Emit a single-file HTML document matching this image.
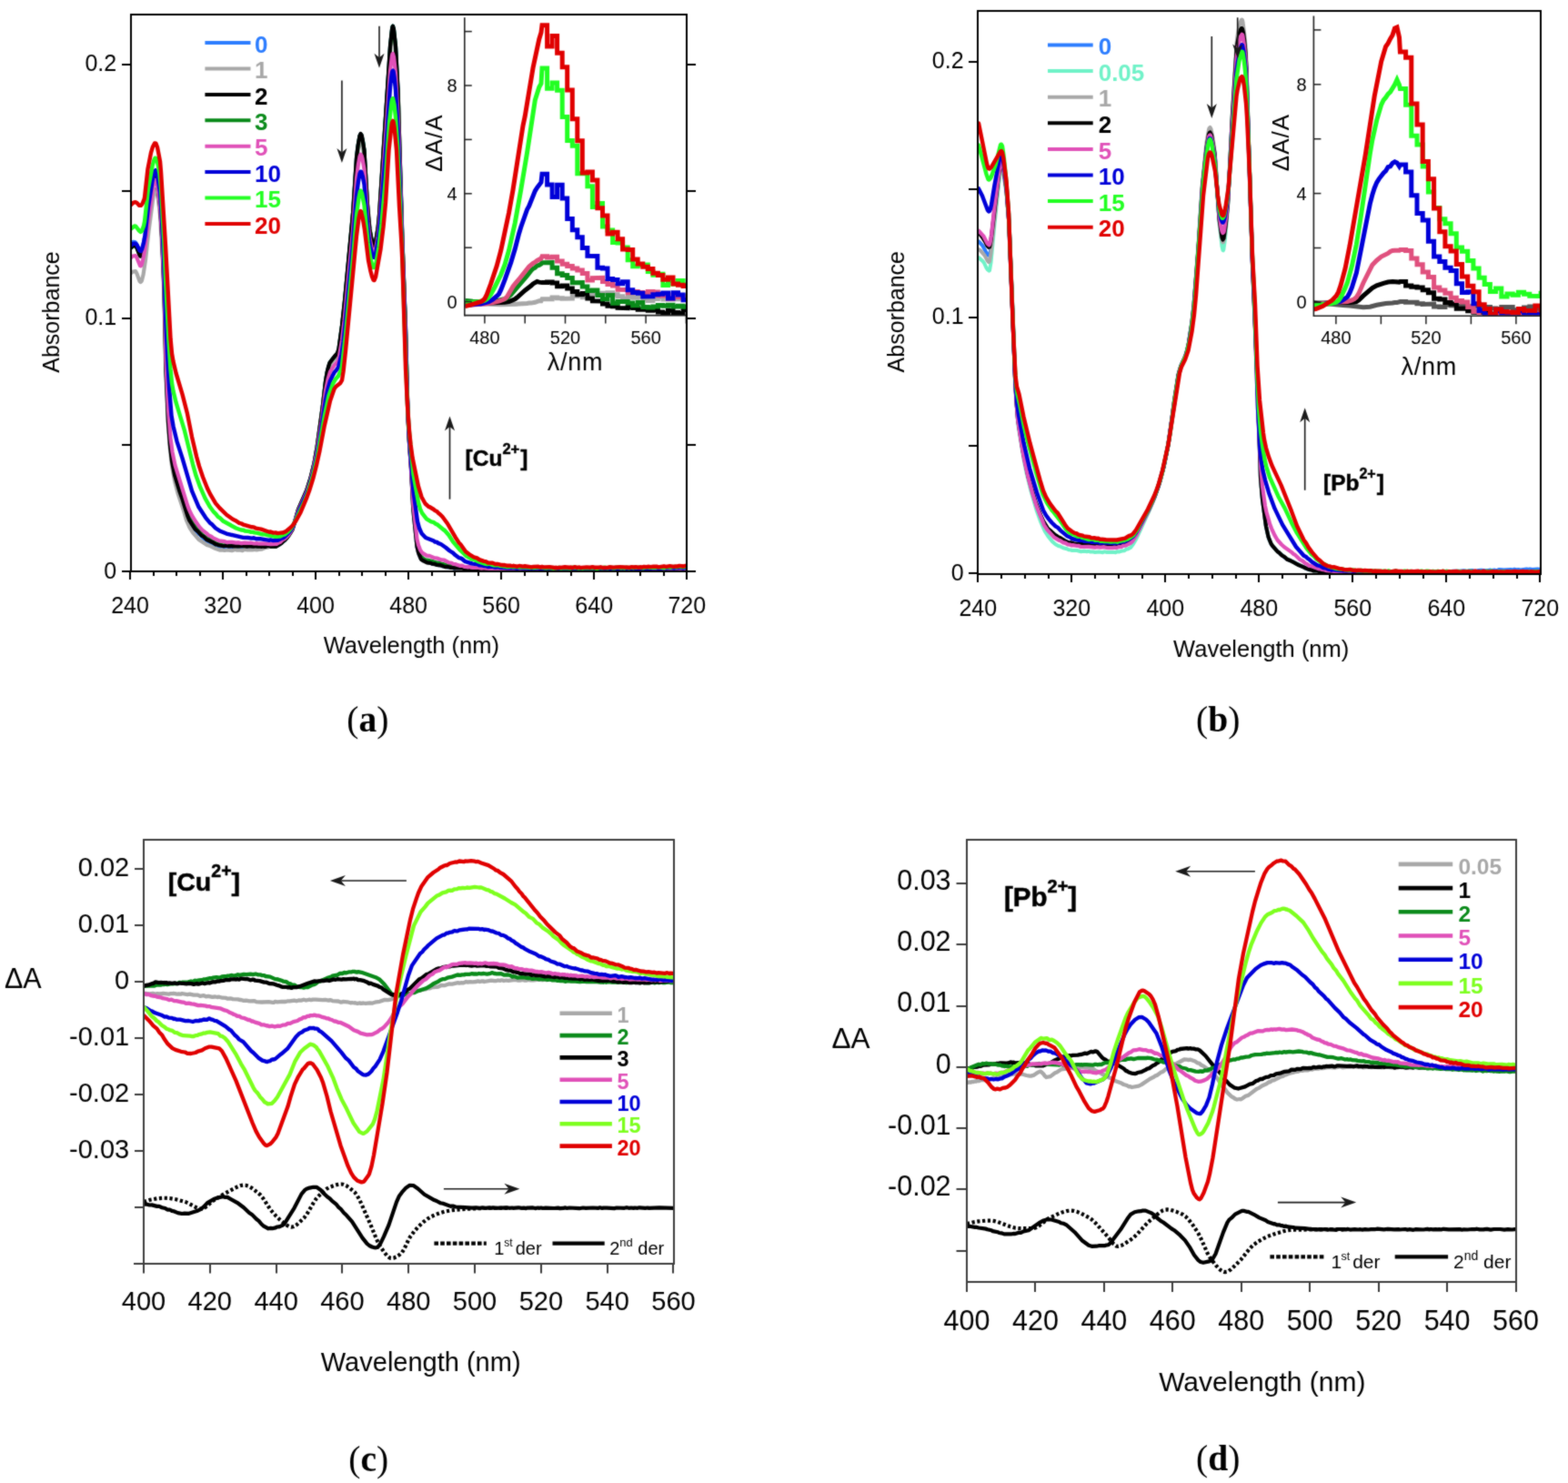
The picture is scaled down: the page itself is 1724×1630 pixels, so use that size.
<!DOCTYPE html>
<html><head><meta charset="utf-8"><title>Figure</title>
<style>html,body{margin:0;padding:0;background:#fff;}svg{display:block;}</style></head>
<body><svg width="1724" height="1630" viewBox="0 0 1724 1630">
<defs>
<filter id="soft" x="0" y="0" width="1724" height="1630" filterUnits="userSpaceOnUse" color-interpolation-filters="sRGB"><feConvolveMatrix order="3" kernelMatrix="1 2 1 2 14 2 1 2 1" divisor="26" edgeMode="duplicate"/></filter>
<clipPath id="clipA"><rect x="144.0" y="16.0" width="611.0" height="612.0"/></clipPath>
<clipPath id="clipB"><rect x="1075.0" y="12.0" width="619.0" height="619.0"/></clipPath>
<clipPath id="clipC"><rect x="158.0" y="923.0" width="583.0" height="466.0"/></clipPath>
<clipPath id="clipD"><rect x="1063.0" y="923.0" width="604.0" height="486.0"/></clipPath>
<clipPath id="clipIA"><rect x="511.5" y="17" width="244" height="329"/></clipPath>
<clipPath id="clipIB"><rect x="1445" y="14" width="248.5" height="332.5"/></clipPath>
</defs>
<g filter="url(#soft)">
<rect width="1724" height="1630" fill="#fff"/>
<g clip-path="url(#clipA)">
<path d="M144.0,268.2 146.5,265.8 148.5,266.0 149.5,267.0 150.5,268.9 154.0,277.0 154.5,277.5 155.0,277.4 156.0,275.7 160.0,255.3 163.5,227.9 168.5,197.1 169.5,193.4 170.5,191.9 171.5,193.2 172.0,194.7 173.5,203.3 175.5,219.6 177.5,249.2 180.5,319.0 182.5,407.3 185.0,464.0 187.0,489.9 189.0,506.9 192.0,523.0 195.5,535.6 199.0,545.6 205.5,566.9 207.5,571.6 212.0,579.3 215.0,583.3 218.0,586.7 220.0,587.9 222.5,590.8 228.5,595.0 231.0,596.1 236.5,599.5 242.0,600.8 243.5,601.7 245.0,601.8 246.0,601.4 247.5,601.6 248.5,602.1 250.5,601.6 254.0,601.3 260.5,602.0 263.0,601.6 265.5,602.0 268.5,601.5 271.5,602.4 273.5,602.1 276.5,602.4 281.0,601.8 283.5,602.5 285.0,602.5 287.5,601.5 291.5,601.3 295.0,600.5 297.5,600.6 298.5,600.2 301.5,600.0 304.0,600.3 306.5,599.1 313.0,594.1 318.0,588.0 322.0,580.5 328.0,559.7 337.5,537.6 342.0,523.1 345.5,508.4 348.5,491.4 352.5,463.7 358.0,418.6 359.5,409.4 362.5,398.9 364.5,395.9 370.5,389.2 371.5,387.3 372.5,383.1 376.0,357.7 379.0,330.2 388.0,234.1 392.0,172.6 393.5,160.3 395.5,149.2 396.5,147.3 397.5,148.7 399.0,154.9 400.5,165.2 404.0,224.8 405.5,243.4 407.0,255.0 409.0,264.8 411.0,269.5 412.0,269.1 413.5,263.6 416.0,247.0 417.0,235.8 429.0,50.3 431.0,31.6 431.5,29.1 432.0,28.6 433.0,32.4 435.0,50.6 437.5,97.6 442.5,264.9 446.0,360.1 448.5,456.8 449.5,480.0 452.0,515.0 454.0,555.2 455.0,567.2 458.5,601.3 460.5,609.2 462.5,614.0 465.0,616.4 470.5,617.9 471.5,618.7 474.0,619.1 475.5,619.9 478.0,619.8 480.0,621.0 482.5,621.0 483.5,621.7 487.5,622.6 489.0,622.5 492.0,623.4 494.5,623.2 500.0,624.8 501.5,624.1 503.5,624.5 505.5,624.3 508.5,625.1 511.5,624.6 519.0,625.2 521.5,624.8 525.0,625.2 526.5,625.8 528.0,625.8 528.5,625.4 531.0,625.6 532.5,625.3 535.0,626.1 540.5,625.7 541.0,626.0 544.0,625.8 545.0,626.1 547.5,625.7 551.0,626.4 556.5,625.5 559.0,626.3 565.0,625.8 565.5,626.2 568.0,625.9 573.5,626.2 576.0,625.8 578.0,626.3 582.0,626.2 583.0,625.8 588.5,626.2 591.0,625.8 595.0,626.2 596.5,625.6 599.0,626.0 600.5,625.7 607.0,626.0 608.0,625.7 610.5,626.0 614.0,625.9 615.5,625.3 618.5,626.0 621.0,625.5 622.0,626.0 624.5,625.6 630.5,626.3 633.5,625.9 637.0,626.2 639.5,625.8 645.0,626.0 646.5,626.5 648.0,626.1 650.0,626.3 652.5,625.6 658.0,626.3 659.5,626.0 660.0,626.2 662.5,625.5 666.0,626.2 669.0,625.6 671.5,626.3 675.5,625.9 680.0,626.5 682.5,626.2 685.5,626.3 687.5,625.8 691.0,626.1 696.5,625.6 697.0,625.9 701.0,625.8 703.5,626.2 707.5,625.4 712.5,626.1 715.0,625.9 717.0,626.3 720.0,625.5 724.0,626.2 725.0,626.1 726.0,625.5 728.5,626.3 730.5,626.1 732.5,625.2 735.5,626.4 737.5,625.8 741.5,626.2 746.5,625.4 749.5,625.9 752.5,625.4 754.5,625.6" fill="none" stroke="#2c7dff" stroke-width="4.00" stroke-linejoin="round" stroke-linecap="round"/>
<path d="M144.0,300.3 145.5,298.9 149.0,298.0 150.5,300.8 153.5,309.0 154.5,310.0 155.5,309.3 156.0,308.1 157.5,302.1 160.0,285.7 163.5,254.0 168.5,216.3 170.5,208.3 171.0,207.8 171.5,208.1 172.5,211.0 174.0,219.7 176.0,236.0 179.0,288.1 180.5,327.2 181.5,382.3 182.5,415.3 184.5,461.6 186.5,489.5 189.0,512.1 192.0,528.6 195.5,542.0 202.5,563.1 205.0,571.9 208.5,579.8 212.0,585.3 218.5,592.9 227.5,598.9 230.0,599.7 236.5,602.8 242.0,604.7 243.5,604.4 247.0,605.0 249.5,604.5 255.0,605.2 258.5,604.1 260.0,604.6 264.0,604.4 266.5,605.2 268.0,604.2 269.5,604.0 272.0,604.5 274.5,604.2 277.5,604.5 279.5,604.0 282.0,604.4 284.0,604.2 284.5,603.8 288.0,603.6 292.0,601.9 295.0,601.4 297.5,600.4 299.0,600.5 301.0,599.8 302.5,600.2 304.0,600.1 305.5,599.5 307.5,597.7 310.0,596.2 317.5,588.9 321.5,581.8 323.5,576.1 327.0,563.1 331.0,552.7 335.5,543.8 341.0,527.5 344.0,515.8 347.5,498.7 355.0,446.7 358.0,421.2 360.0,410.3 361.5,404.5 363.0,400.9 365.5,397.0 369.5,393.2 370.5,391.7 372.5,385.9 376.0,362.1 378.5,340.0 388.0,239.6 392.0,179.6 393.5,167.3 395.5,156.3 396.5,154.4 397.0,154.7 398.0,157.2 400.5,171.8 404.0,228.9 406.5,255.5 408.5,266.1 410.0,271.4 410.5,272.4 411.5,273.1 413.0,269.1 416.0,250.2 417.5,233.4 429.0,58.7 431.0,40.3 432.0,36.9 433.5,44.6 435.0,59.0 438.0,117.1 442.5,266.0 446.0,361.4 448.5,456.3 449.5,479.7 452.0,514.4 454.0,554.6 455.0,566.8 458.5,600.7 460.5,609.4 462.5,613.9 464.5,616.1 466.0,617.0 471.0,618.6 474.0,618.7 478.0,620.5 480.0,620.6 482.5,621.6 484.5,621.3 486.5,622.2 488.5,622.1 491.0,623.0 493.5,623.0 496.0,624.2 498.5,623.9 501.5,624.5 504.0,624.4 506.5,625.4 509.0,624.9 514.0,625.0 516.5,625.6 524.5,625.0 527.0,625.8 531.5,625.3 535.0,626.1 536.5,625.6 539.0,626.0 540.5,625.6 545.0,625.8 545.5,625.4 550.5,626.4 560.5,625.9 562.0,626.2 563.5,625.8 566.0,626.1 567.0,625.7 568.5,625.8 570.5,626.6 573.0,625.5 574.5,626.4 576.5,625.8 580.0,626.5 581.5,626.0 584.0,626.4 592.5,625.7 596.5,626.2 597.5,625.8 599.5,626.1 600.5,625.8 603.0,626.5 607.5,626.0 610.5,626.4 614.0,625.7 619.0,626.5 620.5,626.5 623.0,625.7 625.5,626.2 628.0,625.8 630.5,626.2 633.0,625.7 637.5,626.3 640.0,625.7 642.5,626.5 647.0,625.6 649.5,626.3 654.5,626.0 656.0,626.3 660.0,625.7 662.5,626.3 665.0,626.0 667.5,626.5 670.0,625.8 672.0,626.1 674.5,625.8 676.5,626.2 678.0,625.9 680.5,626.1 681.5,625.5 683.5,626.1 687.5,626.1 688.5,625.7 691.0,625.9 692.0,625.6 694.5,626.1 696.0,625.5 699.0,626.2 702.0,625.7 706.0,626.3 708.5,625.6 710.5,625.7 714.5,626.5 717.0,626.0 722.5,626.2 727.0,626.1 729.0,625.7 731.5,626.0 734.5,626.0 736.0,625.6 741.5,625.7 746.5,625.0 749.0,626.3 750.5,625.6 754.5,625.4" fill="none" stroke="#a8a8a8" stroke-width="4.20" stroke-linejoin="round" stroke-linecap="round"/>
<path d="M144.0,272.7 146.0,270.9 147.5,270.3 149.0,270.3 150.5,272.7 154.0,281.5 154.5,281.9 155.0,281.7 155.5,280.7 157.5,273.0 159.5,262.5 163.5,231.1 168.5,199.3 169.5,195.6 170.5,193.6 171.5,194.5 172.5,198.4 175.5,219.9 177.5,249.1 180.0,302.5 182.5,403.9 185.0,459.1 187.5,491.2 189.0,503.1 190.5,511.5 193.5,523.9 196.5,533.8 200.5,545.0 206.0,563.3 211.0,574.0 217.0,581.9 223.5,588.8 227.5,591.2 228.5,591.4 232.0,594.1 238.5,597.7 242.0,598.4 245.0,599.4 248.5,599.0 252.0,599.6 254.0,599.3 256.5,599.9 259.0,599.6 261.5,600.2 266.0,599.9 268.0,600.3 270.5,599.7 273.5,599.6 277.0,600.4 279.5,599.9 283.5,600.3 288.5,600.3 291.5,599.7 292.5,600.3 295.5,599.7 297.0,599.9 298.0,600.5 302.0,600.7 303.5,600.5 304.5,599.5 307.0,598.7 313.5,593.4 316.0,590.6 319.5,585.7 321.5,581.7 323.5,576.1 328.0,559.5 337.0,539.3 342.0,523.6 346.0,506.4 349.0,488.5 355.0,444.6 358.0,418.6 359.5,409.5 362.5,398.7 366.0,394.0 368.5,391.7 370.5,388.7 371.5,386.9 372.5,383.1 376.0,357.5 378.5,335.2 388.5,228.1 392.0,173.0 394.0,157.3 395.5,149.2 396.5,147.4 397.5,148.6 399.0,154.9 400.5,165.1 404.0,224.3 405.5,243.7 406.5,251.8 408.5,262.8 410.0,268.3 411.0,269.9 411.5,269.8 413.0,266.2 415.5,250.6 417.0,236.2 429.0,50.8 431.0,32.1 431.5,29.4 432.0,28.6 433.0,32.3 435.0,50.2 438.0,110.9 442.0,250.0 446.0,360.7 448.5,456.7 449.5,479.4 452.0,514.1 454.5,559.9 458.5,597.6 459.5,602.6 462.5,611.3 465.5,614.0 467.5,615.1 471.0,615.7 473.5,616.7 474.5,616.6 480.0,618.5 483.0,618.5 485.5,619.8 487.5,620.0 488.5,620.6 489.5,620.5 492.0,621.5 495.0,621.7 498.5,623.0 501.0,622.8 503.5,623.8 509.5,624.1 512.0,623.9 514.5,624.8 516.0,624.8 517.0,624.3 518.5,624.6 520.5,624.3 523.0,625.1 525.0,624.9 526.0,624.5 529.0,625.5 534.0,625.2 536.0,625.8 538.0,625.0 541.0,625.2 542.5,625.9 545.5,625.1 548.0,625.8 551.0,626.1 553.5,625.5 556.0,626.0 557.5,625.6 560.5,625.9 562.0,625.6 564.0,625.8 566.0,625.5 568.5,626.2 577.5,625.8 580.0,626.1 582.0,625.9 584.0,626.5 587.0,625.8 591.5,625.8 592.5,625.4 595.5,626.0 598.5,625.7 600.5,626.4 605.0,625.9 615.5,626.1 620.0,625.2 622.5,625.9 625.0,625.5 626.5,626.2 628.5,625.7 630.5,626.5 633.0,625.8 634.0,626.3 636.5,625.6 639.5,626.1 642.0,625.6 645.0,625.6 647.5,626.2 650.5,625.6 654.5,626.3 657.0,625.6 660.5,626.0 664.5,625.9 668.0,625.3 670.5,626.0 673.0,625.6 678.0,626.5 684.5,626.0 686.0,625.5 688.0,626.3 690.0,626.0 692.5,626.4 696.0,625.4 697.5,625.9 703.0,626.2 709.5,625.7 712.0,626.2 715.5,625.7 718.5,626.3 723.0,625.6 725.0,626.0 727.5,625.6 730.0,625.9 731.0,625.5 733.5,626.0 734.5,625.6 737.0,625.9 738.5,625.5 745.0,625.9 746.5,625.5 754.5,625.3" fill="none" stroke="#0a8a1a" stroke-width="4.00" stroke-linejoin="round" stroke-linecap="round"/>
<path d="M144.0,272.2 146.5,270.2 148.0,269.6 149.0,269.9 150.5,272.6 153.5,280.6 154.0,281.2 155.0,281.4 156.0,279.2 157.5,273.2 160.0,259.1 163.5,231.1 168.0,201.8 169.5,195.8 170.5,194.2 171.0,194.1 171.5,195.0 172.5,198.8 176.0,225.8 178.0,259.6 180.5,319.9 182.5,407.6 185.0,464.1 187.0,489.7 189.0,507.1 192.0,522.2 197.5,540.4 200.0,547.2 206.0,566.4 208.0,571.5 214.5,581.7 217.5,584.2 221.5,588.6 223.5,589.6 227.0,593.0 234.5,596.5 237.0,598.3 238.5,598.4 240.5,599.3 246.0,600.3 249.0,599.7 251.5,600.4 257.0,600.1 263.0,600.5 268.0,600.0 271.5,600.7 274.0,600.1 279.0,600.7 280.0,600.1 283.5,600.7 286.0,600.5 287.0,600.9 289.5,600.4 290.5,600.9 292.0,600.8 294.5,599.9 298.0,600.8 300.5,600.4 303.5,600.6 309.5,597.0 312.0,594.4 313.0,593.8 316.0,590.5 321.5,582.4 327.5,561.2 337.0,539.4 341.0,527.0 345.5,508.7 348.5,491.6 355.0,444.8 358.0,418.5 359.5,409.8 361.0,403.2 362.5,398.7 368.5,390.7 371.0,388.2 372.5,383.1 376.0,357.6 379.0,330.1 388.0,234.0 392.0,172.9 393.5,160.5 395.5,149.2 396.5,147.0 397.5,148.3 398.0,149.8 400.5,165.0 404.0,224.5 406.5,251.8 408.5,262.8 410.5,269.5 411.5,270.0 412.0,269.3 413.0,265.6 415.5,250.9 417.0,235.6 429.0,50.3 431.0,32.1 431.5,29.6 432.0,28.8 433.0,32.2 435.0,50.4 437.5,97.4 442.5,265.0 446.0,360.2 448.5,456.6 449.5,479.7 452.0,515.2 454.0,555.2 455.0,567.1 458.5,600.7 460.0,607.3 463.0,614.8 469.5,618.3 473.5,618.8 475.0,619.6 477.5,619.8 480.0,620.8 484.5,621.2 489.5,623.1 492.5,622.9 495.0,623.8 497.0,623.8 499.5,624.5 501.5,624.3 504.0,624.5 505.0,624.2 508.5,624.5 510.0,625.1 512.5,624.8 514.5,625.5 517.5,624.9 519.5,625.4 522.0,625.2 523.0,625.8 524.5,625.9 525.5,625.3 527.0,625.1 531.0,625.7 534.0,625.2 536.0,625.5 537.5,626.3 540.5,625.7 541.5,626.1 545.0,625.8 547.5,626.0 551.0,625.5 554.0,626.3 559.0,626.1 562.0,626.6 564.5,625.5 568.5,626.1 570.0,625.8 573.5,626.4 576.0,625.6 580.5,626.2 582.5,625.7 585.5,626.3 591.0,626.2 592.5,626.8 595.0,625.7 596.5,626.1 600.5,626.0 601.0,626.2 604.5,625.6 606.0,626.1 608.5,625.8 611.5,626.2 612.0,625.8 621.0,626.0 624.5,625.4 627.0,626.1 628.5,625.6 630.0,625.6 636.0,626.4 639.5,625.6 640.0,626.2 641.5,626.2 642.5,625.7 645.0,626.2 649.0,625.9 651.5,626.2 653.5,625.8 670.0,626.2 675.5,626.2 676.5,625.9 680.0,626.4 685.0,626.0 687.5,626.6 690.0,626.1 697.0,626.1 699.0,625.5 701.5,626.2 702.0,625.8 705.0,626.0 708.0,625.2 710.5,625.9 714.0,625.5 719.0,626.4 722.0,626.1 724.0,626.5 726.0,626.2 728.5,625.2 730.5,626.1 733.0,625.8 736.0,626.4 737.5,626.3 740.0,625.4 747.0,625.9 749.0,625.4 751.0,625.7 754.5,625.3" fill="none" stroke="#000000" stroke-width="4.20" stroke-linejoin="round" stroke-linecap="round"/>
<path d="M144.0,283.2 146.0,281.5 149.0,281.0 150.5,283.5 154.0,292.0 154.5,292.4 155.0,292.2 156.0,290.1 158.0,281.4 159.5,272.4 163.5,238.4 168.5,204.4 169.5,200.1 170.5,197.6 171.5,198.0 172.5,201.6 174.0,210.4 176.0,226.3 178.0,258.0 180.5,315.0 182.5,396.4 185.0,450.0 187.5,481.7 189.5,496.8 192.5,511.4 206.0,555.0 208.0,560.4 211.0,566.6 215.5,573.8 219.5,579.4 222.5,582.6 227.0,586.1 229.5,588.6 232.0,589.5 234.5,591.4 241.0,594.4 247.0,595.2 250.0,596.2 251.5,595.8 255.0,595.9 259.5,596.6 262.0,596.4 265.5,597.2 269.0,596.7 273.5,597.0 276.0,596.7 279.5,597.5 282.5,597.2 284.5,597.7 290.0,597.3 297.5,598.2 304.0,598.0 306.5,596.4 308.0,595.9 310.5,593.4 312.5,592.4 315.5,589.8 317.5,587.5 321.5,581.3 327.5,562.6 337.0,541.2 341.0,529.3 344.5,515.7 348.0,498.8 353.5,463.3 358.0,429.1 360.5,416.8 363.0,408.6 367.5,401.5 371.0,397.8 372.0,395.6 373.0,391.5 376.0,373.8 378.5,352.8 388.0,252.6 392.0,195.8 394.0,180.1 395.5,171.9 396.5,169.7 397.5,170.8 398.5,174.4 400.5,186.2 404.5,243.7 406.5,261.9 408.5,271.5 410.0,276.4 411.0,277.6 411.5,277.5 412.0,276.9 413.0,273.9 415.5,260.0 417.0,246.3 420.0,208.5 429.0,77.9 431.0,61.2 431.5,59.3 432.0,59.0 433.0,62.6 435.0,80.5 438.0,136.2 446.0,368.4 448.5,455.7 449.5,477.6 454.5,555.9 458.5,592.6 460.0,599.0 462.0,604.3 463.5,606.7 465.0,608.1 469.0,610.6 472.0,610.8 477.0,613.0 480.5,613.6 485.5,615.4 488.5,615.7 493.0,618.2 496.5,618.8 498.5,620.0 501.0,620.0 501.5,620.5 505.5,621.8 508.0,621.7 510.5,622.9 513.5,623.1 514.5,623.5 515.0,623.1 517.0,623.2 517.5,623.6 520.0,624.0 526.0,624.0 529.5,624.6 532.0,624.1 534.5,624.7 538.0,625.0 540.5,624.7 545.5,625.5 548.0,624.6 554.0,625.3 557.5,625.1 559.5,625.5 562.0,625.0 564.0,625.8 566.5,625.2 570.0,626.4 571.5,625.3 572.5,625.2 574.0,625.8 577.0,625.3 579.5,625.9 584.5,625.2 586.5,625.5 589.0,625.3 590.0,625.8 594.5,626.1 597.0,625.6 599.5,625.8 601.5,625.3 606.5,625.8 610.5,625.6 613.0,626.1 615.0,626.0 616.5,625.4 618.0,625.3 620.5,625.6 623.5,625.4 626.5,626.0 628.0,625.6 630.5,625.8 632.0,625.5 638.5,625.9 644.0,625.1 650.0,626.1 652.5,625.4 656.5,626.1 661.0,625.3 666.5,625.9 671.5,625.4 673.5,625.9 676.0,625.6 678.0,626.0 679.5,625.6 682.0,626.0 685.5,625.3 688.0,625.8 689.5,625.4 692.0,626.1 694.0,625.7 702.0,625.4 704.5,625.9 707.5,625.4 709.0,626.0 715.5,625.3 722.5,625.4 726.5,626.0 730.0,625.3 732.0,625.7 734.5,625.4 738.0,625.8 739.5,625.0 742.0,625.8 743.5,625.3 745.5,625.6 754.5,625.1" fill="none" stroke="#e050b8" stroke-width="4.20" stroke-linejoin="round" stroke-linecap="round"/>
<path d="M144.0,269.9 146.0,268.1 147.5,267.6 149.0,267.6 150.5,269.3 153.5,275.3 154.5,276.1 155.0,276.0 156.0,274.1 158.0,266.9 159.5,258.6 163.0,227.4 168.0,195.6 169.5,189.5 170.0,188.2 171.0,187.2 172.0,188.8 173.0,192.4 176.0,212.0 177.5,233.2 180.0,281.2 182.0,346.7 184.0,390.9 186.0,425.8 188.5,456.6 190.5,468.4 194.5,485.1 200.5,503.6 211.0,539.6 218.5,557.3 226.0,568.8 231.0,574.8 232.5,575.8 237.0,580.5 241.5,583.4 249.0,586.6 267.5,590.9 272.5,591.0 277.0,591.6 279.0,591.3 281.5,592.3 287.0,592.3 296.0,593.9 297.5,593.4 300.5,594.1 305.5,593.8 310.5,591.3 311.0,591.4 313.0,590.0 316.0,587.0 319.0,583.7 322.0,579.3 328.0,563.5 337.0,542.9 340.0,534.7 344.5,519.0 348.0,502.6 351.5,482.6 358.0,439.4 360.5,427.5 363.0,418.7 365.5,413.3 367.5,409.4 370.0,406.6 372.0,403.7 375.5,389.4 377.5,375.7 379.5,357.0 387.5,272.8 392.0,215.3 394.0,199.3 395.5,190.9 396.5,188.6 397.0,188.6 397.5,189.5 399.0,194.8 400.5,202.9 404.5,252.1 405.5,261.4 407.0,270.7 409.0,279.1 410.5,282.9 411.5,283.0 412.0,282.4 413.0,279.4 416.0,262.1 418.0,243.3 424.0,168.1 429.0,95.5 430.5,82.8 431.0,79.8 431.5,78.1 432.0,77.7 432.5,78.5 433.5,84.6 435.0,99.0 437.5,143.0 442.0,262.2 448.0,442.3 449.5,474.5 454.0,534.4 455.0,543.7 459.0,573.1 461.0,580.5 463.5,586.2 468.0,591.0 477.0,594.5 478.0,595.5 480.5,595.9 481.5,596.9 485.0,598.3 490.0,601.7 494.5,605.5 498.0,607.7 500.5,610.1 504.5,613.1 506.5,613.5 508.0,614.3 511.5,617.2 519.5,619.6 524.5,620.1 527.0,621.2 529.5,621.3 532.0,622.0 534.0,622.0 536.5,623.0 541.5,622.6 544.5,623.6 547.5,623.2 550.0,623.8 554.0,624.1 554.5,623.8 557.0,624.3 561.5,624.0 562.0,624.4 564.0,624.4 564.5,624.1 568.5,624.9 571.0,624.1 574.5,624.6 577.0,624.3 584.5,625.1 586.5,624.7 592.0,624.4 594.0,625.1 596.0,624.5 597.5,624.9 604.5,624.7 608.0,624.9 609.5,625.5 611.5,625.2 613.0,625.5 615.5,624.9 616.5,625.2 621.0,624.6 626.0,625.1 627.0,624.8 629.5,625.2 632.0,624.5 634.5,625.1 637.0,624.7 637.5,625.1 640.5,625.2 645.0,624.7 649.0,625.0 651.5,624.4 654.0,625.1 658.5,625.1 660.5,624.7 663.0,625.3 668.0,625.3 670.0,624.7 674.5,625.0 685.0,624.6 692.0,625.4 695.5,624.6 697.5,625.0 699.0,624.7 701.5,625.3 704.5,624.9 705.5,625.2 708.0,624.6 710.5,624.9 712.5,624.5 715.5,624.8 718.5,624.3 722.5,624.5 724.0,625.1 730.0,624.2 732.5,624.7 736.5,624.0 741.0,624.7 742.5,624.3 745.0,624.4 747.0,623.9 749.5,624.1 751.0,624.5 753.5,623.9 754.5,624.0" fill="none" stroke="#0000d8" stroke-width="4.40" stroke-linejoin="round" stroke-linecap="round"/>
<path d="M144.0,251.4 147.5,248.7 148.5,248.4 149.5,249.0 153.0,253.6 154.5,254.9 156.0,253.8 158.0,248.2 159.0,243.5 163.0,207.3 167.5,182.5 169.5,175.5 170.5,173.7 171.5,173.9 173.0,177.6 175.5,191.1 177.0,206.8 180.5,268.4 182.0,306.2 185.5,374.6 187.5,405.9 189.0,421.2 190.5,429.8 193.5,442.2 203.0,473.7 212.0,510.3 215.5,522.8 220.0,535.2 225.5,547.7 231.0,557.3 235.0,562.7 237.5,565.1 239.5,567.8 242.0,569.4 245.5,572.8 259.5,580.5 265.0,582.5 268.0,582.7 269.0,583.5 274.0,584.1 276.0,584.9 278.5,584.8 279.5,585.4 283.0,585.8 289.0,587.4 291.0,587.4 295.0,588.5 297.5,588.6 302.5,589.9 308.0,589.5 310.5,588.2 313.0,587.4 316.0,585.1 319.0,582.0 321.0,579.3 324.5,573.1 334.5,551.7 338.5,541.5 344.5,521.5 349.0,501.9 357.0,456.1 361.5,434.8 366.0,421.7 369.0,416.6 372.0,413.2 375.0,406.3 376.0,402.5 380.0,368.0 388.5,279.0 392.0,236.4 394.5,217.5 396.0,210.3 396.5,209.6 397.0,210.1 398.0,212.6 400.5,225.7 404.5,266.5 407.0,282.6 409.0,290.4 410.5,293.9 411.0,294.1 412.0,293.4 413.5,288.9 416.5,271.5 419.5,245.8 424.0,195.6 428.0,135.3 430.5,112.5 431.0,109.8 431.5,108.5 432.0,108.2 433.5,115.2 435.0,129.2 437.0,160.0 442.0,270.8 445.5,381.2 448.0,444.3 449.5,469.9 454.5,521.7 460.0,552.1 462.0,559.4 464.0,563.8 469.0,570.3 474.0,573.4 477.0,574.2 479.0,575.8 480.5,576.3 488.0,582.5 488.5,582.5 493.5,588.3 498.0,595.4 506.0,604.7 513.0,611.3 517.5,613.7 518.5,614.6 520.5,614.8 525.5,617.1 534.0,619.8 535.5,620.0 537.5,619.5 543.0,621.3 548.0,621.3 550.5,622.1 551.5,621.7 554.0,622.6 555.0,622.4 557.5,623.0 560.5,622.9 561.5,622.5 564.0,623.2 566.5,622.8 570.0,623.4 580.5,623.6 583.0,624.1 583.5,623.7 585.0,623.6 586.5,624.1 591.5,623.4 600.0,624.2 601.5,624.3 602.5,623.8 608.0,624.7 614.5,623.9 617.0,624.6 620.0,624.1 627.0,624.6 630.0,623.7 634.0,624.0 636.5,624.6 638.0,624.2 640.5,624.7 643.0,624.1 648.5,624.3 653.5,624.0 656.0,625.1 659.5,623.9 662.0,624.3 665.5,623.8 668.0,624.4 671.0,623.5 674.0,624.4 675.5,624.3 677.5,623.6 680.5,623.6 683.0,624.4 684.5,623.9 686.5,624.5 689.0,623.6 691.5,624.3 694.0,623.6 696.5,624.2 698.5,623.4 699.5,623.9 702.0,623.6 707.5,624.2 713.0,623.2 714.0,623.9 715.5,623.9 716.5,623.6 720.5,623.8 723.5,623.2 730.0,624.1 733.0,623.2 734.5,623.1 737.0,623.7 740.5,622.9 744.0,623.3 746.5,622.7 752.0,623.2 754.5,622.7" fill="none" stroke="#22ff22" stroke-width="4.40" stroke-linejoin="round" stroke-linecap="round"/>
<path d="M144.0,225.2 146.0,223.2 147.5,222.4 149.0,222.2 150.5,222.9 153.0,225.7 155.0,225.9 156.5,224.0 158.5,219.2 159.0,217.0 162.5,185.6 166.0,167.8 168.0,161.2 170.0,157.5 171.0,157.4 171.5,157.9 173.0,161.7 176.0,177.3 177.0,189.0 182.0,269.6 187.5,372.3 189.0,388.7 190.5,397.3 193.5,410.0 200.5,433.4 206.0,454.8 211.0,480.2 216.0,501.5 219.0,512.4 223.0,524.2 228.0,536.7 231.0,542.9 237.0,553.1 241.5,558.4 249.0,565.8 256.0,570.8 259.0,572.2 263.0,574.8 265.5,575.5 267.5,576.7 277.0,579.3 279.0,579.4 281.5,580.7 287.0,581.6 296.0,584.8 297.5,584.5 300.5,585.6 303.0,585.5 305.5,586.1 310.5,585.4 311.0,585.6 314.5,583.9 319.0,580.2 322.0,577.2 325.5,572.2 330.5,563.2 337.5,546.3 340.0,539.6 344.5,525.0 348.0,511.2 351.5,495.4 356.5,469.1 363.0,440.6 367.5,427.5 369.5,424.8 374.0,421.3 376.0,417.9 377.5,408.5 380.0,385.5 392.0,259.3 394.5,239.8 396.0,232.7 396.5,232.0 397.0,232.4 399.0,241.0 401.0,253.2 405.0,286.0 407.5,298.3 409.0,304.0 410.5,307.7 411.5,308.1 413.0,304.5 418.5,273.8 421.5,249.3 424.0,222.7 427.5,165.6 430.5,137.8 431.0,135.0 432.0,132.9 432.5,133.7 433.5,139.5 436.0,165.3 439.0,226.5 441.5,267.8 442.5,290.4 446.0,405.3 448.0,446.3 450.0,473.1 451.5,488.2 453.5,503.0 460.0,534.7 463.5,546.2 467.5,553.5 471.5,557.1 472.0,557.0 477.0,560.0 478.0,561.1 480.5,562.2 481.5,563.5 484.0,565.4 486.5,568.0 492.0,575.5 500.5,590.2 504.5,596.4 506.5,598.5 512.0,606.2 516.0,609.3 521.0,612.3 524.5,613.4 527.0,615.1 532.0,616.9 534.0,617.1 536.5,618.5 541.5,618.7 544.5,620.0 547.5,620.0 550.0,620.7 554.0,621.3 554.5,621.0 557.0,621.7 561.5,621.6 562.0,622.0 564.0,622.1 564.5,621.8 568.5,622.7 571.0,622.0 572.5,622.1 574.5,622.6 577.0,622.3 584.5,623.4 586.5,622.9 592.0,622.8 594.0,623.5 596.0,623.0 597.5,623.4 604.5,623.2 608.0,623.6 609.5,624.1 611.5,623.8 613.0,624.1 615.5,623.6 616.5,623.9 621.0,623.3 626.0,623.8 627.0,623.5 629.5,624.0 632.0,623.2 634.5,623.8 637.0,623.4 637.5,623.8 639.5,623.9 645.0,623.4 649.0,623.7 651.5,623.1 654.0,623.8 658.5,623.7 660.5,623.3 663.0,624.0 668.0,623.9 670.0,623.3 674.5,623.6 681.5,623.1 692.0,623.8 694.5,623.1 697.5,623.5 699.0,623.1 701.5,623.7 704.5,623.3 705.5,623.6 708.0,622.9 710.5,623.2 712.5,622.8 715.5,623.1 718.5,622.6 722.5,622.8 724.0,623.3 730.0,622.3 732.5,622.8 736.5,622.1 741.0,622.8 742.5,622.4 745.0,622.5 747.0,622.0 749.5,622.1 751.0,622.6 753.5,621.9 754.5,622.0" fill="none" stroke="#e00000" stroke-width="4.40" stroke-linejoin="round" stroke-linecap="round"/>
</g>
<g stroke="#000" stroke-width="2" fill="none">
<rect x="144.0" y="16.0" width="611.0" height="612.0"/>
</g>
<line x1="134.00" y1="628.00" x2="144.00" y2="628.00" stroke="#000" stroke-width="2.00" stroke-linecap="butt"/>
<line x1="755.00" y1="628.00" x2="765.00" y2="628.00" stroke="#000" stroke-width="2.00" stroke-linecap="butt"/>
<line x1="134.00" y1="489.00" x2="144.00" y2="489.00" stroke="#000" stroke-width="2.00" stroke-linecap="butt"/>
<line x1="755.00" y1="489.00" x2="765.00" y2="489.00" stroke="#000" stroke-width="2.00" stroke-linecap="butt"/>
<line x1="134.00" y1="350.00" x2="144.00" y2="350.00" stroke="#000" stroke-width="2.00" stroke-linecap="butt"/>
<line x1="755.00" y1="350.00" x2="765.00" y2="350.00" stroke="#000" stroke-width="2.00" stroke-linecap="butt"/>
<line x1="134.00" y1="210.00" x2="144.00" y2="210.00" stroke="#000" stroke-width="2.00" stroke-linecap="butt"/>
<line x1="755.00" y1="210.00" x2="765.00" y2="210.00" stroke="#000" stroke-width="2.00" stroke-linecap="butt"/>
<line x1="134.00" y1="71.00" x2="144.00" y2="71.00" stroke="#000" stroke-width="2.00" stroke-linecap="butt"/>
<line x1="755.00" y1="71.00" x2="765.00" y2="71.00" stroke="#000" stroke-width="2.00" stroke-linecap="butt"/>
<line x1="143.00" y1="628.00" x2="143.00" y2="637.00" stroke="#000" stroke-width="2.00" stroke-linecap="butt"/>
<line x1="169.00" y1="628.00" x2="169.00" y2="633.00" stroke="#000" stroke-width="2.00" stroke-linecap="butt"/>
<line x1="194.00" y1="628.00" x2="194.00" y2="633.00" stroke="#000" stroke-width="2.00" stroke-linecap="butt"/>
<line x1="220.00" y1="628.00" x2="220.00" y2="633.00" stroke="#000" stroke-width="2.00" stroke-linecap="butt"/>
<line x1="245.00" y1="628.00" x2="245.00" y2="637.00" stroke="#000" stroke-width="2.00" stroke-linecap="butt"/>
<line x1="271.00" y1="628.00" x2="271.00" y2="633.00" stroke="#000" stroke-width="2.00" stroke-linecap="butt"/>
<line x1="296.00" y1="628.00" x2="296.00" y2="633.00" stroke="#000" stroke-width="2.00" stroke-linecap="butt"/>
<line x1="322.00" y1="628.00" x2="322.00" y2="633.00" stroke="#000" stroke-width="2.00" stroke-linecap="butt"/>
<line x1="347.00" y1="628.00" x2="347.00" y2="637.00" stroke="#000" stroke-width="2.00" stroke-linecap="butt"/>
<line x1="373.00" y1="628.00" x2="373.00" y2="633.00" stroke="#000" stroke-width="2.00" stroke-linecap="butt"/>
<line x1="398.00" y1="628.00" x2="398.00" y2="633.00" stroke="#000" stroke-width="2.00" stroke-linecap="butt"/>
<line x1="424.00" y1="628.00" x2="424.00" y2="633.00" stroke="#000" stroke-width="2.00" stroke-linecap="butt"/>
<line x1="449.00" y1="628.00" x2="449.00" y2="637.00" stroke="#000" stroke-width="2.00" stroke-linecap="butt"/>
<line x1="475.00" y1="628.00" x2="475.00" y2="633.00" stroke="#000" stroke-width="2.00" stroke-linecap="butt"/>
<line x1="500.00" y1="628.00" x2="500.00" y2="633.00" stroke="#000" stroke-width="2.00" stroke-linecap="butt"/>
<line x1="526.00" y1="628.00" x2="526.00" y2="633.00" stroke="#000" stroke-width="2.00" stroke-linecap="butt"/>
<line x1="551.00" y1="628.00" x2="551.00" y2="637.00" stroke="#000" stroke-width="2.00" stroke-linecap="butt"/>
<line x1="577.00" y1="628.00" x2="577.00" y2="633.00" stroke="#000" stroke-width="2.00" stroke-linecap="butt"/>
<line x1="602.00" y1="628.00" x2="602.00" y2="633.00" stroke="#000" stroke-width="2.00" stroke-linecap="butt"/>
<line x1="628.00" y1="628.00" x2="628.00" y2="633.00" stroke="#000" stroke-width="2.00" stroke-linecap="butt"/>
<line x1="653.00" y1="628.00" x2="653.00" y2="637.00" stroke="#000" stroke-width="2.00" stroke-linecap="butt"/>
<line x1="679.00" y1="628.00" x2="679.00" y2="633.00" stroke="#000" stroke-width="2.00" stroke-linecap="butt"/>
<line x1="704.00" y1="628.00" x2="704.00" y2="633.00" stroke="#000" stroke-width="2.00" stroke-linecap="butt"/>
<line x1="730.00" y1="628.00" x2="730.00" y2="633.00" stroke="#000" stroke-width="2.00" stroke-linecap="butt"/>
<line x1="755.00" y1="628.00" x2="755.00" y2="637.00" stroke="#000" stroke-width="2.00" stroke-linecap="butt"/>
<text x="143.00" y="673.60" font-size="25.00" text-anchor="middle" font-weight="normal" fill="#000" font-family="&quot;Liberation Sans&quot;, Arial, sans-serif">240</text>
<text x="245.04" y="673.60" font-size="25.00" text-anchor="middle" font-weight="normal" fill="#000" font-family="&quot;Liberation Sans&quot;, Arial, sans-serif">320</text>
<text x="347.08" y="673.60" font-size="25.00" text-anchor="middle" font-weight="normal" fill="#000" font-family="&quot;Liberation Sans&quot;, Arial, sans-serif">400</text>
<text x="449.12" y="673.60" font-size="25.00" text-anchor="middle" font-weight="normal" fill="#000" font-family="&quot;Liberation Sans&quot;, Arial, sans-serif">480</text>
<text x="551.16" y="673.60" font-size="25.00" text-anchor="middle" font-weight="normal" fill="#000" font-family="&quot;Liberation Sans&quot;, Arial, sans-serif">560</text>
<text x="653.20" y="673.60" font-size="25.00" text-anchor="middle" font-weight="normal" fill="#000" font-family="&quot;Liberation Sans&quot;, Arial, sans-serif">640</text>
<text x="755.24" y="673.60" font-size="25.00" text-anchor="middle" font-weight="normal" fill="#000" font-family="&quot;Liberation Sans&quot;, Arial, sans-serif">720</text>
<text x="128.20" y="635.70" font-size="25.00" text-anchor="end" font-weight="normal" fill="#000" font-family="&quot;Liberation Sans&quot;, Arial, sans-serif">0</text>
<text x="128.20" y="356.90" font-size="25.00" text-anchor="end" font-weight="normal" fill="#000" font-family="&quot;Liberation Sans&quot;, Arial, sans-serif">0.1</text>
<text x="128.20" y="78.10" font-size="25.00" text-anchor="end" font-weight="normal" fill="#000" font-family="&quot;Liberation Sans&quot;, Arial, sans-serif">0.2</text>
<text x="64.50" y="343.00" font-size="25.00" text-anchor="middle" font-weight="normal" fill="#000" font-family="&quot;Liberation Sans&quot;, Arial, sans-serif" transform="rotate(-90 64.5 343)">Absorbance</text>
<text x="452.30" y="718.40" font-size="25.50" text-anchor="middle" font-weight="normal" fill="#000" font-family="&quot;Liberation Sans&quot;, Arial, sans-serif">Wavelength (nm)</text>
<line x1="225.40" y1="47.10" x2="275.50" y2="47.10" stroke="#2c7dff" stroke-width="4.00" stroke-linecap="butt"/>
<text x="280.00" y="57.70" font-size="26.00" text-anchor="start" font-weight="bold" fill="#2c7dff" font-family="&quot;Liberation Sans&quot;, Arial, sans-serif">0</text>
<line x1="225.40" y1="75.50" x2="275.50" y2="75.50" stroke="#a8a8a8" stroke-width="4.00" stroke-linecap="butt"/>
<text x="280.00" y="86.10" font-size="26.00" text-anchor="start" font-weight="bold" fill="#a8a8a8" font-family="&quot;Liberation Sans&quot;, Arial, sans-serif">1</text>
<line x1="225.40" y1="103.90" x2="275.50" y2="103.90" stroke="#000000" stroke-width="4.00" stroke-linecap="butt"/>
<text x="280.00" y="114.50" font-size="26.00" text-anchor="start" font-weight="bold" fill="#000000" font-family="&quot;Liberation Sans&quot;, Arial, sans-serif">2</text>
<line x1="225.40" y1="132.30" x2="275.50" y2="132.30" stroke="#0a8a1a" stroke-width="4.00" stroke-linecap="butt"/>
<text x="280.00" y="142.90" font-size="26.00" text-anchor="start" font-weight="bold" fill="#0a8a1a" font-family="&quot;Liberation Sans&quot;, Arial, sans-serif">3</text>
<line x1="225.40" y1="160.70" x2="275.50" y2="160.70" stroke="#e050b8" stroke-width="4.00" stroke-linecap="butt"/>
<text x="280.00" y="171.30" font-size="26.00" text-anchor="start" font-weight="bold" fill="#e050b8" font-family="&quot;Liberation Sans&quot;, Arial, sans-serif">5</text>
<line x1="225.40" y1="189.10" x2="275.50" y2="189.10" stroke="#0000d8" stroke-width="4.00" stroke-linecap="butt"/>
<text x="280.00" y="199.70" font-size="26.00" text-anchor="start" font-weight="bold" fill="#0000d8" font-family="&quot;Liberation Sans&quot;, Arial, sans-serif">10</text>
<line x1="225.40" y1="217.50" x2="275.50" y2="217.50" stroke="#22ff22" stroke-width="4.00" stroke-linecap="butt"/>
<text x="280.00" y="228.10" font-size="26.00" text-anchor="start" font-weight="bold" fill="#22ff22" font-family="&quot;Liberation Sans&quot;, Arial, sans-serif">15</text>
<line x1="225.40" y1="245.90" x2="275.50" y2="245.90" stroke="#e00000" stroke-width="4.00" stroke-linecap="butt"/>
<text x="280.00" y="256.50" font-size="26.00" text-anchor="start" font-weight="bold" fill="#e00000" font-family="&quot;Liberation Sans&quot;, Arial, sans-serif">20</text>
<line x1="375.90" y1="88.50" x2="375.90" y2="167.38" stroke="#1a1a1a" stroke-width="1.60" stroke-linecap="butt"/>
<path d="M375.90,178.90 L370.40,162.90 L375.90,167.38 L381.40,162.90 Z" fill="#1a1a1a"/>
<line x1="417.00" y1="28.70" x2="417.00" y2="63.28" stroke="#1a1a1a" stroke-width="1.60" stroke-linecap="butt"/>
<path d="M417.00,74.80 L411.50,58.80 L417.00,63.28 L422.50,58.80 Z" fill="#1a1a1a"/>
<line x1="494.50" y1="548.70" x2="494.50" y2="468.92" stroke="#1a1a1a" stroke-width="1.60" stroke-linecap="butt"/>
<path d="M494.50,457.40 L489.00,473.40 L494.50,468.92 L500.00,473.40 Z" fill="#1a1a1a"/>
<text x="511.6" y="511.8" font-size="24.5" font-weight="bold" font-family="&quot;Liberation Sans&quot;, Arial, sans-serif" stroke="#000" stroke-width="0.5">[Cu<tspan font-size="16.5" dy="-13">2+</tspan><tspan dy="13" dx="1">]</tspan></text>
<g clip-path="url(#clipB)">
<path d="M1076.0,265.4 1080.5,270.2 1085.0,278.6 1086.5,280.6 1087.5,280.8 1088.0,280.4 1088.5,278.8 1090.0,268.7 1093.0,239.3 1099.0,188.9 1100.0,183.3 1101.0,180.7 1101.5,180.7 1102.5,183.4 1103.5,188.2 1106.5,209.5 1109.5,247.2 1116.0,414.4 1117.5,441.5 1119.0,459.8 1120.5,471.1 1124.5,495.3 1128.0,513.2 1132.0,529.6 1139.0,553.0 1145.0,568.4 1148.5,576.0 1152.0,581.0 1156.0,584.9 1162.0,589.9 1165.5,591.9 1170.0,593.7 1175.0,596.5 1176.5,596.5 1178.5,597.6 1181.0,598.0 1183.5,597.6 1184.5,598.2 1186.5,598.3 1188.5,597.9 1193.0,598.9 1194.5,598.9 1195.5,598.5 1198.0,598.9 1199.5,598.8 1205.0,599.9 1207.5,599.0 1213.5,600.2 1218.0,600.3 1219.0,599.9 1225.0,599.8 1226.0,600.2 1231.5,599.2 1234.0,598.1 1237.5,597.9 1243.0,595.2 1245.0,593.2 1250.0,585.7 1262.0,562.7 1269.5,546.1 1274.0,533.5 1279.5,513.4 1284.5,488.3 1291.5,437.6 1296.0,410.3 1298.0,403.2 1304.0,389.3 1307.0,377.1 1310.0,358.1 1312.0,342.4 1317.5,273.2 1322.0,205.4 1326.0,166.3 1327.5,154.8 1329.0,147.3 1330.0,145.2 1330.5,145.2 1331.5,147.0 1333.0,152.9 1335.0,165.2 1336.5,179.5 1340.5,240.3 1343.0,258.6 1344.0,262.8 1344.5,263.9 1345.0,263.8 1346.0,260.2 1348.0,245.2 1350.5,216.8 1355.0,126.3 1359.0,62.0 1360.0,51.6 1362.0,40.7 1364.0,32.9 1365.0,31.1 1365.5,31.0 1366.0,31.3 1366.5,33.2 1368.0,42.9 1369.5,58.1 1370.5,76.1 1377.0,289.9 1382.0,406.6 1386.0,524.6 1388.0,549.0 1392.0,579.0 1395.0,591.8 1398.5,599.3 1407.0,608.3 1409.5,610.0 1411.5,612.0 1416.0,615.0 1419.0,616.4 1421.5,617.1 1424.5,619.2 1427.0,620.1 1431.5,622.7 1434.0,623.5 1437.0,625.4 1440.0,626.3 1448.0,627.0 1450.5,627.8 1453.0,627.4 1457.5,628.3 1460.0,627.8 1463.0,628.4 1465.5,628.1 1472.5,628.7 1475.5,628.0 1478.0,628.8 1483.5,628.5 1486.5,629.2 1490.5,628.8 1492.0,629.1 1494.5,628.7 1499.0,629.1 1503.5,628.6 1506.0,629.1 1508.0,628.5 1516.5,629.4 1518.5,629.3 1519.0,628.9 1522.0,629.3 1523.0,628.6 1524.0,628.6 1529.0,629.4 1530.5,628.9 1533.0,629.3 1536.5,628.8 1539.0,629.5 1541.5,628.6 1545.5,629.6 1547.0,629.0 1549.5,629.3 1550.5,628.8 1551.5,629.1 1554.5,628.6 1563.0,629.2 1565.5,628.2 1569.0,628.9 1570.5,628.6 1573.5,628.7 1574.5,628.3 1575.5,628.6 1578.0,628.0 1585.5,628.7 1590.5,627.8 1591.5,628.2 1594.5,627.9 1595.0,628.3 1597.5,627.7 1605.0,627.8 1609.5,627.2 1613.5,627.9 1615.5,627.2 1619.0,626.9 1620.0,627.5 1622.0,627.8 1623.5,627.7 1625.5,627.0 1628.5,626.8 1634.5,627.3 1638.0,626.6 1640.0,626.9 1643.5,626.6 1646.0,627.1 1648.0,626.1 1651.5,626.2 1653.0,626.6 1661.0,625.9 1663.0,626.5 1665.0,625.7 1667.5,626.2 1669.5,625.9 1671.5,626.4 1678.5,625.4 1680.0,625.9 1682.0,625.6 1684.0,625.7 1684.5,626.1 1690.5,625.4 1693.0,625.8" fill="none" stroke="#2c7dff" stroke-width="4.00" stroke-linejoin="round" stroke-linecap="round"/>
<path d="M1076.0,283.1 1080.5,287.1 1082.0,289.0 1084.5,294.3 1086.0,296.5 1087.5,297.7 1088.0,297.3 1089.5,288.7 1093.5,246.4 1099.0,194.6 1100.0,188.2 1101.0,184.9 1101.5,184.7 1102.0,185.3 1103.0,188.8 1106.5,211.7 1109.5,248.2 1116.0,415.8 1117.5,443.3 1119.5,467.5 1125.5,504.6 1128.5,519.4 1133.0,537.9 1139.5,560.5 1144.5,574.2 1148.5,583.3 1153.0,590.3 1157.0,595.3 1160.5,598.3 1164.0,600.2 1165.0,600.2 1169.0,602.3 1173.0,603.3 1175.0,604.3 1177.5,604.5 1178.5,605.1 1184.0,605.0 1188.5,606.2 1192.0,605.8 1195.0,606.3 1196.0,605.9 1197.5,606.0 1198.5,606.5 1202.0,606.5 1204.0,607.0 1209.0,606.6 1212.5,607.2 1214.5,606.4 1217.0,607.0 1225.0,606.9 1226.5,607.3 1228.5,606.2 1231.0,606.4 1233.5,605.6 1236.0,605.3 1238.5,603.6 1240.0,603.4 1243.0,602.0 1246.0,598.1 1249.5,592.0 1263.0,562.7 1268.5,549.6 1275.0,530.7 1279.5,513.6 1284.5,488.9 1291.5,437.4 1295.5,412.3 1298.0,402.8 1302.0,394.4 1305.0,386.0 1307.0,376.7 1310.0,357.9 1312.5,336.5 1317.5,273.2 1322.0,205.1 1326.0,166.3 1327.5,155.0 1329.0,147.5 1329.5,146.0 1330.5,145.6 1331.0,145.7 1332.0,147.6 1335.5,166.3 1337.0,184.9 1340.5,244.2 1343.5,270.9 1344.5,275.0 1345.0,275.3 1345.5,273.6 1347.0,262.5 1350.0,228.0 1355.0,122.8 1359.0,62.1 1360.0,51.5 1362.0,40.2 1363.5,34.4 1364.5,32.1 1365.5,31.0 1366.5,33.0 1367.0,35.4 1368.5,47.5 1370.0,65.3 1370.5,76.1 1377.0,290.0 1382.0,406.6 1386.0,524.7 1387.5,543.8 1391.0,572.5 1394.0,588.5 1395.5,593.2 1397.5,597.3 1403.0,604.9 1413.0,612.8 1417.5,615.3 1418.5,616.2 1423.5,618.6 1426.0,620.3 1427.0,620.3 1428.5,621.0 1429.5,621.7 1432.0,622.6 1434.5,624.3 1438.0,625.2 1440.0,626.5 1442.0,626.6 1445.0,627.5 1451.5,627.2 1453.0,627.9 1454.5,627.7 1457.0,628.3 1463.5,627.9 1466.5,628.7 1468.5,628.4 1478.0,628.7 1480.0,628.4 1482.5,629.2 1484.5,628.9 1485.5,628.3 1492.0,629.2 1493.0,628.8 1496.5,629.0 1499.0,628.3 1501.5,629.2 1503.5,628.9 1506.0,629.3 1511.5,628.5 1514.0,629.4 1515.5,628.9 1518.0,629.3 1522.5,629.1 1524.5,628.5 1527.0,629.0 1533.0,629.0 1535.5,629.7 1538.5,629.1 1541.0,629.4 1546.5,628.8 1549.0,629.3 1554.0,628.9 1555.5,629.4 1557.0,629.4 1560.0,628.8 1563.0,629.2 1565.5,628.6 1569.0,629.6 1571.5,629.1 1573.5,629.7 1578.0,629.0 1585.5,629.6 1588.0,629.0 1591.0,629.2 1595.0,628.9 1598.0,629.8 1600.0,629.4 1602.5,629.6 1605.0,629.1 1608.5,629.9 1613.0,629.3 1615.5,629.7 1618.0,628.9 1620.5,629.6 1623.5,629.0 1628.5,629.6 1631.0,629.1 1633.0,629.8 1635.0,629.2 1639.5,629.7 1644.5,629.7 1646.0,629.1 1648.5,629.6 1651.0,629.4 1653.5,629.8 1661.0,629.2 1663.5,629.7 1666.0,629.4 1667.0,629.9 1667.5,629.5 1670.0,629.8 1672.5,629.4 1675.0,629.6 1675.5,629.2 1676.5,629.6 1679.5,629.3 1680.5,629.8 1682.0,629.8 1683.0,629.4 1685.5,629.6 1688.0,629.0 1690.5,629.8 1691.5,629.1 1693.0,629.1" fill="none" stroke="#70f2c8" stroke-width="4.00" stroke-linejoin="round" stroke-linecap="round"/>
<path d="M1076.0,274.1 1078.0,275.4 1082.5,280.6 1086.0,287.0 1087.0,287.9 1087.5,287.9 1088.0,287.1 1089.5,278.5 1098.5,194.4 1100.5,183.1 1101.0,181.8 1101.5,181.6 1102.5,183.9 1106.5,210.2 1109.5,247.8 1116.0,415.2 1117.5,442.4 1119.5,465.6 1126.0,504.9 1130.0,523.0 1135.5,543.5 1138.5,552.9 1143.0,564.9 1148.5,577.2 1152.5,582.2 1159.5,589.7 1162.0,590.7 1162.5,591.4 1165.0,592.7 1166.5,594.2 1169.0,594.5 1171.0,595.3 1174.5,597.3 1178.5,598.9 1183.0,598.8 1186.5,599.7 1188.5,598.9 1191.0,599.4 1194.0,599.4 1197.0,600.2 1199.5,600.2 1200.5,600.8 1203.0,600.6 1204.0,600.9 1206.0,600.5 1216.0,601.2 1218.5,600.7 1223.5,600.6 1227.0,601.1 1229.5,600.5 1230.5,600.6 1231.5,600.0 1233.5,600.0 1236.5,599.0 1238.5,597.7 1240.0,597.5 1240.5,596.9 1245.0,594.6 1250.0,586.9 1257.0,572.5 1262.5,562.5 1270.0,545.2 1274.5,532.6 1278.5,517.8 1284.0,491.3 1287.0,471.5 1291.5,436.4 1296.0,408.8 1298.0,402.8 1303.0,391.7 1305.0,385.2 1307.0,375.8 1310.5,352.7 1312.5,334.4 1317.5,269.6 1321.5,206.1 1326.5,156.8 1329.0,142.4 1329.5,140.9 1330.5,139.9 1331.5,141.7 1333.0,148.4 1334.5,158.2 1336.5,177.4 1339.5,230.3 1340.5,242.0 1342.5,258.3 1344.0,265.6 1344.5,266.4 1345.0,266.1 1346.0,262.8 1348.5,242.9 1350.5,218.4 1355.0,121.7 1359.5,48.6 1360.5,39.6 1362.0,31.2 1363.5,24.9 1365.0,21.7 1365.5,21.5 1366.0,22.1 1366.5,24.0 1368.0,34.9 1369.5,50.7 1370.5,69.7 1377.0,290.7 1382.0,407.6 1386.0,525.3 1388.0,548.5 1391.5,575.9 1394.5,589.9 1397.0,596.5 1402.5,604.2 1409.0,610.2 1411.0,611.1 1416.5,615.1 1418.0,615.4 1420.5,617.5 1423.0,618.2 1425.5,620.1 1428.0,620.6 1434.5,624.2 1436.5,624.5 1439.5,626.2 1442.5,627.3 1444.0,627.0 1447.0,627.6 1448.0,627.3 1450.5,628.1 1456.0,627.6 1459.5,627.9 1462.0,628.7 1464.5,628.1 1467.0,629.1 1469.5,628.5 1471.0,628.8 1473.5,628.5 1476.0,629.0 1481.0,628.5 1481.5,628.9 1483.5,629.0 1485.0,628.4 1486.5,628.3 1488.5,629.1 1491.0,628.7 1492.5,629.4 1495.0,628.7 1497.5,629.3 1501.0,629.0 1503.0,629.3 1505.5,628.6 1508.0,629.0 1509.5,628.8 1513.5,629.7 1516.5,629.0 1518.0,629.3 1523.0,628.8 1526.0,629.4 1529.0,628.8 1532.5,629.5 1535.0,628.9 1537.0,629.5 1538.5,628.9 1541.0,629.7 1544.0,630.1 1546.0,629.2 1553.0,629.5 1555.5,629.0 1560.0,629.7 1564.5,629.0 1567.0,629.4 1569.0,629.2 1571.0,629.8 1573.5,629.0 1576.0,629.6 1578.5,629.3 1581.0,629.8 1584.5,629.3 1588.5,629.7 1591.0,629.3 1591.5,629.6 1594.0,629.1 1595.5,629.6 1596.0,629.3 1601.0,629.8 1603.0,629.1 1606.0,629.1 1611.0,630.0 1612.5,629.9 1613.0,629.4 1614.5,629.1 1615.5,629.5 1619.0,629.2 1620.0,629.5 1623.0,629.1 1633.5,629.8 1639.5,629.3 1642.0,630.2 1646.0,629.6 1647.0,629.1 1649.0,629.3 1650.5,629.0 1655.0,629.7 1657.5,629.2 1663.0,629.6 1666.5,629.2 1672.0,629.6 1675.0,629.1 1676.0,629.4 1682.5,629.7 1686.0,629.2 1690.5,629.7 1693.0,629.4" fill="none" stroke="#a8a8a8" stroke-width="4.00" stroke-linejoin="round" stroke-linecap="round"/>
<path d="M1076.0,256.8 1078.0,258.0 1080.0,260.6 1083.0,265.3 1085.5,270.3 1087.0,271.8 1088.0,271.5 1089.0,267.3 1090.0,260.3 1098.5,188.3 1100.5,178.8 1101.5,178.1 1102.5,180.9 1104.0,189.4 1106.5,208.3 1109.5,246.6 1116.0,414.7 1117.5,441.4 1119.0,460.1 1125.0,497.7 1130.5,523.8 1138.5,551.2 1144.0,565.8 1147.0,572.5 1152.0,580.9 1156.0,584.2 1159.5,587.6 1162.0,589.0 1163.0,590.1 1165.5,590.9 1170.5,594.3 1174.5,596.2 1178.0,596.3 1180.5,597.5 1183.0,597.5 1183.5,598.0 1186.5,597.7 1188.0,598.1 1188.5,597.8 1191.0,598.4 1194.0,597.9 1195.5,598.5 1198.5,598.4 1200.5,599.1 1204.5,599.4 1209.5,599.1 1215.5,599.6 1219.5,599.0 1222.0,599.4 1225.0,599.2 1227.5,599.8 1230.0,598.8 1236.5,597.6 1239.0,596.0 1242.5,594.9 1244.0,593.7 1248.5,588.2 1250.5,584.8 1256.5,572.4 1263.5,559.5 1267.5,550.8 1271.0,541.9 1275.5,528.5 1279.5,512.9 1284.0,491.3 1286.0,478.9 1291.0,441.3 1295.5,412.4 1298.5,402.2 1303.5,391.0 1305.5,384.0 1307.0,376.9 1310.5,354.5 1312.5,336.8 1317.5,273.2 1322.0,205.0 1326.5,162.4 1329.0,147.9 1330.0,145.6 1330.5,145.4 1332.0,148.4 1335.5,168.7 1340.5,240.4 1343.5,260.9 1344.5,263.5 1345.5,261.9 1347.5,248.9 1350.0,224.5 1355.0,126.4 1359.5,56.0 1360.5,47.3 1362.0,40.0 1364.0,32.7 1365.0,31.1 1365.5,31.0 1366.0,31.8 1367.0,35.9 1368.0,43.0 1369.5,57.9 1370.5,76.0 1377.0,290.1 1382.5,419.7 1386.0,525.3 1388.0,548.7 1392.0,578.6 1394.5,589.9 1397.5,597.6 1399.0,599.9 1405.0,606.6 1406.5,607.4 1409.5,610.4 1412.5,612.3 1415.0,614.7 1419.5,616.5 1427.0,620.7 1433.5,623.4 1435.0,624.3 1439.0,625.9 1441.5,626.2 1444.0,627.4 1446.5,627.2 1449.5,627.8 1452.0,627.6 1454.0,627.9 1455.5,627.6 1457.0,628.2 1461.5,627.4 1464.0,628.3 1466.5,627.8 1469.5,628.3 1473.0,628.0 1477.5,628.6 1482.5,628.5 1489.0,629.1 1491.5,628.8 1496.5,629.5 1497.5,629.0 1503.0,629.3 1508.5,628.9 1515.5,629.6 1517.5,628.8 1520.5,629.1 1521.5,628.7 1524.5,629.4 1526.0,629.1 1528.5,629.3 1530.0,628.6 1536.5,629.4 1540.5,628.8 1544.0,629.5 1553.0,628.9 1555.5,629.6 1558.0,629.6 1560.5,629.1 1562.5,629.1 1563.0,629.5 1566.0,628.7 1568.0,629.4 1572.0,628.9 1579.5,629.8 1582.5,629.3 1586.5,629.7 1589.0,629.0 1591.0,629.5 1593.5,629.0 1598.0,629.8 1601.0,628.8 1602.5,629.4 1608.5,629.2 1613.5,629.8 1616.5,629.2 1618.5,629.4 1622.5,629.0 1626.5,629.6 1628.5,629.1 1631.0,629.6 1634.5,629.0 1636.5,629.7 1637.5,629.1 1639.0,629.0 1641.5,629.6 1646.0,629.6 1647.5,629.2 1650.0,629.7 1652.5,629.5 1655.0,629.8 1657.5,629.1 1661.0,629.4 1663.5,629.0 1664.5,629.7 1665.5,629.3 1670.0,630.0 1678.0,629.5 1685.0,629.6 1687.0,630.1 1689.0,629.5 1693.0,629.2" fill="none" stroke="#000000" stroke-width="4.20" stroke-linejoin="round" stroke-linecap="round"/>
<path d="M1076.0,253.7 1081.5,259.7 1085.5,267.6 1087.5,269.3 1088.5,267.5 1090.0,258.6 1093.0,230.9 1098.5,187.2 1100.5,178.1 1101.0,177.5 1101.5,177.6 1102.5,180.2 1104.5,192.0 1106.5,207.7 1109.5,246.5 1116.0,415.4 1117.5,442.0 1119.0,460.7 1123.5,490.3 1126.5,506.8 1130.5,524.6 1135.0,541.4 1139.5,555.9 1148.0,577.1 1151.5,582.4 1159.0,590.6 1164.5,593.9 1165.0,593.8 1168.5,596.1 1171.5,596.9 1174.0,598.3 1176.5,598.6 1178.0,599.3 1179.5,599.1 1184.5,600.0 1185.5,599.8 1188.5,601.0 1197.0,600.9 1204.0,601.7 1205.5,601.2 1210.0,601.7 1214.0,601.2 1218.0,602.2 1223.5,602.1 1225.5,601.6 1227.5,602.1 1230.5,601.0 1233.0,601.1 1235.0,599.6 1237.5,599.7 1243.5,596.6 1245.0,595.0 1249.5,588.0 1266.5,553.5 1270.0,545.0 1276.5,525.2 1281.5,503.7 1284.5,488.1 1291.0,441.8 1296.0,410.8 1298.0,403.3 1304.5,388.2 1306.5,380.2 1310.0,359.0 1312.5,338.1 1317.0,282.5 1322.0,208.5 1326.0,170.1 1327.5,158.3 1329.0,150.3 1330.0,148.6 1330.5,148.4 1331.0,149.2 1332.5,153.8 1333.5,159.4 1336.0,176.4 1340.5,236.3 1342.5,249.8 1343.5,253.9 1344.5,256.1 1345.5,255.0 1346.0,253.1 1348.5,235.6 1350.5,214.7 1355.0,132.8 1359.5,64.9 1360.5,56.5 1362.5,45.7 1364.0,40.2 1365.5,37.8 1366.0,38.2 1366.5,39.9 1368.0,50.0 1369.5,64.6 1370.5,81.3 1377.0,288.4 1379.0,332.7 1383.0,449.8 1386.0,510.7 1388.0,534.5 1391.0,556.1 1392.5,563.0 1396.0,575.4 1398.0,580.8 1401.5,588.4 1404.5,593.5 1409.0,598.5 1412.0,601.3 1420.0,606.9 1422.5,609.2 1423.5,609.5 1429.5,615.2 1432.0,616.3 1435.5,619.3 1437.5,620.2 1439.0,621.6 1441.5,622.1 1449.5,625.1 1452.0,625.4 1454.5,626.2 1455.0,626.0 1458.0,627.1 1461.0,627.2 1466.5,628.0 1470.5,627.8 1473.0,628.2 1475.5,627.7 1479.5,628.6 1482.5,628.5 1483.5,628.9 1485.5,628.5 1487.5,629.1 1489.0,628.5 1491.5,628.8 1501.0,628.6 1504.5,628.9 1509.0,628.2 1512.0,629.0 1514.5,628.6 1518.5,629.1 1522.0,628.3 1522.5,628.6 1525.5,628.4 1529.0,629.4 1533.0,628.6 1535.0,629.5 1539.0,628.7 1542.5,629.5 1545.0,628.9 1548.0,629.2 1550.5,628.7 1554.0,629.2 1557.0,628.7 1558.5,629.6 1561.0,629.0 1562.0,629.4 1564.5,628.8 1567.5,629.5 1570.0,629.0 1572.5,629.7 1577.5,628.9 1581.5,629.6 1584.0,628.7 1586.0,629.3 1588.0,628.7 1591.0,629.1 1593.0,628.9 1595.0,629.4 1597.5,628.8 1600.0,629.3 1604.0,628.7 1608.5,629.3 1611.0,628.8 1612.0,629.3 1618.5,629.9 1621.0,628.9 1622.0,628.8 1625.0,629.7 1627.5,629.1 1629.5,629.6 1633.5,629.0 1635.0,629.4 1637.5,628.7 1639.0,629.4 1641.5,629.2 1649.0,629.8 1654.0,629.2 1657.0,629.6 1659.5,629.1 1662.5,629.5 1669.5,629.1 1672.0,629.5 1678.5,629.3 1680.5,629.7 1682.0,629.2 1683.5,629.6 1687.5,629.3 1688.5,629.6 1691.0,628.8 1693.0,629.2" fill="none" stroke="#e050b8" stroke-width="4.20" stroke-linejoin="round" stroke-linecap="round"/>
<path d="M1076.0,207.4 1080.0,215.2 1086.0,231.2 1087.0,232.4 1088.0,232.0 1089.0,229.6 1090.0,225.2 1093.5,203.3 1099.0,174.2 1100.0,170.9 1101.0,170.2 1101.5,170.7 1102.5,174.0 1104.5,186.7 1106.5,203.5 1109.0,236.0 1116.0,411.7 1117.0,429.1 1118.5,446.0 1120.0,456.2 1125.5,486.6 1132.0,514.6 1140.0,541.2 1147.0,560.8 1150.0,566.3 1153.0,570.4 1156.5,574.5 1160.5,578.4 1163.0,579.8 1166.0,583.1 1173.0,588.9 1176.0,590.2 1178.5,591.8 1181.5,592.8 1184.0,592.9 1185.0,593.6 1188.0,594.1 1190.5,594.1 1191.5,594.7 1198.0,595.0 1200.5,595.8 1203.0,595.5 1206.0,596.1 1207.5,595.7 1209.5,596.8 1211.5,596.4 1225.0,597.0 1228.0,596.8 1231.5,596.2 1233.0,595.6 1235.5,595.4 1238.0,594.4 1241.0,592.4 1243.0,591.8 1246.0,589.5 1249.0,585.4 1262.0,561.5 1269.0,546.6 1273.5,534.7 1279.5,512.6 1284.5,488.4 1296.0,411.3 1299.0,401.4 1303.0,393.3 1305.0,387.2 1307.0,378.9 1310.5,357.5 1313.0,335.9 1316.5,292.1 1322.0,211.7 1327.0,164.9 1329.0,153.9 1330.0,152.0 1330.5,152.2 1331.0,152.5 1332.0,155.5 1335.5,176.2 1339.5,223.3 1341.0,233.9 1342.5,240.9 1344.0,244.5 1344.5,244.6 1345.5,243.2 1346.5,239.9 1348.5,227.4 1350.5,210.6 1359.5,79.0 1360.5,70.7 1363.0,56.4 1364.5,51.3 1365.5,49.3 1366.0,49.6 1367.5,56.9 1369.5,75.3 1371.0,102.9 1377.0,286.0 1379.5,339.8 1383.0,448.0 1385.5,495.9 1386.5,505.2 1388.5,517.0 1391.0,527.6 1395.0,541.4 1401.5,558.9 1410.0,576.6 1425.0,601.0 1433.5,610.7 1436.0,611.9 1437.5,613.7 1439.5,614.9 1442.5,617.6 1448.5,621.4 1451.5,622.0 1455.0,624.0 1456.5,624.4 1457.5,624.3 1460.0,625.5 1463.0,626.1 1464.0,626.7 1466.5,626.2 1473.0,627.1 1475.5,626.9 1476.0,627.2 1480.5,627.5 1484.5,627.0 1488.0,627.9 1490.5,627.6 1491.5,628.1 1492.5,627.7 1493.5,627.9 1494.0,627.5 1495.0,627.8 1495.5,627.4 1498.0,628.2 1500.5,627.7 1505.5,628.2 1507.0,627.8 1509.5,628.5 1512.0,628.1 1514.0,628.4 1518.0,628.2 1521.0,629.1 1522.0,628.4 1523.5,628.3 1524.5,628.8 1525.0,628.6 1528.0,629.2 1534.5,628.0 1537.5,628.5 1541.0,628.4 1543.5,629.1 1547.5,628.2 1550.0,629.0 1552.0,628.5 1554.5,628.8 1559.5,628.3 1562.0,629.0 1563.0,628.7 1565.0,629.1 1567.0,628.6 1568.0,629.1 1569.0,628.9 1569.5,629.2 1571.0,628.8 1579.0,629.1 1581.5,628.6 1583.0,629.0 1586.5,628.3 1589.0,629.3 1590.5,629.4 1593.5,628.6 1595.5,629.1 1597.5,628.6 1601.0,628.5 1606.0,629.3 1608.5,628.7 1613.5,628.9 1614.5,628.7 1618.0,629.4 1622.0,628.2 1624.0,629.0 1626.5,628.8 1628.0,629.2 1629.5,629.1 1630.5,628.5 1631.5,628.3 1635.0,629.3 1642.0,628.6 1644.5,629.0 1646.0,628.8 1646.5,629.2 1650.0,628.9 1654.0,629.2 1657.0,628.7 1662.0,628.9 1665.5,628.4 1670.0,628.9 1674.5,628.6 1677.5,629.0 1679.0,628.6 1681.0,629.4 1683.0,628.8 1689.0,629.2 1693.0,628.7" fill="none" stroke="#0000d8" stroke-width="4.40" stroke-linejoin="round" stroke-linecap="round"/>
<path d="M1076.0,159.5 1084.5,191.4 1086.5,197.0 1087.5,197.6 1089.0,195.9 1090.0,193.8 1094.5,181.5 1100.0,159.5 1100.5,158.7 1101.0,158.7 1102.0,160.5 1103.5,170.7 1106.0,194.4 1109.0,234.1 1115.5,397.0 1117.0,421.3 1118.5,433.1 1121.5,446.0 1126.0,469.0 1129.5,483.5 1139.5,520.3 1146.5,543.3 1151.0,552.5 1156.5,560.9 1158.0,562.3 1165.0,571.3 1172.0,581.8 1175.0,584.9 1179.0,587.2 1180.5,587.3 1184.5,589.5 1186.0,589.8 1187.0,589.5 1189.0,590.3 1189.5,590.9 1193.0,591.6 1196.0,592.8 1197.5,593.0 1199.5,592.6 1202.0,592.8 1204.0,593.8 1208.0,593.7 1210.5,594.9 1213.0,594.7 1214.0,595.1 1216.0,594.8 1221.5,595.6 1226.0,595.1 1228.5,595.7 1230.5,594.7 1233.0,594.6 1233.5,594.2 1235.5,593.9 1236.0,594.1 1237.0,593.3 1240.5,592.3 1246.0,588.4 1250.0,582.7 1254.5,573.9 1260.5,563.9 1266.5,551.8 1271.0,541.1 1275.0,529.2 1278.0,518.8 1284.0,490.8 1286.5,476.2 1291.5,440.3 1296.0,412.0 1298.5,402.8 1304.5,389.3 1308.0,374.6 1309.5,365.0 1312.5,341.8 1314.0,325.9 1322.5,207.5 1325.5,178.6 1328.0,160.2 1329.5,154.1 1330.5,153.2 1331.5,155.4 1332.5,159.3 1336.0,181.9 1339.0,216.8 1340.5,229.0 1342.0,235.7 1343.5,239.4 1344.0,239.9 1344.5,239.8 1346.0,237.1 1349.0,221.2 1351.0,203.8 1359.5,86.8 1362.5,66.7 1364.0,60.4 1365.5,56.7 1366.0,56.8 1366.5,58.4 1368.0,68.0 1369.5,82.4 1370.5,97.6 1374.0,189.6 1376.5,271.0 1379.0,322.5 1382.0,408.5 1384.0,448.8 1386.0,474.3 1388.0,489.7 1390.5,505.0 1392.5,513.3 1396.0,524.5 1405.5,545.7 1412.5,558.4 1420.0,574.4 1426.0,585.9 1436.5,602.7 1442.0,609.3 1444.5,611.2 1447.0,614.2 1452.0,617.8 1461.0,622.6 1470.5,625.4 1476.5,625.7 1479.0,626.4 1482.0,626.6 1487.0,626.4 1492.5,627.4 1497.5,627.0 1500.0,627.5 1506.0,627.2 1513.0,627.9 1515.0,627.6 1519.0,628.2 1521.5,627.7 1524.5,628.4 1527.0,627.4 1529.5,628.5 1531.0,628.1 1535.5,627.8 1539.0,628.6 1544.5,627.8 1548.0,628.2 1550.5,627.9 1552.0,628.5 1554.0,628.2 1556.5,628.8 1563.0,627.7 1565.5,628.3 1569.0,627.7 1573.0,628.3 1575.5,627.9 1578.0,628.6 1581.0,627.8 1584.0,628.4 1586.5,628.0 1589.5,628.3 1591.0,627.9 1594.5,628.4 1595.5,628.8 1598.0,628.2 1600.0,628.6 1602.5,627.9 1605.5,628.7 1606.5,628.1 1610.0,628.4 1611.0,627.9 1612.0,628.2 1616.0,627.9 1626.5,628.8 1628.5,628.2 1630.0,628.8 1634.5,627.8 1638.0,628.4 1639.0,627.8 1640.5,627.8 1641.5,628.4 1648.0,628.2 1650.5,628.6 1653.0,628.2 1658.0,628.5 1659.0,628.2 1663.0,628.6 1668.5,628.1 1671.0,628.8 1675.0,628.3 1677.5,628.8 1680.0,628.2 1684.0,628.4 1690.0,628.0 1691.5,628.6 1693.0,628.7" fill="none" stroke="#22ff22" stroke-width="4.40" stroke-linejoin="round" stroke-linecap="round"/>
<path d="M1076.0,135.5 1085.0,179.9 1086.0,183.4 1087.0,185.4 1088.0,185.5 1090.0,183.7 1100.0,166.3 1101.0,166.0 1102.0,167.5 1103.5,174.9 1106.5,199.1 1109.0,233.1 1114.0,363.9 1116.5,412.9 1118.0,425.0 1120.5,433.4 1125.5,458.2 1132.5,487.2 1143.5,527.7 1147.0,539.1 1150.0,546.1 1154.5,553.7 1160.5,561.5 1163.0,563.8 1171.0,576.7 1174.0,580.7 1178.5,584.1 1181.5,585.8 1184.0,586.4 1185.0,587.3 1188.0,588.3 1190.5,588.6 1191.5,589.4 1198.0,590.3 1200.5,591.4 1203.0,591.2 1206.0,592.0 1207.5,591.7 1209.5,592.9 1211.5,592.7 1216.0,593.3 1228.0,593.5 1237.0,591.6 1241.0,589.1 1244.0,588.1 1246.0,586.4 1249.0,582.5 1262.0,559.8 1269.0,545.0 1271.5,538.7 1273.5,533.3 1278.0,517.5 1284.5,488.3 1297.0,409.9 1299.0,403.2 1303.0,395.2 1306.5,385.3 1310.5,364.4 1313.0,345.6 1315.0,324.5 1323.0,215.3 1328.0,173.5 1329.0,169.3 1330.0,167.4 1331.0,167.6 1332.5,171.1 1336.0,188.3 1339.0,215.1 1340.5,225.2 1343.5,235.9 1344.5,237.0 1345.0,236.9 1345.5,236.0 1347.5,227.5 1350.5,207.0 1359.5,105.7 1360.5,99.3 1363.0,88.4 1364.0,85.6 1365.5,84.0 1366.5,85.9 1368.0,95.0 1370.0,113.4 1371.0,128.4 1374.0,192.5 1377.0,280.1 1380.0,334.7 1382.5,401.8 1385.0,439.9 1389.0,476.1 1390.0,483.0 1392.0,492.3 1395.0,502.3 1398.5,511.8 1408.5,533.1 1420.0,561.9 1426.0,578.0 1433.5,593.5 1436.0,596.9 1438.5,601.4 1442.5,606.9 1448.5,613.9 1451.5,616.2 1455.0,619.7 1460.0,622.2 1463.0,622.7 1464.0,623.4 1466.5,623.2 1473.0,625.1 1475.5,625.3 1478.0,626.1 1481.5,626.3 1484.5,625.9 1488.0,627.0 1490.5,626.8 1491.5,627.2 1492.5,626.8 1493.5,627.1 1494.0,626.7 1495.0,627.0 1495.5,626.6 1498.0,627.4 1500.5,627.0 1505.5,627.5 1507.0,627.1 1509.5,627.9 1512.0,627.5 1514.0,627.8 1518.0,627.6 1521.0,628.5 1522.0,627.9 1523.5,627.8 1524.5,628.3 1525.0,628.1 1528.0,628.7 1534.5,627.5 1537.5,628.0 1541.0,627.9 1543.5,628.6 1547.5,627.8 1550.0,628.5 1552.0,628.0 1554.5,628.3 1559.5,627.8 1562.0,628.5 1563.0,628.2 1565.0,628.7 1567.0,628.1 1568.0,628.6 1569.0,628.4 1569.5,628.7 1571.0,628.3 1579.0,628.6 1581.5,628.1 1583.0,628.5 1586.5,627.8 1589.0,628.8 1590.5,628.9 1593.5,628.1 1595.5,628.6 1597.5,628.1 1601.0,628.0 1606.0,628.8 1608.5,628.2 1613.5,628.4 1614.5,628.1 1618.0,628.9 1622.0,627.6 1624.0,628.5 1626.5,628.3 1628.0,628.7 1629.5,628.6 1630.5,627.9 1631.5,627.8 1635.0,628.8 1642.0,628.1 1644.5,628.5 1646.0,628.2 1646.5,628.7 1650.0,628.4 1654.0,628.6 1657.0,628.1 1662.0,628.4 1665.5,627.9 1670.0,628.4 1674.5,628.0 1677.5,628.4 1679.0,628.1 1681.0,628.8 1683.0,628.3 1689.0,628.6 1693.0,628.2" fill="none" stroke="#e00000" stroke-width="4.40" stroke-linejoin="round" stroke-linecap="round"/>
</g>
<rect x="1075.0" y="12.0" width="619.0" height="619.0" stroke="#000" stroke-width="2" fill="none"/>
<line x1="1065.00" y1="630.00" x2="1075.00" y2="630.00" stroke="#000" stroke-width="2.00" stroke-linecap="butt"/>
<line x1="1065.00" y1="490.00" x2="1075.00" y2="490.00" stroke="#000" stroke-width="2.00" stroke-linecap="butt"/>
<line x1="1065.00" y1="349.00" x2="1075.00" y2="349.00" stroke="#000" stroke-width="2.00" stroke-linecap="butt"/>
<line x1="1065.00" y1="208.00" x2="1075.00" y2="208.00" stroke="#000" stroke-width="2.00" stroke-linecap="butt"/>
<line x1="1065.00" y1="68.00" x2="1075.00" y2="68.00" stroke="#000" stroke-width="2.00" stroke-linecap="butt"/>
<line x1="1075.00" y1="631.00" x2="1075.00" y2="640.00" stroke="#000" stroke-width="2.00" stroke-linecap="butt"/>
<line x1="1101.00" y1="631.00" x2="1101.00" y2="636.00" stroke="#000" stroke-width="2.00" stroke-linecap="butt"/>
<line x1="1127.00" y1="631.00" x2="1127.00" y2="636.00" stroke="#000" stroke-width="2.00" stroke-linecap="butt"/>
<line x1="1153.00" y1="631.00" x2="1153.00" y2="636.00" stroke="#000" stroke-width="2.00" stroke-linecap="butt"/>
<line x1="1178.00" y1="631.00" x2="1178.00" y2="640.00" stroke="#000" stroke-width="2.00" stroke-linecap="butt"/>
<line x1="1204.00" y1="631.00" x2="1204.00" y2="636.00" stroke="#000" stroke-width="2.00" stroke-linecap="butt"/>
<line x1="1230.00" y1="631.00" x2="1230.00" y2="636.00" stroke="#000" stroke-width="2.00" stroke-linecap="butt"/>
<line x1="1256.00" y1="631.00" x2="1256.00" y2="636.00" stroke="#000" stroke-width="2.00" stroke-linecap="butt"/>
<line x1="1281.00" y1="631.00" x2="1281.00" y2="640.00" stroke="#000" stroke-width="2.00" stroke-linecap="butt"/>
<line x1="1307.00" y1="631.00" x2="1307.00" y2="636.00" stroke="#000" stroke-width="2.00" stroke-linecap="butt"/>
<line x1="1333.00" y1="631.00" x2="1333.00" y2="636.00" stroke="#000" stroke-width="2.00" stroke-linecap="butt"/>
<line x1="1359.00" y1="631.00" x2="1359.00" y2="636.00" stroke="#000" stroke-width="2.00" stroke-linecap="butt"/>
<line x1="1384.00" y1="631.00" x2="1384.00" y2="640.00" stroke="#000" stroke-width="2.00" stroke-linecap="butt"/>
<line x1="1410.00" y1="631.00" x2="1410.00" y2="636.00" stroke="#000" stroke-width="2.00" stroke-linecap="butt"/>
<line x1="1436.00" y1="631.00" x2="1436.00" y2="636.00" stroke="#000" stroke-width="2.00" stroke-linecap="butt"/>
<line x1="1462.00" y1="631.00" x2="1462.00" y2="636.00" stroke="#000" stroke-width="2.00" stroke-linecap="butt"/>
<line x1="1487.00" y1="631.00" x2="1487.00" y2="640.00" stroke="#000" stroke-width="2.00" stroke-linecap="butt"/>
<line x1="1513.00" y1="631.00" x2="1513.00" y2="636.00" stroke="#000" stroke-width="2.00" stroke-linecap="butt"/>
<line x1="1539.00" y1="631.00" x2="1539.00" y2="636.00" stroke="#000" stroke-width="2.00" stroke-linecap="butt"/>
<line x1="1565.00" y1="631.00" x2="1565.00" y2="636.00" stroke="#000" stroke-width="2.00" stroke-linecap="butt"/>
<line x1="1590.00" y1="631.00" x2="1590.00" y2="640.00" stroke="#000" stroke-width="2.00" stroke-linecap="butt"/>
<line x1="1616.00" y1="631.00" x2="1616.00" y2="636.00" stroke="#000" stroke-width="2.00" stroke-linecap="butt"/>
<line x1="1642.00" y1="631.00" x2="1642.00" y2="636.00" stroke="#000" stroke-width="2.00" stroke-linecap="butt"/>
<line x1="1668.00" y1="631.00" x2="1668.00" y2="636.00" stroke="#000" stroke-width="2.00" stroke-linecap="butt"/>
<line x1="1693.00" y1="631.00" x2="1693.00" y2="640.00" stroke="#000" stroke-width="2.00" stroke-linecap="butt"/>
<text x="1075.30" y="676.60" font-size="25.00" text-anchor="middle" font-weight="normal" fill="#000" font-family="&quot;Liberation Sans&quot;, Arial, sans-serif">240</text>
<text x="1178.30" y="676.60" font-size="25.00" text-anchor="middle" font-weight="normal" fill="#000" font-family="&quot;Liberation Sans&quot;, Arial, sans-serif">320</text>
<text x="1281.30" y="676.60" font-size="25.00" text-anchor="middle" font-weight="normal" fill="#000" font-family="&quot;Liberation Sans&quot;, Arial, sans-serif">400</text>
<text x="1384.30" y="676.60" font-size="25.00" text-anchor="middle" font-weight="normal" fill="#000" font-family="&quot;Liberation Sans&quot;, Arial, sans-serif">480</text>
<text x="1487.30" y="676.60" font-size="25.00" text-anchor="middle" font-weight="normal" fill="#000" font-family="&quot;Liberation Sans&quot;, Arial, sans-serif">560</text>
<text x="1590.30" y="676.60" font-size="25.00" text-anchor="middle" font-weight="normal" fill="#000" font-family="&quot;Liberation Sans&quot;, Arial, sans-serif">640</text>
<text x="1693.30" y="676.60" font-size="25.00" text-anchor="middle" font-weight="normal" fill="#000" font-family="&quot;Liberation Sans&quot;, Arial, sans-serif">720</text>
<text x="1059.60" y="637.80" font-size="25.00" text-anchor="end" font-weight="normal" fill="#000" font-family="&quot;Liberation Sans&quot;, Arial, sans-serif">0</text>
<text x="1059.60" y="356.30" font-size="25.00" text-anchor="end" font-weight="normal" fill="#000" font-family="&quot;Liberation Sans&quot;, Arial, sans-serif">0.1</text>
<text x="1059.60" y="74.80" font-size="25.00" text-anchor="end" font-weight="normal" fill="#000" font-family="&quot;Liberation Sans&quot;, Arial, sans-serif">0.2</text>
<text x="994.50" y="342.70" font-size="25.00" text-anchor="middle" font-weight="normal" fill="#000" font-family="&quot;Liberation Sans&quot;, Arial, sans-serif" transform="rotate(-90 994.5 342.7)">Absorbance</text>
<text x="1386.70" y="722.20" font-size="25.50" text-anchor="middle" font-weight="normal" fill="#000" font-family="&quot;Liberation Sans&quot;, Arial, sans-serif">Wavelength (nm)</text>
<line x1="1152.00" y1="49.50" x2="1201.70" y2="49.50" stroke="#2c7dff" stroke-width="4.00" stroke-linecap="butt"/>
<text x="1207.70" y="60.10" font-size="26.00" text-anchor="start" font-weight="bold" fill="#2c7dff" font-family="&quot;Liberation Sans&quot;, Arial, sans-serif">0</text>
<line x1="1152.00" y1="78.10" x2="1201.70" y2="78.10" stroke="#70f2c8" stroke-width="4.00" stroke-linecap="butt"/>
<text x="1207.70" y="88.70" font-size="26.00" text-anchor="start" font-weight="bold" fill="#70f2c8" font-family="&quot;Liberation Sans&quot;, Arial, sans-serif">0.05</text>
<line x1="1152.00" y1="106.70" x2="1201.70" y2="106.70" stroke="#a8a8a8" stroke-width="4.00" stroke-linecap="butt"/>
<text x="1207.70" y="117.30" font-size="26.00" text-anchor="start" font-weight="bold" fill="#a8a8a8" font-family="&quot;Liberation Sans&quot;, Arial, sans-serif">1</text>
<line x1="1152.00" y1="135.30" x2="1201.70" y2="135.30" stroke="#000000" stroke-width="4.00" stroke-linecap="butt"/>
<text x="1207.70" y="145.90" font-size="26.00" text-anchor="start" font-weight="bold" fill="#000000" font-family="&quot;Liberation Sans&quot;, Arial, sans-serif">2</text>
<line x1="1152.00" y1="163.90" x2="1201.70" y2="163.90" stroke="#e050b8" stroke-width="4.00" stroke-linecap="butt"/>
<text x="1207.70" y="174.50" font-size="26.00" text-anchor="start" font-weight="bold" fill="#e050b8" font-family="&quot;Liberation Sans&quot;, Arial, sans-serif">5</text>
<line x1="1152.00" y1="192.50" x2="1201.70" y2="192.50" stroke="#0000d8" stroke-width="4.00" stroke-linecap="butt"/>
<text x="1207.70" y="203.10" font-size="26.00" text-anchor="start" font-weight="bold" fill="#0000d8" font-family="&quot;Liberation Sans&quot;, Arial, sans-serif">10</text>
<line x1="1152.00" y1="221.10" x2="1201.70" y2="221.10" stroke="#22ff22" stroke-width="4.00" stroke-linecap="butt"/>
<text x="1207.70" y="231.70" font-size="26.00" text-anchor="start" font-weight="bold" fill="#22ff22" font-family="&quot;Liberation Sans&quot;, Arial, sans-serif">15</text>
<line x1="1152.00" y1="249.70" x2="1201.70" y2="249.70" stroke="#e00000" stroke-width="4.00" stroke-linecap="butt"/>
<text x="1207.70" y="260.30" font-size="26.00" text-anchor="start" font-weight="bold" fill="#e00000" font-family="&quot;Liberation Sans&quot;, Arial, sans-serif">20</text>
<line x1="1332.30" y1="40.00" x2="1332.30" y2="118.58" stroke="#1a1a1a" stroke-width="1.60" stroke-linecap="butt"/>
<path d="M1332.30,130.10 L1326.80,114.10 L1332.30,118.58 L1337.80,114.10 Z" fill="#1a1a1a"/>
<line x1="1360.70" y1="19.30" x2="1360.70" y2="52.88" stroke="#1a1a1a" stroke-width="1.60" stroke-linecap="butt"/>
<path d="M1360.70,64.40 L1355.20,48.40 L1360.70,52.88 L1366.20,48.40 Z" fill="#1a1a1a"/>
<line x1="1434.70" y1="538.80" x2="1434.70" y2="459.72" stroke="#1a1a1a" stroke-width="1.60" stroke-linecap="butt"/>
<path d="M1434.70,448.20 L1429.20,464.20 L1434.70,459.72 L1440.20,464.20 Z" fill="#1a1a1a"/>
<text x="1455.0" y="539.3" font-size="24.5" font-weight="bold" font-family="&quot;Liberation Sans&quot;, Arial, sans-serif" stroke="#000" stroke-width="0.5">[Pb<tspan font-size="16" dy="-13">2+</tspan><tspan dy="13" dx="1">]</tspan></text>
<rect x="510.8" y="19.3" width="244.0" height="327.3" fill="#fff"/>
<g clip-path="url(#clipIA)">
<path d="M508.6,332.9 524.1,333.8 526.3,333.7 550.7,334.7 568.4,334.3 570.6,333.9 579.5,333.4 581.7,333.0 583.9,333.1 588.3,332.3 592.8,330.7 595.0,330.7 596.0,328.7 607.1,328.7 607.1,327.0 612.6,327.0 612.6,327.8 618.2,327.8 618.2,328.3 629.3,328.0 629.3,325.3 634.8,325.3 634.8,324.1 640.3,324.1 640.3,326.7 651.4,326.8 651.4,322.5 656.9,322.5 656.9,323.1 662.5,323.1 662.5,322.3 668.0,322.3 668.0,321.8 673.6,321.8 673.6,323.7 679.1,323.7 679.1,325.7 684.6,325.7 684.6,327.9 690.2,327.9 690.2,326.1 695.7,326.1 695.7,327.2 701.2,327.2 701.2,326.1 706.8,326.1 706.8,328.3 712.3,328.3 712.3,330.5 717.9,330.5 717.9,328.6 723.4,328.6 723.4,326.6 728.9,326.6 728.9,329.0 740.0,329.1 740.0,328.7 745.5,328.7 745.5,327.4 751.1,327.4 751.1,325.2 762.2,324.9 762.2,320.0 767.7,320.0" fill="none" stroke="#a8a8a8" stroke-width="5.0" stroke-linejoin="miter" stroke-linecap="butt"/>
<path d="M508.6,334.1 550.7,332.4 555.1,332.2 559.5,331.5 566.2,328.8 568.4,327.1 577.2,319.2 583.9,314.1 586.1,311.9 590.5,309.5 592.8,310.1 596.0,310.6 601.6,310.6 601.6,310.0 607.1,310.0 607.1,311.1 612.6,311.1 612.6,314.8 618.2,314.8 618.2,313.9 623.7,313.9 623.7,316.9 629.3,316.9 629.3,320.5 634.8,320.5 634.8,323.8 640.3,323.8 640.3,322.5 645.9,322.5 645.9,328.0 651.4,328.0 651.4,330.8 662.5,330.9 662.5,334.0 668.0,334.0 668.0,336.3 673.6,336.3 673.6,336.8 679.1,336.8 679.1,338.4 690.2,338.7 690.2,337.6 695.7,337.6 695.7,338.6 701.2,338.6 701.2,340.2 712.3,340.3 712.3,341.2 717.9,341.2 717.9,340.7 723.4,340.7 723.4,343.1 728.9,343.1 728.9,344.4 734.5,344.4 734.5,341.2 740.0,341.2 740.0,343.5 745.5,343.5 745.5,344.5 751.1,344.5 751.1,340.6 756.6,340.6 756.6,342.2 762.2,342.2 762.2,340.0 767.7,340.0" fill="none" stroke="#000000" stroke-width="5.0" stroke-linejoin="miter" stroke-linecap="butt"/>
<path d="M508.6,329.8 513.0,330.6 519.7,331.3 528.5,331.7 539.6,331.4 548.5,330.1 552.9,329.0 555.1,328.8 557.3,327.6 561.7,324.0 579.5,303.1 583.9,297.4 586.1,295.3 588.3,294.1 590.5,292.0 592.8,291.4 595.0,290.0 596.0,288.8 607.1,288.6 607.1,294.3 612.6,294.3 612.6,300.7 618.2,300.7 618.2,302.5 623.7,302.5 623.7,305.6 629.3,305.6 629.3,310.8 640.3,310.6 640.3,314.9 645.9,314.9 645.9,319.5 651.4,319.5 651.4,319.1 656.9,319.1 656.9,324.5 662.5,324.5 662.5,328.7 668.0,328.7 668.0,324.5 673.6,324.5 673.6,333.2 679.1,333.2 679.1,331.5 690.2,331.6 690.2,332.9 695.7,332.9 695.7,335.8 701.2,335.8 701.2,332.6 706.8,332.6 706.8,337.4 712.3,337.4 712.3,338.0 717.9,338.0 717.9,336.9 723.4,336.9 723.4,335.4 728.9,335.4 728.9,336.2 734.5,336.2 734.5,335.3 740.0,335.3 740.0,337.0 745.5,337.0 745.5,336.3 751.1,336.3 751.1,337.2 756.6,337.2 756.6,335.3 762.2,335.3 762.2,333.0 767.7,333.0" fill="none" stroke="#0a8a1a" stroke-width="5.0" stroke-linejoin="miter" stroke-linecap="butt"/>
<path d="M508.6,335.2 515.2,335.2 532.9,334.1 539.6,333.1 548.5,331.1 552.9,329.5 555.1,328.4 557.3,326.4 564.0,315.0 566.2,312.0 570.6,307.0 581.7,293.0 586.1,289.3 588.3,288.2 590.5,286.4 595.0,284.1 596.0,281.7 601.6,281.7 601.6,282.9 607.1,282.9 607.1,282.2 612.6,282.2 612.6,287.1 618.2,287.1 618.2,290.3 623.7,290.3 623.7,292.4 629.3,292.4 629.3,295.0 634.8,295.0 634.8,296.9 640.3,296.9 640.3,300.5 645.9,300.5 645.9,307.9 651.4,307.9 651.4,305.6 662.5,305.3 662.5,309.6 668.0,309.6 668.0,312.6 673.6,312.6 673.6,313.9 679.1,313.9 679.1,318.2 690.2,318.5 690.2,321.7 695.7,321.7 695.7,320.4 701.2,320.4 701.2,321.5 706.8,321.5 706.8,322.6 712.3,322.6 712.3,320.4 717.9,320.4 717.9,321.1 723.4,321.1 723.4,324.9 734.5,325.2 734.5,328.5 740.0,328.5 740.0,323.9 745.5,323.9 745.5,326.4 751.1,326.4 751.1,328.9 756.6,328.9 756.6,328.4 762.2,328.4 762.2,325.8 767.7,325.8" fill="none" stroke="#e0507e" stroke-width="5.0" stroke-linejoin="miter" stroke-linecap="butt"/>
<path d="M508.6,335.0 517.4,335.1 526.3,333.9 528.5,333.9 537.4,331.7 541.8,329.2 546.2,325.5 548.5,323.2 550.7,318.7 555.1,307.4 561.7,288.6 566.2,273.8 570.6,256.7 572.8,249.5 579.5,230.4 581.7,226.4 588.3,209.9 590.5,206.3 595.0,200.4 596.0,191.2 601.6,191.2 601.6,202.9 607.1,202.9 607.1,216.5 612.6,216.5 612.6,203.3 618.2,203.3 618.2,218.1 623.7,218.1 623.7,240.6 629.3,240.6 629.3,252.7 634.8,252.7 634.8,260.7 640.3,260.7 640.3,272.4 645.9,272.4 645.9,281.3 656.9,281.5 656.9,294.2 662.5,294.2 662.5,295.1 668.0,295.1 668.0,306.4 673.6,306.4 673.6,307.5 679.1,307.5 679.1,311.7 684.6,311.7 684.6,309.7 690.2,309.7 690.2,318.8 695.7,318.8 695.7,321.6 701.2,321.6 701.2,322.3 706.8,322.3 706.8,325.9 717.9,325.7 717.9,323.7 723.4,323.7 723.4,323.3 728.9,323.3 728.9,321.9 734.5,321.9 734.5,327.9 740.0,327.9 740.0,321.7 745.5,321.7 745.5,324.1 751.1,324.1 751.1,329.7 756.6,329.7 756.6,335.1 762.2,335.1 762.2,331.7 767.7,331.7" fill="none" stroke="#0000d8" stroke-width="5.0" stroke-linejoin="miter" stroke-linecap="butt"/>
<path d="M508.6,333.0 510.8,333.4 524.1,332.1 530.7,330.8 532.9,330.1 535.2,328.8 537.4,326.6 539.6,323.7 544.0,315.6 550.7,302.0 555.1,290.7 559.5,275.2 566.2,245.3 572.8,208.2 579.5,168.1 588.3,110.1 592.8,95.8 595.0,91.9 596.0,74.9 601.6,74.9 601.6,97.3 607.1,97.3 607.1,91.0 612.6,91.0 612.6,99.3 618.2,99.3 618.2,128.6 623.7,128.6 623.7,154.5 629.3,154.5 629.3,160.3 634.8,160.3 634.8,190.7 645.9,190.7 645.9,204.8 651.4,204.8 651.4,227.4 656.9,227.4 656.9,223.5 662.5,223.5 662.5,249.1 668.0,249.1 668.0,253.1 673.6,253.1 673.6,266.5 679.1,266.5 679.1,267.1 684.6,267.1 684.6,271.9 690.2,271.9 690.2,285.8 695.7,285.8 695.7,292.7 701.2,292.7 701.2,291.2 712.3,291.0 712.3,298.4 717.9,298.4 717.9,302.2 723.4,302.2 723.4,301.2 728.9,301.2 728.9,313.6 734.5,313.6 734.5,308.6 740.0,308.6 740.0,312.3 745.5,312.3 745.5,308.6 751.1,308.6 751.1,313.0 756.6,313.0 756.6,315.2 762.2,315.2 762.2,314.0 767.7,314.0" fill="none" stroke="#22ff22" stroke-width="5.0" stroke-linejoin="miter" stroke-linecap="butt"/>
<path d="M508.6,337.2 517.4,335.2 528.5,331.7 530.7,330.4 532.9,328.4 535.2,323.8 539.6,312.0 546.2,292.4 550.7,275.4 559.5,234.0 564.0,208.7 575.0,138.1 577.2,127.9 586.1,74.3 592.8,42.9 595.0,35.7 596.0,27.8 601.6,27.8 601.6,51.0 607.1,51.0 607.1,39.5 612.6,39.5 612.6,58.3 618.2,58.3 618.2,73.8 623.7,73.8 623.7,98.9 629.3,98.9 629.3,130.7 634.8,130.7 634.8,154.8 640.3,154.8 640.3,190.1 645.9,190.1 645.9,189.0 651.4,189.0 651.4,197.9 656.9,197.9 656.9,228.7 662.5,228.7 662.5,237.0 668.0,237.0 668.0,257.0 673.6,257.0 673.6,255.3 679.1,255.3 679.1,262.8 684.6,262.8 684.6,274.0 690.2,274.0 690.2,274.5 695.7,274.5 695.7,285.1 701.2,285.1 701.2,290.0 706.8,290.0 706.8,293.3 712.3,293.3 712.3,295.6 717.9,295.6 717.9,300.3 723.4,300.3 723.4,302.4 728.9,302.4 728.9,307.2 734.5,307.2 734.5,305.1 740.0,305.1 740.0,311.9 745.5,311.9 745.5,313.3 751.1,313.3 751.1,314.6 756.6,314.6 756.6,310.6 762.2,310.6 762.2,317.2 767.7,317.2" fill="none" stroke="#e00000" stroke-width="5.0" stroke-linejoin="miter" stroke-linecap="butt"/>
</g>
<line x1="510.80" y1="19.30" x2="510.80" y2="347.40" stroke="#222" stroke-width="1.60" stroke-linecap="butt"/>
<line x1="510.80" y1="346.60" x2="755.80" y2="346.60" stroke="#222" stroke-width="1.60" stroke-linecap="butt"/>
<line x1="532.90" y1="346.60" x2="532.90" y2="355.60" stroke="#222" stroke-width="1.50" stroke-linecap="butt"/>
<line x1="577.20" y1="346.60" x2="577.20" y2="355.60" stroke="#222" stroke-width="1.50" stroke-linecap="butt"/>
<line x1="621.50" y1="346.60" x2="621.50" y2="355.60" stroke="#222" stroke-width="1.50" stroke-linecap="butt"/>
<line x1="665.80" y1="346.60" x2="665.80" y2="355.60" stroke="#222" stroke-width="1.50" stroke-linecap="butt"/>
<line x1="710.10" y1="346.60" x2="710.10" y2="355.60" stroke="#222" stroke-width="1.50" stroke-linecap="butt"/>
<line x1="754.40" y1="346.60" x2="754.40" y2="355.60" stroke="#222" stroke-width="1.50" stroke-linecap="butt"/>
<text x="532.90" y="377.60" font-size="20.00" text-anchor="middle" font-weight="normal" fill="#000" font-family="&quot;Liberation Sans&quot;, Arial, sans-serif">480</text>
<text x="621.50" y="377.60" font-size="20.00" text-anchor="middle" font-weight="normal" fill="#000" font-family="&quot;Liberation Sans&quot;, Arial, sans-serif">520</text>
<text x="710.10" y="377.60" font-size="20.00" text-anchor="middle" font-weight="normal" fill="#000" font-family="&quot;Liberation Sans&quot;, Arial, sans-serif">560</text>
<line x1="510.80" y1="331.60" x2="518.80" y2="331.60" stroke="#222" stroke-width="1.50" stroke-linecap="butt"/>
<line x1="510.80" y1="272.20" x2="518.80" y2="272.20" stroke="#222" stroke-width="1.50" stroke-linecap="butt"/>
<line x1="510.80" y1="212.80" x2="518.80" y2="212.80" stroke="#222" stroke-width="1.50" stroke-linecap="butt"/>
<line x1="510.80" y1="153.40" x2="518.80" y2="153.40" stroke="#222" stroke-width="1.50" stroke-linecap="butt"/>
<line x1="510.80" y1="94.00" x2="518.80" y2="94.00" stroke="#222" stroke-width="1.50" stroke-linecap="butt"/>
<line x1="510.80" y1="34.60" x2="518.80" y2="34.60" stroke="#222" stroke-width="1.50" stroke-linecap="butt"/>
<text x="502.50" y="338.60" font-size="20.00" text-anchor="end" font-weight="normal" fill="#000" font-family="&quot;Liberation Sans&quot;, Arial, sans-serif">0</text>
<text x="502.50" y="219.80" font-size="20.00" text-anchor="end" font-weight="normal" fill="#000" font-family="&quot;Liberation Sans&quot;, Arial, sans-serif">4</text>
<text x="502.50" y="101.00" font-size="20.00" text-anchor="end" font-weight="normal" fill="#000" font-family="&quot;Liberation Sans&quot;, Arial, sans-serif">8</text>
<text x="485.50" y="157.00" font-size="26.00" text-anchor="middle" font-weight="normal" fill="#000" font-family="&quot;Liberation Sans&quot;, Arial, sans-serif" letter-spacing="1" transform="rotate(-90 485.5 157)">ΔA/A</text>
<text x="632.50" y="406.50" font-size="27.00" text-anchor="middle" font-weight="normal" fill="#000" font-family="&quot;Liberation Sans&quot;, Arial, sans-serif" letter-spacing="0.8">λ/nm</text>
<rect x="1444.4" y="17.5" width="248.4" height="329.8" fill="#fff"/>
<g clip-path="url(#clipIB)">
<path d="M1441.9,332.2 1476.6,335.6 1484.0,336.0 1498.9,337.8 1506.3,337.2 1513.7,335.3 1523.6,333.5 1531.0,333.0 1533.5,332.5 1536.0,332.6 1539.4,331.5 1545.6,331.5 1545.6,332.2 1558.0,332.3 1558.0,333.7 1564.2,333.7 1564.2,334.4 1576.6,334.1 1576.6,337.1 1582.8,337.1 1582.8,337.6 1588.9,337.6 1588.9,335.0 1595.1,335.0 1595.1,335.8 1613.7,335.9 1613.7,337.1 1619.9,337.1 1619.9,336.2 1626.1,336.2 1626.1,338.5 1632.2,338.5 1632.2,337.6 1638.4,337.6 1638.4,338.9 1644.6,338.9 1644.6,339.5 1650.8,339.5 1650.8,337.5 1663.2,337.6 1663.2,340.8 1669.4,340.8 1669.4,339.8 1675.6,339.8 1675.6,338.0 1681.8,338.0 1681.8,337.1 1687.9,337.1 1687.9,339.2 1694.1,339.2 1694.1,338.6 1700.3,338.6 1700.3,340.2 1706.5,340.2" fill="none" stroke="#555555" stroke-width="5.0" stroke-linejoin="miter" stroke-linecap="butt"/>
<path d="M1441.9,333.9 1464.2,332.4 1484.0,332.4 1491.4,331.5 1493.9,330.1 1498.9,325.2 1508.8,316.6 1513.7,313.9 1521.1,311.3 1526.1,310.0 1531.0,309.6 1538.5,310.1 1539.4,309.5 1545.6,309.5 1545.6,313.9 1551.8,313.9 1551.8,315.2 1558.0,315.2 1558.0,316.0 1564.2,316.0 1564.2,318.7 1570.4,318.7 1570.4,321.7 1576.6,321.7 1576.6,328.3 1582.8,328.3 1582.8,329.1 1588.9,329.1 1588.9,332.4 1595.1,332.4 1595.1,334.0 1601.3,334.0 1601.3,339.3 1613.7,339.1 1613.7,341.8 1619.9,341.8 1619.9,343.2 1632.2,343.5 1632.2,344.4 1638.4,344.4 1638.4,345.0 1644.6,345.0 1644.6,344.1 1657.0,344.2 1657.0,347.4 1663.2,347.4 1663.2,344.9 1675.6,344.8 1675.6,346.8 1681.8,346.8 1681.8,345.3 1687.9,345.3 1687.9,347.7 1694.1,347.7 1694.1,343.9 1700.3,343.9 1700.3,346.2 1706.5,346.2" fill="none" stroke="#000000" stroke-width="5.0" stroke-linejoin="miter" stroke-linecap="butt"/>
<path d="M1441.9,335.1 1461.7,332.8 1481.5,331.6 1486.5,330.0 1489.0,328.6 1491.4,326.6 1493.9,322.7 1498.9,311.0 1508.8,291.3 1513.7,286.2 1518.7,282.1 1526.1,278.4 1528.6,276.5 1531.0,275.5 1533.5,275.2 1538.5,275.3 1539.4,274.4 1545.6,274.4 1545.6,275.4 1551.8,275.4 1551.8,284.1 1558.0,284.1 1558.0,290.7 1564.2,290.7 1564.2,299.1 1570.4,299.1 1570.4,304.6 1576.6,304.6 1576.6,315.9 1582.8,315.9 1582.8,319.0 1588.9,319.0 1588.9,322.3 1595.1,322.3 1595.1,327.2 1601.3,327.2 1601.3,330.6 1607.5,330.6 1607.5,331.9 1613.7,331.9 1613.7,337.5 1619.9,337.5 1619.9,342.5 1626.1,342.5 1626.1,349.1 1632.2,349.1 1632.2,346.3 1644.6,346.3 1644.6,345.4 1650.8,345.4 1650.8,348.6 1663.2,348.5 1663.2,348.1 1669.4,348.1 1669.4,345.9 1675.6,345.9 1675.6,349.4 1681.8,349.4 1681.8,347.6 1687.9,347.6 1687.9,349.0 1694.1,349.0 1694.1,346.9 1700.3,346.9 1700.3,350.1 1706.5,350.1" fill="none" stroke="#e0507e" stroke-width="5.0" stroke-linejoin="miter" stroke-linecap="butt"/>
<path d="M1441.9,334.7 1446.9,334.8 1451.8,334.4 1454.3,334.6 1456.8,334.0 1461.7,333.5 1471.6,331.9 1474.1,331.1 1476.6,329.7 1481.5,326.3 1484.0,321.8 1486.5,315.7 1491.4,299.8 1506.3,224.0 1508.8,214.3 1511.2,206.7 1513.7,200.6 1516.2,196.6 1521.1,190.2 1523.6,188.0 1526.1,183.6 1528.6,182.9 1531.0,179.3 1533.5,177.8 1536.0,179.0 1538.5,182.8 1539.4,181.1 1545.6,181.1 1545.6,189.0 1551.8,189.0 1551.8,214.8 1558.0,214.8 1558.0,234.6 1564.2,234.6 1564.2,242.1 1570.4,242.1 1570.4,265.3 1576.6,265.3 1576.6,282.1 1582.8,282.1 1582.8,287.4 1588.9,287.4 1588.9,294.2 1595.1,294.2 1595.1,297.4 1601.3,297.4 1601.3,311.7 1607.5,311.7 1607.5,321.5 1613.7,321.5 1613.7,320.8 1619.9,320.8 1619.9,333.8 1626.1,333.8 1626.1,341.6 1632.2,341.6 1632.2,346.1 1638.4,346.1 1638.4,347.3 1644.6,347.3 1644.6,341.7 1650.8,341.7 1650.8,346.0 1657.0,346.0 1657.0,346.8 1669.4,346.9 1669.4,342.0 1675.6,342.0 1675.6,347.2 1681.8,347.2 1681.8,344.3 1687.9,344.3 1687.9,345.2 1700.3,345.3 1700.3,348.0 1706.5,348.0" fill="none" stroke="#0000d8" stroke-width="5.0" stroke-linejoin="miter" stroke-linecap="butt"/>
<path d="M1441.9,334.7 1451.8,334.8 1464.2,333.5 1469.2,332.3 1471.6,330.5 1474.1,326.9 1479.1,316.4 1481.5,310.4 1486.5,291.9 1491.4,268.4 1496.4,237.1 1506.3,169.0 1508.8,154.1 1513.7,132.1 1518.7,115.1 1521.1,110.2 1523.6,107.2 1526.1,103.4 1528.6,101.1 1533.5,93.1 1536.0,87.6 1538.5,93.2 1539.4,97.5 1545.6,97.5 1545.6,115.2 1551.8,115.2 1551.8,149.3 1558.0,149.3 1558.0,159.1 1564.2,159.1 1564.2,183.1 1570.4,183.1 1570.4,211.1 1576.6,211.1 1576.6,228.5 1582.8,228.5 1582.8,240.7 1588.9,240.7 1588.9,245.8 1595.1,245.8 1595.1,256.8 1601.3,256.8 1601.3,271.9 1607.5,271.9 1607.5,276.2 1613.7,276.2 1613.7,286.6 1619.9,286.6 1619.9,294.9 1626.1,294.9 1626.1,305.2 1632.2,305.2 1632.2,312.4 1638.4,312.4 1638.4,320.5 1644.6,320.5 1644.6,316.9 1650.8,316.9 1650.8,326.1 1657.0,326.1 1657.0,323.1 1663.2,323.1 1663.2,324.3 1669.4,324.3 1669.4,321.2 1675.6,321.2 1675.6,323.2 1681.8,323.2 1681.8,325.3 1694.1,325.5 1694.1,322.2 1700.3,322.2 1700.3,317.6 1706.5,317.6" fill="none" stroke="#22ff22" stroke-width="5.0" stroke-linejoin="miter" stroke-linecap="butt"/>
<path d="M1441.9,340.0 1446.9,339.5 1454.3,336.6 1464.2,330.4 1469.2,325.2 1471.6,320.9 1474.1,313.6 1479.1,294.9 1484.0,270.1 1501.3,170.0 1511.2,105.8 1518.7,67.6 1523.6,51.2 1526.1,47.7 1528.6,42.7 1531.0,38.8 1533.5,31.0 1536.0,29.9 1538.5,41.2 1539.4,57.0 1545.6,57.0 1545.6,63.3 1551.8,63.3 1551.8,113.9 1558.0,113.9 1558.0,137.1 1564.2,137.1 1564.2,177.4 1570.4,177.4 1570.4,196.7 1576.6,196.7 1576.6,229.1 1582.8,229.1 1582.8,254.7 1588.9,254.7 1588.9,270.7 1595.1,270.7 1595.1,276.0 1601.3,276.0 1601.3,290.6 1607.5,290.6 1607.5,303.9 1613.7,303.9 1613.7,314.3 1619.9,314.3 1619.9,320.8 1626.1,320.8 1626.1,334.8 1632.2,334.8 1632.2,339.5 1638.4,339.5 1638.4,345.8 1644.6,345.8 1644.6,340.1 1650.8,340.1 1650.8,342.4 1657.0,342.4 1657.0,343.1 1663.2,343.1 1663.2,343.4 1669.4,343.4 1669.4,339.5 1675.6,339.5 1675.6,341.2 1687.9,341.5 1687.9,336.1 1694.1,336.1 1694.1,340.9 1700.3,340.9 1700.3,340.5 1706.5,340.5" fill="none" stroke="#e00000" stroke-width="5.0" stroke-linejoin="miter" stroke-linecap="butt"/>
</g>
<line x1="1444.40" y1="17.50" x2="1444.40" y2="348.10" stroke="#222" stroke-width="1.60" stroke-linecap="butt"/>
<line x1="1444.40" y1="347.30" x2="1693.80" y2="347.30" stroke="#222" stroke-width="1.60" stroke-linecap="butt"/>
<line x1="1468.90" y1="347.30" x2="1468.90" y2="356.30" stroke="#222" stroke-width="1.50" stroke-linecap="butt"/>
<line x1="1518.40" y1="347.30" x2="1518.40" y2="356.30" stroke="#222" stroke-width="1.50" stroke-linecap="butt"/>
<line x1="1567.90" y1="347.30" x2="1567.90" y2="356.30" stroke="#222" stroke-width="1.50" stroke-linecap="butt"/>
<line x1="1617.40" y1="347.30" x2="1617.40" y2="356.30" stroke="#222" stroke-width="1.50" stroke-linecap="butt"/>
<line x1="1666.90" y1="347.30" x2="1666.90" y2="356.30" stroke="#222" stroke-width="1.50" stroke-linecap="butt"/>
<text x="1468.90" y="378.30" font-size="20.00" text-anchor="middle" font-weight="normal" fill="#000" font-family="&quot;Liberation Sans&quot;, Arial, sans-serif">480</text>
<text x="1567.90" y="378.30" font-size="20.00" text-anchor="middle" font-weight="normal" fill="#000" font-family="&quot;Liberation Sans&quot;, Arial, sans-serif">520</text>
<text x="1666.90" y="378.30" font-size="20.00" text-anchor="middle" font-weight="normal" fill="#000" font-family="&quot;Liberation Sans&quot;, Arial, sans-serif">560</text>
<line x1="1444.40" y1="332.40" x2="1452.40" y2="332.40" stroke="#222" stroke-width="1.50" stroke-linecap="butt"/>
<line x1="1444.40" y1="272.50" x2="1452.40" y2="272.50" stroke="#222" stroke-width="1.50" stroke-linecap="butt"/>
<line x1="1444.40" y1="212.60" x2="1452.40" y2="212.60" stroke="#222" stroke-width="1.50" stroke-linecap="butt"/>
<line x1="1444.40" y1="152.70" x2="1452.40" y2="152.70" stroke="#222" stroke-width="1.50" stroke-linecap="butt"/>
<line x1="1444.40" y1="92.80" x2="1452.40" y2="92.80" stroke="#222" stroke-width="1.50" stroke-linecap="butt"/>
<line x1="1444.40" y1="32.90" x2="1452.40" y2="32.90" stroke="#222" stroke-width="1.50" stroke-linecap="butt"/>
<text x="1436.50" y="339.40" font-size="20.00" text-anchor="end" font-weight="normal" fill="#000" font-family="&quot;Liberation Sans&quot;, Arial, sans-serif">0</text>
<text x="1436.50" y="219.60" font-size="20.00" text-anchor="end" font-weight="normal" fill="#000" font-family="&quot;Liberation Sans&quot;, Arial, sans-serif">4</text>
<text x="1436.50" y="99.80" font-size="20.00" text-anchor="end" font-weight="normal" fill="#000" font-family="&quot;Liberation Sans&quot;, Arial, sans-serif">8</text>
<text x="1417.40" y="156.50" font-size="26.00" text-anchor="middle" font-weight="normal" fill="#000" font-family="&quot;Liberation Sans&quot;, Arial, sans-serif" letter-spacing="1" transform="rotate(-90 1417.4 156.5)">ΔA/A</text>
<text x="1571.30" y="412.30" font-size="27.00" text-anchor="middle" font-weight="normal" fill="#000" font-family="&quot;Liberation Sans&quot;, Arial, sans-serif" letter-spacing="0.8">λ/nm</text>
<line x1="755.00" y1="15.00" x2="755.00" y2="629.00" stroke="#000" stroke-width="2.00" stroke-linecap="butt"/>
<line x1="143.00" y1="16.00" x2="756.00" y2="16.00" stroke="#000" stroke-width="2.00" stroke-linecap="butt"/>
<line x1="1694.00" y1="11.00" x2="1694.00" y2="632.00" stroke="#000" stroke-width="2.00" stroke-linecap="butt"/>
<line x1="1074.00" y1="12.00" x2="1695.00" y2="12.00" stroke="#000" stroke-width="2.00" stroke-linecap="butt"/>
<g clip-path="url(#clipC)">
<path d="M158.0,1092.2 160.0,1091.9 164.5,1092.3 168.0,1091.8 170.5,1092.8 173.0,1092.1 176.0,1092.4 179.5,1091.8 185.5,1092.7 187.5,1092.1 190.0,1092.2 190.5,1091.9 192.5,1092.1 194.5,1092.7 197.0,1092.3 197.5,1092.6 199.0,1092.6 200.0,1092.0 206.0,1093.1 208.5,1092.6 213.0,1093.7 217.5,1093.6 220.0,1094.9 224.0,1094.2 226.5,1095.3 229.0,1094.9 233.5,1095.9 236.5,1095.5 239.0,1096.0 241.0,1095.7 244.5,1096.7 248.5,1096.8 250.0,1097.6 254.0,1097.5 256.0,1098.1 261.5,1098.3 264.5,1099.1 265.0,1098.9 267.5,1099.8 270.5,1099.6 274.5,1100.4 279.0,1100.1 280.5,1100.4 281.5,1101.1 288.0,1101.5 295.5,1101.2 300.0,1101.8 301.0,1101.8 302.5,1100.9 305.0,1101.3 309.5,1100.8 314.0,1101.0 316.5,1100.3 318.5,1100.4 323.5,1099.6 326.0,1100.3 328.5,1099.5 331.0,1099.6 334.0,1098.7 336.5,1099.5 340.5,1098.7 342.0,1099.2 344.0,1098.7 347.0,1098.6 354.5,1099.2 357.5,1098.9 361.5,1099.6 363.0,1099.1 365.5,1100.1 372.0,1100.5 374.5,1101.5 376.5,1101.3 377.0,1100.9 382.0,1101.3 385.5,1102.3 387.0,1102.0 390.0,1102.5 390.5,1102.2 393.0,1103.0 395.5,1102.4 397.0,1102.8 399.5,1102.5 402.0,1102.9 406.5,1102.4 409.0,1102.7 413.5,1101.3 417.5,1100.8 423.0,1098.9 426.5,1099.1 430.5,1098.3 439.5,1094.6 442.0,1094.8 445.0,1093.2 448.0,1092.2 449.0,1092.4 451.0,1092.0 453.5,1090.3 454.5,1090.5 459.5,1088.9 462.0,1088.9 463.0,1088.2 467.5,1087.5 470.0,1086.3 472.5,1086.4 476.0,1084.7 477.0,1085.1 479.0,1084.6 480.5,1084.8 482.5,1084.3 485.0,1083.0 488.5,1083.2 493.5,1081.5 497.0,1081.6 503.5,1080.2 505.0,1080.6 507.5,1080.2 509.5,1080.4 512.5,1079.0 514.0,1079.5 517.5,1079.1 519.5,1079.3 523.5,1079.0 525.5,1078.4 527.5,1079.0 530.0,1078.4 531.5,1078.5 532.5,1079.0 540.0,1077.6 543.5,1078.2 545.0,1078.2 547.5,1077.5 550.0,1077.9 551.0,1077.4 552.5,1077.4 554.0,1078.0 556.5,1077.5 559.0,1077.9 566.0,1076.8 569.0,1077.5 571.5,1077.6 574.5,1076.8 577.0,1077.7 578.5,1077.6 581.0,1076.8 583.5,1077.4 585.5,1077.1 586.5,1077.4 592.0,1076.7 596.5,1077.2 599.0,1076.5 601.0,1077.2 603.0,1076.7 610.5,1076.5 613.5,1077.1 616.0,1076.5 618.5,1077.0 624.0,1076.5 625.0,1077.0 630.0,1077.0 631.0,1076.4 632.5,1076.4 636.5,1076.9 642.5,1076.3 645.0,1076.8 646.0,1076.5 651.5,1077.0 654.5,1076.3 657.0,1077.0 661.5,1076.8 663.0,1077.0 665.5,1076.4 671.5,1076.8 675.0,1076.0 677.5,1077.0 680.0,1076.0 683.0,1077.3 687.0,1076.5 696.0,1077.1 700.0,1076.6 700.5,1077.0 702.5,1076.9 703.0,1076.6 704.5,1077.1 707.0,1076.4 710.0,1076.9 712.5,1076.7 714.0,1076.9 716.5,1076.8 718.0,1076.1 720.0,1076.9 721.5,1076.7 723.0,1077.1 725.5,1076.5 731.5,1077.1 734.0,1076.6 734.5,1077.0 736.5,1077.1 737.0,1076.8 740.0,1076.8" fill="none" stroke="#a8a8a8" stroke-width="4.30" stroke-linejoin="round" stroke-linecap="round"/>
<path d="M158.0,1084.2 160.0,1083.5 161.0,1083.8 164.5,1083.4 170.0,1083.5 172.5,1082.6 176.5,1082.6 178.0,1082.1 180.5,1082.1 181.5,1081.6 184.0,1082.1 187.0,1081.3 190.5,1081.3 191.5,1080.8 195.0,1081.0 197.5,1079.8 199.0,1080.2 201.0,1079.6 207.0,1079.3 210.0,1078.5 211.0,1079.1 212.0,1079.0 214.5,1077.7 215.5,1078.0 219.0,1077.3 223.0,1077.0 224.0,1076.4 225.0,1076.6 231.0,1075.2 232.0,1075.5 234.0,1074.7 238.0,1074.1 241.5,1074.6 244.0,1073.5 249.5,1073.0 250.0,1072.7 252.5,1072.7 253.5,1072.1 255.0,1072.0 257.5,1072.8 261.5,1071.2 263.5,1071.9 268.0,1070.8 271.0,1071.2 275.5,1070.7 278.0,1071.2 281.0,1070.5 284.0,1071.3 286.5,1071.3 288.0,1072.2 290.5,1072.2 292.0,1073.0 297.0,1073.6 302.5,1076.1 304.5,1076.5 305.0,1076.1 307.5,1077.2 310.5,1078.0 311.5,1078.7 315.0,1079.2 317.0,1080.7 319.5,1081.4 321.0,1082.5 324.0,1082.7 326.5,1084.7 328.0,1084.6 330.5,1085.1 331.5,1084.9 334.0,1085.6 336.0,1085.0 338.5,1085.0 342.0,1083.4 343.0,1082.6 345.5,1082.1 347.0,1081.4 349.5,1079.4 351.5,1078.4 352.0,1078.5 359.5,1075.1 365.0,1073.3 365.5,1072.7 369.5,1071.8 370.5,1072.0 373.5,1070.0 375.0,1069.8 376.0,1070.2 378.5,1069.0 381.0,1069.3 384.0,1068.3 386.5,1068.4 387.5,1067.9 389.5,1067.8 392.5,1068.6 394.0,1068.2 397.5,1068.8 413.0,1074.2 417.5,1076.7 422.5,1081.8 430.0,1091.9 433.5,1094.0 436.0,1094.5 438.5,1094.2 440.0,1094.5 444.5,1093.4 445.0,1092.8 448.0,1092.9 451.0,1092.1 453.0,1091.2 455.5,1091.1 458.0,1089.8 468.5,1086.3 474.0,1083.2 476.5,1081.2 481.5,1079.0 484.0,1077.2 486.5,1076.2 489.0,1076.1 492.0,1074.7 497.0,1073.6 503.0,1071.5 506.0,1071.8 508.0,1071.3 510.5,1071.4 511.0,1070.9 516.5,1070.8 518.5,1070.2 521.0,1070.5 523.0,1070.3 524.0,1070.7 526.5,1070.0 529.0,1070.4 532.0,1070.0 535.5,1070.6 539.5,1069.9 540.5,1069.1 541.5,1069.1 543.5,1070.1 544.5,1069.9 545.5,1070.4 550.5,1070.1 554.5,1071.7 558.0,1071.4 561.0,1072.0 563.5,1073.6 564.5,1073.2 566.0,1073.3 569.0,1074.6 573.5,1074.2 577.0,1074.4 580.5,1075.1 583.0,1074.9 585.5,1075.9 589.0,1075.5 593.0,1076.3 594.5,1076.0 596.5,1076.4 599.0,1076.2 602.0,1076.9 605.0,1076.4 607.5,1077.4 610.5,1077.2 613.0,1077.9 614.0,1077.4 614.5,1077.8 616.5,1078.2 618.5,1077.9 621.5,1078.8 624.0,1078.2 628.0,1078.7 630.0,1078.4 637.5,1079.2 642.0,1078.6 645.0,1079.2 650.0,1078.8 652.0,1079.2 654.5,1078.9 660.5,1079.7 661.5,1079.4 662.0,1079.7 663.0,1079.4 663.5,1079.7 664.5,1079.1 666.0,1079.3 666.5,1079.8 669.0,1079.0 673.0,1079.6 673.5,1079.3 674.5,1079.7 677.0,1079.5 678.0,1079.8 680.5,1079.4 681.0,1079.7 683.0,1079.5 685.5,1079.9 686.5,1079.7 688.5,1080.1 694.5,1079.5 697.0,1079.8 698.0,1079.4 704.0,1080.2 707.0,1079.6 711.0,1080.3 714.0,1080.3 716.5,1079.4 719.5,1080.3 722.0,1079.7 724.5,1080.1 727.0,1079.5 728.5,1080.0 732.0,1080.0 736.0,1079.3 737.5,1080.0 740.0,1080.1" fill="none" stroke="#0a8a1a" stroke-width="4.30" stroke-linejoin="round" stroke-linecap="round"/>
<path d="M158.0,1084.1 160.5,1082.9 163.0,1082.7 167.5,1080.9 168.5,1081.0 171.0,1079.3 174.5,1080.1 177.0,1079.8 180.5,1080.4 181.0,1080.0 182.5,1080.4 183.0,1080.0 184.0,1080.7 186.5,1080.3 189.0,1080.8 192.0,1080.4 194.5,1081.2 196.0,1081.1 197.5,1080.5 199.5,1080.9 201.5,1080.8 205.0,1081.3 207.5,1080.8 210.5,1081.1 213.0,1081.9 216.5,1081.0 217.5,1081.5 219.0,1081.5 222.5,1080.5 225.0,1081.2 228.0,1080.3 230.0,1080.1 230.5,1080.5 234.0,1079.2 237.0,1079.3 239.0,1078.4 241.5,1078.6 242.0,1078.2 245.5,1077.9 247.5,1077.2 252.0,1077.2 254.0,1076.3 258.5,1076.3 259.0,1076.5 261.5,1076.2 263.0,1076.7 265.0,1075.7 266.0,1075.6 270.0,1076.2 272.0,1075.9 275.5,1077.3 278.0,1076.6 279.5,1076.9 280.5,1077.7 285.5,1078.1 290.5,1079.6 293.0,1079.7 296.0,1081.0 301.0,1081.4 304.5,1082.8 306.0,1083.3 306.5,1083.1 309.0,1084.3 311.0,1084.8 314.5,1084.8 316.0,1085.3 318.0,1085.1 320.5,1085.9 322.5,1085.1 326.0,1085.1 329.5,1084.2 338.5,1080.7 346.0,1078.4 348.0,1078.7 353.5,1077.9 355.5,1078.2 359.5,1077.4 362.0,1078.0 367.0,1076.4 369.0,1076.8 371.0,1076.2 375.5,1076.7 377.5,1076.1 380.0,1076.4 386.0,1075.8 386.5,1076.2 389.0,1075.7 390.0,1076.3 391.0,1076.0 392.5,1076.2 393.5,1077.0 396.0,1077.1 400.5,1078.2 403.5,1079.4 406.0,1081.1 407.5,1080.6 410.0,1081.9 416.0,1083.9 417.0,1084.7 419.5,1085.6 421.0,1087.1 430.5,1093.1 432.0,1093.6 432.5,1093.1 434.0,1093.5 435.0,1094.3 436.5,1094.3 443.5,1091.4 446.5,1089.5 448.5,1087.7 450.5,1086.7 461.0,1076.2 463.5,1075.3 469.0,1070.9 470.5,1070.7 472.0,1069.9 480.5,1064.8 481.0,1065.0 482.5,1064.3 485.0,1064.4 487.0,1063.1 491.5,1062.3 494.5,1062.0 495.0,1062.3 497.5,1061.5 498.5,1061.7 507.5,1060.5 509.5,1060.8 511.5,1060.6 512.5,1061.0 513.0,1060.7 518.5,1061.6 522.5,1060.9 524.5,1061.6 532.0,1061.1 535.0,1061.8 537.0,1061.7 539.5,1062.4 546.5,1062.7 548.5,1063.8 552.5,1064.3 556.0,1065.9 559.5,1066.7 560.0,1066.4 561.5,1066.7 564.5,1068.4 565.0,1068.0 567.0,1068.0 567.5,1068.7 569.5,1069.2 570.0,1069.0 571.0,1069.7 572.5,1070.2 574.5,1069.8 578.0,1070.7 582.0,1070.6 584.0,1071.3 584.5,1071.9 587.5,1071.3 589.0,1072.1 593.5,1071.9 599.0,1073.4 602.0,1073.0 605.0,1073.5 605.5,1073.2 609.5,1074.1 612.5,1073.4 615.5,1074.5 618.0,1074.0 621.0,1074.9 623.5,1074.7 626.0,1075.4 628.5,1075.1 629.5,1075.6 636.0,1075.7 637.5,1076.4 640.0,1075.6 642.5,1076.9 645.0,1076.3 647.5,1076.8 650.5,1076.5 659.0,1078.1 660.0,1077.6 663.0,1078.0 666.0,1077.7 667.5,1078.0 670.0,1077.5 674.0,1078.7 676.5,1078.4 680.0,1079.5 683.0,1078.9 686.0,1079.9 686.5,1079.5 689.0,1079.2 691.5,1080.1 692.0,1079.8 694.5,1080.2 697.0,1079.5 699.0,1080.2 700.5,1079.8 703.5,1080.4 706.0,1079.7 708.5,1080.4 709.0,1080.1 714.5,1080.1 718.5,1079.2 721.0,1079.5 722.5,1079.0 725.0,1079.6 727.0,1079.1 729.5,1079.2 732.0,1078.4 734.5,1078.7 737.0,1077.9 740.0,1077.7" fill="none" stroke="#000000" stroke-width="4.30" stroke-linejoin="round" stroke-linecap="round"/>
<path d="M158.0,1091.6 161.0,1093.0 163.5,1092.8 166.0,1094.2 169.5,1094.8 170.5,1094.6 172.5,1095.6 177.0,1096.3 179.0,1097.2 183.5,1098.0 186.0,1099.1 188.5,1098.7 191.5,1100.2 194.0,1100.1 200.5,1101.7 202.0,1101.6 204.5,1102.9 207.5,1102.6 210.5,1103.4 213.0,1103.6 218.0,1105.1 220.5,1104.8 226.5,1105.6 227.5,1106.2 230.5,1106.1 232.0,1106.8 242.0,1108.3 247.0,1110.4 249.5,1111.0 253.0,1113.1 256.0,1114.2 257.0,1115.0 259.0,1115.5 260.0,1116.4 261.5,1116.9 263.0,1116.9 265.5,1118.5 269.0,1119.2 273.0,1121.0 274.5,1121.0 277.0,1122.6 278.0,1122.5 280.5,1123.6 285.0,1124.8 287.5,1126.4 290.5,1126.4 293.5,1127.5 294.0,1127.2 296.5,1128.2 299.0,1127.7 302.0,1128.5 305.5,1127.6 308.0,1127.9 311.0,1126.6 314.0,1126.3 316.5,1124.8 319.0,1124.9 322.5,1123.1 327.0,1122.0 329.5,1120.4 331.5,1119.8 333.0,1118.6 334.0,1118.2 335.5,1118.3 338.0,1116.9 340.0,1116.8 341.0,1116.2 344.5,1116.0 345.0,1115.6 347.0,1115.9 347.5,1116.3 350.0,1116.4 352.0,1116.8 354.0,1117.8 355.0,1117.8 356.0,1118.4 356.5,1118.3 359.5,1119.4 360.5,1119.3 363.0,1120.5 365.0,1121.0 367.5,1122.5 369.0,1122.5 372.0,1123.8 374.0,1123.8 383.5,1128.3 389.0,1132.3 393.5,1133.9 396.5,1135.7 403.5,1137.3 409.0,1137.0 411.0,1136.2 415.0,1134.1 418.0,1131.6 419.5,1131.0 422.5,1128.7 427.0,1123.6 430.5,1118.5 433.0,1114.0 437.5,1107.8 443.0,1102.8 448.5,1095.4 451.5,1092.6 454.0,1089.2 458.5,1084.2 465.5,1077.7 468.0,1076.4 472.5,1072.1 475.5,1070.6 478.0,1068.2 481.0,1067.3 481.5,1066.8 483.0,1066.6 488.0,1063.4 489.5,1063.0 490.5,1063.3 492.5,1062.1 495.0,1061.5 496.5,1060.3 498.5,1059.8 502.5,1059.9 505.0,1058.8 511.5,1058.2 513.0,1058.6 517.0,1058.4 522.0,1058.9 523.5,1058.6 525.5,1059.4 528.0,1058.8 530.0,1059.3 533.5,1058.3 537.5,1059.5 538.5,1059.1 539.0,1059.4 540.0,1059.0 541.0,1059.4 542.0,1059.0 547.0,1059.5 549.5,1060.4 553.0,1060.4 556.0,1060.9 560.0,1062.5 562.5,1062.1 566.5,1064.3 568.5,1064.2 571.0,1065.2 574.0,1065.2 576.5,1066.3 578.5,1065.9 581.5,1066.6 584.5,1066.6 589.5,1068.1 591.0,1067.9 591.5,1068.3 596.0,1068.2 600.5,1069.5 603.0,1068.9 606.0,1069.7 607.5,1070.6 610.0,1070.0 612.5,1070.6 614.0,1070.6 616.0,1071.4 618.5,1071.0 619.0,1071.4 620.5,1071.1 622.5,1071.8 624.0,1071.5 626.0,1072.4 627.5,1071.7 629.0,1072.3 630.5,1072.1 634.0,1072.5 635.0,1073.2 640.0,1072.6 643.0,1073.5 646.0,1073.2 648.0,1073.8 650.5,1073.3 653.0,1074.2 658.0,1073.6 662.5,1074.6 668.0,1074.7 669.0,1074.4 671.5,1075.4 674.5,1074.5 678.0,1075.5 681.0,1075.2 683.5,1076.0 688.0,1075.4 692.0,1076.5 699.5,1076.1 700.5,1076.6 708.0,1076.5 710.5,1077.0 713.5,1076.7 716.5,1077.4 718.0,1077.0 720.5,1077.5 723.0,1076.7 726.0,1078.0 728.5,1077.6 729.5,1077.9 733.0,1077.6 736.5,1078.1 740.0,1078.0" fill="none" stroke="#e050b8" stroke-width="4.30" stroke-linejoin="round" stroke-linecap="round"/>
<path d="M158.0,1107.0 161.0,1108.0 165.5,1111.1 167.0,1111.3 170.5,1113.3 177.5,1115.7 181.0,1117.7 183.0,1117.3 185.5,1118.7 189.0,1118.8 191.0,1120.0 192.0,1119.6 194.5,1120.7 198.0,1120.7 204.0,1122.2 207.5,1122.0 212.0,1123.0 215.0,1122.0 218.5,1122.2 219.5,1121.5 221.0,1121.3 221.5,1121.5 224.0,1120.5 227.5,1120.8 230.0,1119.3 232.5,1120.7 233.5,1120.6 236.0,1121.9 238.0,1122.2 248.0,1128.2 252.0,1131.5 254.0,1132.6 258.0,1137.5 260.5,1139.6 263.0,1142.5 267.5,1145.2 276.0,1155.0 278.5,1157.0 284.0,1162.6 288.5,1165.6 291.5,1166.3 292.5,1166.9 294.0,1167.1 294.5,1166.6 297.0,1166.2 298.5,1164.8 300.0,1164.4 301.0,1164.6 302.0,1163.9 302.5,1164.0 308.5,1158.8 310.0,1157.9 316.0,1152.7 325.5,1139.6 329.5,1135.6 332.5,1134.2 334.5,1132.5 339.0,1131.0 340.0,1130.1 341.0,1129.8 342.5,1130.2 344.5,1129.8 346.5,1130.7 348.5,1130.7 349.5,1131.2 351.0,1133.0 353.5,1134.3 364.5,1144.2 375.5,1156.9 380.0,1162.8 383.5,1165.6 389.0,1173.0 391.5,1174.6 393.5,1177.3 398.5,1180.8 400.0,1181.4 402.0,1181.6 405.0,1180.6 406.0,1179.7 408.5,1177.2 410.5,1174.3 412.5,1172.2 417.5,1164.6 421.5,1155.6 437.0,1112.7 441.0,1100.3 449.0,1072.0 453.0,1061.1 462.0,1048.0 464.5,1046.1 466.5,1043.3 469.5,1040.7 470.5,1039.3 480.0,1031.4 487.0,1027.7 488.5,1027.6 491.0,1025.6 493.0,1025.5 494.0,1024.9 497.5,1024.4 498.0,1023.8 500.0,1023.0 501.5,1023.4 503.0,1023.3 505.0,1022.3 512.5,1021.3 513.5,1021.5 516.0,1020.6 526.0,1020.8 528.0,1021.5 530.0,1021.1 532.5,1022.1 533.5,1021.7 536.5,1022.1 540.0,1023.5 541.5,1023.5 546.0,1025.5 548.5,1025.9 551.0,1027.9 553.0,1027.9 556.0,1029.3 558.5,1031.3 560.5,1031.8 562.5,1033.6 565.0,1034.8 567.5,1037.1 568.5,1037.4 573.5,1040.9 575.5,1041.6 577.0,1042.9 583.0,1046.1 589.0,1048.5 593.0,1051.3 594.5,1051.2 599.0,1053.2 600.0,1054.2 603.0,1054.9 605.5,1056.5 610.0,1057.9 613.0,1059.7 615.5,1059.7 620.5,1062.0 622.5,1062.2 623.0,1061.9 624.5,1062.7 630.0,1064.2 631.5,1064.5 632.5,1064.2 633.0,1064.7 634.0,1064.8 639.0,1066.5 640.5,1066.5 643.0,1067.4 646.5,1067.7 649.0,1068.8 653.5,1069.9 656.0,1070.1 658.5,1071.1 661.5,1070.9 664.0,1071.4 665.5,1071.2 668.0,1072.2 671.0,1072.8 676.5,1072.2 677.5,1072.3 680.0,1073.9 683.5,1073.1 686.5,1073.8 687.0,1074.3 688.0,1074.0 691.0,1074.5 693.5,1074.2 698.0,1075.0 702.0,1075.1 703.0,1074.6 706.0,1075.6 708.5,1075.2 716.5,1076.7 723.5,1076.8 726.0,1076.2 729.5,1077.5 732.0,1077.1 735.5,1077.6 738.0,1077.5 738.5,1077.8 740.0,1077.6" fill="none" stroke="#0000d8" stroke-width="4.30" stroke-linejoin="round" stroke-linecap="round"/>
<path d="M158.0,1106.8 161.5,1110.4 166.5,1116.7 170.0,1119.5 172.5,1122.3 174.0,1122.9 178.0,1127.0 181.0,1128.9 183.0,1130.7 185.5,1131.5 186.5,1132.2 189.5,1132.9 192.0,1134.8 194.5,1135.2 197.5,1136.9 201.5,1138.2 209.0,1138.6 211.5,1139.2 213.0,1139.0 215.0,1138.1 217.5,1137.8 218.5,1137.1 222.0,1136.4 224.0,1135.5 225.0,1135.7 227.5,1134.9 231.0,1134.4 240.0,1136.2 242.5,1138.7 244.0,1138.9 247.0,1140.8 251.0,1145.3 259.0,1158.1 265.0,1169.3 268.5,1175.0 278.5,1195.3 280.5,1198.6 283.5,1201.8 286.0,1205.7 288.5,1208.2 291.0,1211.4 292.0,1211.7 294.5,1213.4 299.0,1212.8 302.0,1209.8 305.0,1205.8 318.5,1181.1 324.5,1166.3 330.0,1156.8 334.5,1152.5 341.0,1147.7 344.5,1148.6 348.0,1151.2 348.5,1152.4 351.0,1155.4 360.5,1172.3 366.5,1185.4 370.5,1196.3 375.5,1208.2 381.0,1218.6 388.5,1234.3 395.0,1243.8 399.0,1245.9 400.0,1245.8 403.5,1243.5 410.0,1235.3 412.0,1230.4 414.5,1221.3 421.5,1186.7 429.5,1133.1 435.5,1099.3 440.0,1077.6 446.0,1051.8 455.0,1017.4 462.5,1002.2 467.5,996.6 470.5,992.6 480.0,984.8 482.5,983.8 486.5,981.4 490.5,980.4 493.0,978.9 494.5,978.6 495.5,979.0 496.5,978.6 497.0,978.8 499.5,977.3 502.5,977.1 504.5,976.1 506.5,976.3 508.5,975.8 511.0,976.2 513.5,975.5 516.0,975.8 522.0,974.8 526.5,975.5 529.0,975.4 534.5,977.8 537.0,978.3 539.5,979.9 541.5,980.4 544.0,982.2 546.0,982.6 555.0,987.5 562.0,992.0 566.5,994.4 575.5,1002.1 578.0,1003.7 582.0,1007.9 586.0,1009.9 590.0,1014.3 593.0,1015.9 597.0,1019.9 602.0,1023.2 606.0,1026.5 608.5,1029.2 613.5,1032.6 617.5,1036.8 620.5,1039.2 629.0,1045.1 630.5,1046.6 633.0,1047.5 634.5,1048.8 637.0,1049.7 639.5,1051.6 643.0,1053.0 646.5,1055.1 649.5,1056.3 651.5,1056.4 658.0,1059.0 659.5,1059.1 663.0,1060.8 665.0,1060.9 666.5,1062.0 670.0,1061.8 671.5,1062.6 678.0,1064.5 681.0,1064.6 683.5,1065.5 686.0,1065.2 688.5,1066.6 692.5,1067.3 693.0,1067.0 695.5,1067.9 697.0,1067.6 700.5,1068.3 704.5,1070.0 707.0,1069.4 709.5,1070.7 712.0,1070.5 715.5,1071.7 720.5,1071.9 721.0,1071.6 721.5,1072.2 723.5,1073.0 725.0,1072.8 729.5,1073.4 731.0,1073.0 733.5,1073.9 740.0,1074.4" fill="none" stroke="#7dff1e" stroke-width="4.30" stroke-linejoin="round" stroke-linecap="round"/>
<path d="M158.0,1115.9 164.0,1121.9 168.5,1127.3 172.5,1130.6 175.0,1134.4 178.0,1137.4 180.5,1141.8 184.5,1147.4 189.5,1152.1 193.0,1153.9 199.0,1155.8 203.5,1156.5 206.0,1157.8 210.0,1158.0 215.0,1157.0 217.5,1155.6 222.0,1154.4 225.5,1152.2 229.5,1150.7 232.5,1150.6 241.0,1152.3 244.0,1155.3 248.5,1163.4 259.5,1187.9 277.5,1234.0 281.5,1243.4 285.0,1249.8 290.0,1256.7 292.0,1258.7 293.5,1259.2 297.0,1257.4 299.0,1255.5 303.5,1249.8 305.5,1245.9 316.5,1216.1 319.5,1205.4 324.0,1191.6 328.0,1183.3 333.0,1175.2 334.0,1174.5 338.5,1169.1 340.5,1168.4 342.0,1168.5 344.0,1169.7 348.5,1175.7 353.0,1184.4 355.0,1189.7 359.5,1205.0 363.5,1221.5 374.5,1259.2 382.5,1281.4 386.0,1289.2 389.0,1293.9 393.0,1297.8 397.5,1299.4 399.5,1298.9 400.5,1298.3 405.0,1292.1 406.0,1290.2 408.5,1281.9 411.0,1269.6 420.5,1213.0 425.5,1178.6 435.5,1092.1 443.0,1049.5 451.0,1011.1 454.0,999.2 458.0,987.1 460.0,981.5 463.5,973.9 470.5,964.1 476.5,959.0 482.0,955.5 484.0,953.7 488.5,951.5 490.0,951.0 491.5,951.1 494.5,949.0 500.5,947.5 502.0,947.7 505.0,946.5 510.0,947.2 511.5,946.5 514.0,946.7 518.0,946.1 522.0,946.7 523.0,947.2 525.5,946.9 529.0,948.5 537.0,951.1 543.5,955.0 545.0,956.3 547.0,956.8 549.5,958.8 553.5,961.0 562.0,968.3 566.5,974.3 569.0,976.9 571.0,979.8 573.5,982.2 575.5,985.2 576.5,985.9 588.5,1000.8 591.0,1003.4 594.0,1007.5 598.5,1012.1 601.0,1015.2 610.5,1024.6 615.5,1028.4 618.0,1032.0 623.0,1036.0 626.5,1039.9 629.5,1042.1 631.0,1042.2 634.5,1045.6 639.5,1047.6 642.5,1049.3 643.5,1049.3 644.5,1049.9 647.5,1050.6 650.0,1052.5 652.5,1052.5 657.0,1053.6 659.0,1054.8 660.5,1054.8 662.5,1055.8 666.0,1056.4 670.5,1058.5 673.5,1058.9 676.5,1060.1 679.5,1060.3 685.0,1062.5 686.5,1063.6 691.0,1063.8 692.5,1064.7 694.5,1064.9 697.0,1066.1 699.0,1065.9 704.5,1067.5 707.5,1067.6 710.5,1068.3 713.0,1068.1 717.0,1068.8 719.5,1068.7 722.0,1069.6 724.0,1069.2 731.0,1069.8 733.5,1069.2 736.0,1070.1 737.5,1069.6 740.0,1069.9" fill="none" stroke="#e00000" stroke-width="4.30" stroke-linejoin="round" stroke-linecap="round"/>
<path d="M158.0,1323.6 160.5,1323.4 164.5,1324.5 167.0,1324.4 172.5,1325.9 175.0,1325.9 178.0,1327.2 181.5,1328.0 184.0,1329.6 186.5,1329.5 189.0,1330.9 191.0,1331.3 195.5,1333.1 200.0,1334.0 203.0,1333.6 207.0,1333.9 216.5,1331.1 221.0,1328.8 224.0,1326.4 228.0,1322.1 235.0,1318.0 238.5,1316.7 245.0,1315.1 247.5,1315.9 250.0,1315.9 262.0,1322.7 268.0,1327.2 274.0,1332.9 277.0,1334.9 282.0,1340.0 284.5,1341.9 287.5,1345.5 289.5,1347.3 295.0,1350.3 297.5,1349.9 299.5,1350.2 303.0,1349.4 304.5,1348.5 306.5,1348.4 308.5,1347.7 310.5,1346.8 312.5,1345.3 323.5,1327.8 331.5,1312.4 335.5,1307.7 337.0,1306.8 340.5,1305.6 344.5,1304.8 348.0,1304.8 353.0,1308.3 356.0,1311.8 360.0,1315.5 362.5,1317.2 365.0,1319.9 370.0,1323.9 372.5,1327.2 375.0,1329.2 378.0,1333.0 381.0,1335.8 387.0,1342.6 398.5,1360.6 403.5,1366.9 406.0,1369.0 409.0,1370.5 411.0,1371.1 413.5,1371.3 415.0,1371.0 416.5,1369.3 418.5,1366.3 422.0,1359.1 427.5,1346.3 436.0,1321.1 439.0,1314.4 442.0,1310.4 446.5,1305.4 450.5,1302.8 454.5,1303.0 459.5,1306.5 466.5,1312.7 477.5,1319.1 480.0,1320.0 484.0,1322.2 487.0,1322.8 495.5,1325.9 496.0,1325.6 498.0,1325.6 501.0,1326.5 519.0,1327.7 523.5,1327.4 527.5,1327.8 530.5,1327.4 534.0,1327.9 538.0,1327.4 540.5,1327.8 542.0,1327.4 544.5,1327.9 557.5,1327.4 560.0,1327.8 563.0,1327.5 564.0,1327.8 570.0,1327.3 573.5,1327.9 576.0,1327.6 578.5,1328.1 580.0,1327.6 586.0,1327.4 588.5,1328.1 591.5,1327.5 592.5,1327.9 595.0,1327.5 596.5,1328.0 600.0,1327.6 609.5,1328.0 613.5,1327.6 615.5,1328.1 619.5,1327.9 621.0,1327.4 623.5,1328.0 626.0,1327.5 637.0,1328.2 641.0,1327.5 644.0,1327.8 652.0,1327.5 657.5,1327.9 659.5,1327.3 662.0,1328.0 663.5,1327.6 667.0,1327.6 675.5,1328.1 678.0,1327.5 686.5,1327.8 689.0,1327.2 691.5,1327.8 694.0,1327.5 696.5,1327.9 698.0,1327.5 701.0,1327.8 703.0,1327.3 709.5,1327.8 712.0,1327.5 713.5,1327.9 725.0,1327.4 740.0,1327.8" fill="none" stroke="#000000" stroke-width="4.20" stroke-linejoin="round" stroke-linecap="round"/>
<path d="M158.0,1321.0 165.0,1318.8 172.5,1317.3 180.0,1316.7 186.5,1317.0 193.5,1318.3 203.5,1320.9 207.0,1322.4 216.5,1327.6 219.5,1328.5 222.0,1328.7 224.0,1328.0 226.0,1326.8 233.5,1320.3 238.0,1317.4 245.5,1312.8 258.5,1305.7 262.0,1304.0 265.0,1303.0 267.5,1302.6 270.0,1302.8 273.0,1303.7 276.5,1305.6 280.5,1308.6 286.0,1313.1 289.5,1317.4 297.5,1329.8 303.5,1336.6 307.5,1340.4 315.5,1346.8 318.0,1348.2 320.5,1348.7 323.0,1348.1 326.0,1346.3 329.0,1343.7 334.5,1338.4 338.0,1333.5 344.5,1322.4 347.5,1317.8 351.0,1313.9 356.5,1308.7 359.0,1306.8 361.5,1305.3 367.5,1303.0 370.5,1302.1 373.0,1301.6 375.0,1301.5 377.0,1301.7 380.5,1303.1 384.5,1305.8 390.0,1310.5 392.5,1313.7 395.0,1318.2 397.5,1323.5 407.5,1346.2 414.0,1362.1 417.0,1368.3 422.0,1375.7 425.5,1380.1 428.0,1382.2 429.5,1382.9 430.5,1383.0 433.0,1382.6 435.5,1381.5 439.5,1378.9 442.0,1376.7 444.5,1372.6 449.0,1363.0 451.0,1359.4 456.0,1352.7 460.5,1347.8 465.5,1343.2 470.0,1339.7 473.5,1337.5 478.5,1335.2 484.5,1332.9 490.0,1331.4 496.5,1330.3 505.5,1329.3 513.5,1328.7 531.0,1328.0 559.5,1327.9" fill="none" stroke="#000" stroke-width="4.2" stroke-dasharray="3.2 2.6"/>
</g>
<rect x="158.0" y="923.0" width="583.0" height="466.0" stroke="#3c3c3c" stroke-width="2" fill="none"/>
<line x1="147.00" y1="1389.00" x2="158.00" y2="1389.00" stroke="#3c3c3c" stroke-width="2.00" stroke-linecap="butt"/>
<line x1="148.00" y1="955.00" x2="158.00" y2="955.00" stroke="#3c3c3c" stroke-width="2.00" stroke-linecap="butt"/>
<line x1="148.00" y1="1017.00" x2="158.00" y2="1017.00" stroke="#3c3c3c" stroke-width="2.00" stroke-linecap="butt"/>
<line x1="148.00" y1="1079.00" x2="158.00" y2="1079.00" stroke="#3c3c3c" stroke-width="2.00" stroke-linecap="butt"/>
<line x1="148.00" y1="1141.00" x2="158.00" y2="1141.00" stroke="#3c3c3c" stroke-width="2.00" stroke-linecap="butt"/>
<line x1="148.00" y1="1203.00" x2="158.00" y2="1203.00" stroke="#3c3c3c" stroke-width="2.00" stroke-linecap="butt"/>
<line x1="148.00" y1="1265.00" x2="158.00" y2="1265.00" stroke="#3c3c3c" stroke-width="2.00" stroke-linecap="butt"/>
<line x1="148.00" y1="1327.00" x2="158.00" y2="1327.00" stroke="#3c3c3c" stroke-width="2.00" stroke-linecap="butt"/>
<line x1="158.00" y1="1389.00" x2="158.00" y2="1399.50" stroke="#3c3c3c" stroke-width="2.00" stroke-linecap="butt"/>
<text x="158.00" y="1439.60" font-size="29.00" text-anchor="middle" font-weight="normal" fill="#000" font-family="&quot;Liberation Sans&quot;, Arial, sans-serif">400</text>
<line x1="231.00" y1="1389.00" x2="231.00" y2="1399.50" stroke="#3c3c3c" stroke-width="2.00" stroke-linecap="butt"/>
<text x="230.81" y="1439.60" font-size="29.00" text-anchor="middle" font-weight="normal" fill="#000" font-family="&quot;Liberation Sans&quot;, Arial, sans-serif">420</text>
<line x1="304.00" y1="1389.00" x2="304.00" y2="1399.50" stroke="#3c3c3c" stroke-width="2.00" stroke-linecap="butt"/>
<text x="303.62" y="1439.60" font-size="29.00" text-anchor="middle" font-weight="normal" fill="#000" font-family="&quot;Liberation Sans&quot;, Arial, sans-serif">440</text>
<line x1="376.00" y1="1389.00" x2="376.00" y2="1399.50" stroke="#3c3c3c" stroke-width="2.00" stroke-linecap="butt"/>
<text x="376.44" y="1439.60" font-size="29.00" text-anchor="middle" font-weight="normal" fill="#000" font-family="&quot;Liberation Sans&quot;, Arial, sans-serif">460</text>
<line x1="449.00" y1="1389.00" x2="449.00" y2="1399.50" stroke="#3c3c3c" stroke-width="2.00" stroke-linecap="butt"/>
<text x="449.25" y="1439.60" font-size="29.00" text-anchor="middle" font-weight="normal" fill="#000" font-family="&quot;Liberation Sans&quot;, Arial, sans-serif">480</text>
<line x1="522.00" y1="1389.00" x2="522.00" y2="1399.50" stroke="#3c3c3c" stroke-width="2.00" stroke-linecap="butt"/>
<text x="522.06" y="1439.60" font-size="29.00" text-anchor="middle" font-weight="normal" fill="#000" font-family="&quot;Liberation Sans&quot;, Arial, sans-serif">500</text>
<line x1="595.00" y1="1389.00" x2="595.00" y2="1399.50" stroke="#3c3c3c" stroke-width="2.00" stroke-linecap="butt"/>
<text x="594.87" y="1439.60" font-size="29.00" text-anchor="middle" font-weight="normal" fill="#000" font-family="&quot;Liberation Sans&quot;, Arial, sans-serif">520</text>
<line x1="668.00" y1="1389.00" x2="668.00" y2="1399.50" stroke="#3c3c3c" stroke-width="2.00" stroke-linecap="butt"/>
<text x="667.68" y="1439.60" font-size="29.00" text-anchor="middle" font-weight="normal" fill="#000" font-family="&quot;Liberation Sans&quot;, Arial, sans-serif">540</text>
<line x1="740.00" y1="1389.00" x2="740.00" y2="1399.50" stroke="#3c3c3c" stroke-width="2.00" stroke-linecap="butt"/>
<text x="740.50" y="1439.60" font-size="29.00" text-anchor="middle" font-weight="normal" fill="#000" font-family="&quot;Liberation Sans&quot;, Arial, sans-serif">560</text>
<text x="142.20" y="963.00" font-size="29.00" text-anchor="end" font-weight="normal" fill="#000" font-family="&quot;Liberation Sans&quot;, Arial, sans-serif">0.02</text>
<text x="142.20" y="1025.00" font-size="29.00" text-anchor="end" font-weight="normal" fill="#000" font-family="&quot;Liberation Sans&quot;, Arial, sans-serif">0.01</text>
<text x="142.20" y="1087.00" font-size="29.00" text-anchor="end" font-weight="normal" fill="#000" font-family="&quot;Liberation Sans&quot;, Arial, sans-serif">0</text>
<text x="142.20" y="1149.00" font-size="29.00" text-anchor="end" font-weight="normal" fill="#000" font-family="&quot;Liberation Sans&quot;, Arial, sans-serif">-0.01</text>
<text x="142.20" y="1211.00" font-size="29.00" text-anchor="end" font-weight="normal" fill="#000" font-family="&quot;Liberation Sans&quot;, Arial, sans-serif">-0.02</text>
<text x="142.20" y="1273.00" font-size="29.00" text-anchor="end" font-weight="normal" fill="#000" font-family="&quot;Liberation Sans&quot;, Arial, sans-serif">-0.03</text>
<text x="5.00" y="1085.60" font-size="30.50" text-anchor="start" font-weight="normal" fill="#000" font-family="&quot;Liberation Sans&quot;, Arial, sans-serif">ΔA</text>
<text x="462.70" y="1507.30" font-size="29.00" text-anchor="middle" font-weight="normal" fill="#000" font-family="&quot;Liberation Sans&quot;, Arial, sans-serif">Wavelength (nm)</text>
<text x="184.8" y="979" font-size="28.5" font-weight="bold" font-family="&quot;Liberation Sans&quot;, Arial, sans-serif" stroke="#000" stroke-width="0.5">[Cu<tspan font-size="19.5" dy="-15">2+</tspan><tspan dy="15">]</tspan></text>
<line x1="446.90" y1="968.00" x2="374.80" y2="968.00" stroke="#1a1a1a" stroke-width="1.60" stroke-linecap="butt"/>
<path d="M362.90,968.00 L379.90,962.00 L374.80,968.00 L379.90,974.00 Z" fill="#1a1a1a"/>
<line x1="487.90" y1="1306.80" x2="559.50" y2="1306.80" stroke="#1a1a1a" stroke-width="1.60" stroke-linecap="butt"/>
<path d="M571.40,1306.80 L554.40,1300.80 L559.50,1306.80 L554.40,1312.80 Z" fill="#1a1a1a"/>
<line x1="615.50" y1="1113.80" x2="672.90" y2="1113.80" stroke="#a8a8a8" stroke-width="4.60" stroke-linecap="butt"/>
<text x="678.40" y="1123.80" font-size="23.50" text-anchor="start" font-weight="bold" fill="#a8a8a8" font-family="&quot;Liberation Sans&quot;, Arial, sans-serif">1</text>
<line x1="615.50" y1="1138.10" x2="672.90" y2="1138.10" stroke="#0a8a1a" stroke-width="4.60" stroke-linecap="butt"/>
<text x="678.40" y="1148.10" font-size="23.50" text-anchor="start" font-weight="bold" fill="#0a8a1a" font-family="&quot;Liberation Sans&quot;, Arial, sans-serif">2</text>
<line x1="615.50" y1="1162.40" x2="672.90" y2="1162.40" stroke="#000000" stroke-width="4.60" stroke-linecap="butt"/>
<text x="678.40" y="1172.40" font-size="23.50" text-anchor="start" font-weight="bold" fill="#000000" font-family="&quot;Liberation Sans&quot;, Arial, sans-serif">3</text>
<line x1="615.50" y1="1186.70" x2="672.90" y2="1186.70" stroke="#e050b8" stroke-width="4.60" stroke-linecap="butt"/>
<text x="678.40" y="1196.70" font-size="23.50" text-anchor="start" font-weight="bold" fill="#e050b8" font-family="&quot;Liberation Sans&quot;, Arial, sans-serif">5</text>
<line x1="615.50" y1="1211.00" x2="672.90" y2="1211.00" stroke="#0000d8" stroke-width="4.60" stroke-linecap="butt"/>
<text x="678.40" y="1221.00" font-size="23.50" text-anchor="start" font-weight="bold" fill="#0000d8" font-family="&quot;Liberation Sans&quot;, Arial, sans-serif">10</text>
<line x1="615.50" y1="1235.30" x2="672.90" y2="1235.30" stroke="#7dff1e" stroke-width="4.60" stroke-linecap="butt"/>
<text x="678.40" y="1245.30" font-size="23.50" text-anchor="start" font-weight="bold" fill="#7dff1e" font-family="&quot;Liberation Sans&quot;, Arial, sans-serif">15</text>
<line x1="615.50" y1="1259.60" x2="672.90" y2="1259.60" stroke="#e00000" stroke-width="4.60" stroke-linecap="butt"/>
<text x="678.40" y="1269.60" font-size="23.50" text-anchor="start" font-weight="bold" fill="#e00000" font-family="&quot;Liberation Sans&quot;, Arial, sans-serif">20</text>
<line x1="477.4" y1="1366.7" x2="534.8" y2="1366.7" stroke="#000" stroke-width="4.2" stroke-dasharray="4.6 2.2"/>
<text x="543.2" y="1378.9" font-size="20" font-family="&quot;Liberation Sans&quot;, Arial, sans-serif">1<tspan font-size="12" dy="-9">st</tspan><tspan dy="9" dx="-2.5"> der</tspan></text>
<line x1="607.50" y1="1366.70" x2="664.70" y2="1366.70" stroke="#000" stroke-width="4.20" stroke-linecap="butt"/>
<text x="670.2" y="1378.9" font-size="20" font-family="&quot;Liberation Sans&quot;, Arial, sans-serif">2<tspan font-size="13" dy="-9">nd</tspan><tspan dy="9"> der</tspan></text>
<g clip-path="url(#clipD)">
<path d="M1063.0,1189.8 1064.5,1189.8 1065.0,1189.4 1067.5,1189.5 1068.5,1189.0 1070.5,1189.0 1073.0,1188.3 1073.5,1188.6 1074.0,1188.1 1076.5,1188.2 1078.5,1187.2 1085.0,1187.1 1088.5,1185.9 1089.5,1186.2 1092.5,1184.9 1100.0,1184.0 1103.5,1182.6 1104.0,1182.8 1108.5,1181.6 1110.0,1181.7 1111.5,1181.1 1116.0,1180.1 1118.5,1180.4 1120.5,1180.1 1123.0,1180.7 1123.5,1180.5 1128.5,1182.0 1132.0,1182.7 1133.5,1182.6 1137.0,1181.6 1141.0,1178.8 1144.0,1177.6 1145.5,1178.7 1147.5,1180.7 1148.5,1182.3 1150.5,1184.0 1155.0,1183.1 1160.0,1179.3 1162.0,1178.5 1166.5,1175.4 1174.5,1174.3 1177.5,1173.4 1188.5,1172.9 1189.5,1172.5 1191.5,1172.8 1192.5,1173.3 1195.5,1173.3 1198.0,1174.2 1201.5,1174.6 1204.5,1176.7 1208.5,1178.9 1210.0,1179.3 1212.0,1180.8 1214.0,1181.1 1215.5,1182.2 1217.0,1182.5 1219.5,1184.6 1222.5,1185.1 1224.0,1186.6 1227.5,1188.6 1233.0,1190.6 1235.5,1192.0 1239.0,1193.0 1241.0,1194.3 1242.0,1194.1 1244.5,1195.0 1252.0,1193.6 1255.0,1192.1 1264.5,1185.7 1268.5,1183.8 1270.0,1182.6 1272.0,1181.9 1277.0,1178.3 1278.0,1178.1 1279.5,1177.1 1281.5,1175.2 1287.0,1172.2 1290.0,1169.9 1293.5,1169.0 1302.0,1164.5 1305.0,1164.6 1306.5,1165.0 1309.0,1164.7 1314.0,1166.5 1316.5,1168.3 1318.5,1168.7 1321.0,1170.7 1323.5,1171.9 1329.0,1176.0 1331.5,1177.4 1338.0,1184.7 1344.5,1194.6 1347.0,1197.2 1350.0,1201.4 1354.0,1205.3 1356.0,1206.2 1358.0,1207.8 1360.0,1208.5 1363.0,1208.0 1364.0,1208.3 1366.0,1207.3 1369.5,1204.8 1372.5,1203.9 1381.5,1197.0 1384.0,1195.9 1387.5,1193.4 1392.5,1191.3 1395.5,1189.1 1396.5,1189.3 1399.0,1187.4 1400.5,1187.3 1408.5,1183.3 1410.5,1182.9 1413.0,1181.4 1414.0,1181.4 1418.0,1179.6 1421.5,1178.9 1424.0,1178.0 1426.5,1177.9 1430.0,1176.5 1431.5,1176.8 1434.0,1176.3 1438.0,1176.4 1440.5,1175.2 1443.0,1175.5 1445.5,1174.6 1450.0,1174.6 1451.0,1174.1 1453.0,1173.9 1455.5,1174.0 1461.0,1172.9 1464.5,1173.3 1467.0,1173.0 1468.0,1173.5 1469.5,1173.2 1470.5,1172.5 1471.0,1172.8 1473.5,1172.2 1476.0,1173.3 1482.5,1172.7 1485.0,1172.9 1487.0,1172.5 1487.5,1172.9 1490.0,1172.2 1493.0,1172.8 1496.0,1172.3 1498.5,1173.3 1503.5,1172.6 1508.0,1173.2 1510.5,1172.6 1515.0,1173.1 1518.0,1173.0 1519.0,1173.4 1525.5,1172.6 1530.0,1173.5 1532.5,1172.5 1534.0,1172.4 1536.5,1173.0 1539.5,1172.6 1541.0,1173.1 1542.5,1172.8 1544.5,1173.4 1545.5,1172.8 1548.0,1173.4 1549.0,1172.9 1550.5,1172.8 1551.5,1173.3 1555.0,1172.5 1556.5,1172.7 1557.5,1173.4 1562.0,1173.0 1565.5,1173.3 1568.0,1172.9 1570.0,1173.4 1571.5,1172.4 1572.5,1172.3 1574.0,1173.0 1577.5,1172.5 1580.0,1173.1 1582.0,1172.9 1583.0,1173.5 1584.5,1173.5 1585.5,1173.2 1587.5,1173.5 1590.0,1172.8 1593.0,1173.2 1594.5,1172.7 1596.0,1173.2 1597.5,1172.7 1600.0,1173.3 1601.0,1173.1 1602.0,1173.4 1606.5,1172.7 1609.0,1173.4 1611.0,1173.0 1612.5,1173.3 1615.0,1172.7 1618.0,1173.4 1622.5,1173.2 1624.0,1173.8 1625.0,1173.7 1626.5,1172.9 1633.5,1173.8 1634.5,1173.8 1636.0,1173.0 1638.5,1173.7 1640.0,1173.1 1642.0,1173.5 1642.5,1174.0 1645.0,1174.1 1649.0,1173.9 1651.5,1173.3 1656.5,1174.0 1659.5,1173.3 1663.5,1174.2 1665.5,1174.2" fill="none" stroke="#a8a8a8" stroke-width="4.30" stroke-linejoin="round" stroke-linecap="round"/>
<path d="M1063.0,1175.1 1065.0,1174.4 1067.5,1174.2 1072.0,1172.5 1073.0,1172.9 1074.5,1172.7 1075.5,1172.0 1078.0,1171.9 1081.5,1170.6 1087.5,1170.3 1089.0,1169.4 1091.5,1169.7 1093.0,1169.4 1094.0,1169.6 1096.0,1168.9 1098.0,1168.9 1100.0,1168.3 1101.0,1168.7 1101.5,1168.4 1106.5,1168.7 1108.5,1168.4 1111.0,1167.4 1113.0,1167.9 1114.5,1167.6 1116.0,1168.4 1122.5,1167.8 1124.5,1168.5 1131.0,1169.3 1134.0,1170.5 1136.5,1170.5 1138.5,1171.3 1147.0,1171.4 1152.0,1169.2 1154.5,1168.5 1158.5,1166.0 1163.0,1163.9 1164.0,1163.8 1167.0,1161.9 1172.0,1161.1 1173.0,1161.2 1175.5,1160.1 1178.0,1160.4 1179.0,1159.9 1185.0,1159.6 1188.5,1158.8 1189.0,1159.0 1193.0,1157.6 1195.0,1158.1 1199.5,1155.8 1201.5,1156.4 1204.5,1155.4 1206.5,1156.1 1212.0,1162.6 1213.5,1163.8 1215.5,1164.7 1217.5,1166.5 1219.5,1166.7 1221.0,1167.3 1221.5,1167.1 1227.0,1169.4 1235.5,1174.5 1238.0,1177.0 1238.5,1176.9 1241.0,1178.5 1244.0,1179.6 1248.0,1180.1 1249.5,1179.7 1250.5,1179.0 1255.0,1178.2 1259.5,1175.8 1260.0,1175.8 1261.0,1174.8 1263.5,1174.2 1267.5,1171.2 1270.0,1170.3 1271.5,1168.8 1273.5,1167.8 1276.5,1164.7 1282.0,1160.7 1284.5,1158.2 1286.5,1157.4 1289.0,1155.8 1293.0,1155.2 1294.5,1153.9 1297.0,1153.5 1297.5,1153.0 1305.0,1152.1 1306.5,1152.6 1309.0,1152.1 1310.0,1152.6 1312.5,1152.6 1314.5,1153.3 1317.0,1153.4 1319.0,1154.4 1325.5,1160.5 1333.5,1170.6 1334.5,1171.1 1338.5,1175.6 1344.5,1183.2 1347.0,1187.1 1348.0,1187.6 1352.0,1192.1 1357.5,1195.7 1361.5,1196.5 1369.0,1194.4 1374.0,1191.7 1377.5,1190.8 1381.5,1187.8 1383.0,1187.6 1385.5,1186.0 1388.0,1186.0 1389.0,1185.2 1392.5,1183.8 1395.0,1183.6 1397.0,1182.2 1400.5,1181.8 1403.0,1180.3 1408.5,1179.3 1412.5,1177.8 1417.5,1177.3 1420.0,1175.6 1424.0,1175.9 1426.5,1174.8 1430.0,1175.2 1432.5,1173.9 1437.5,1174.2 1440.0,1173.8 1441.5,1174.1 1444.5,1172.8 1446.0,1173.3 1448.0,1173.2 1450.5,1172.6 1453.0,1173.2 1455.5,1172.3 1456.5,1172.5 1458.5,1171.9 1461.0,1172.2 1461.5,1171.8 1462.0,1172.0 1464.5,1171.7 1467.0,1172.3 1468.5,1172.1 1470.0,1171.4 1472.0,1171.3 1481.0,1171.9 1484.5,1171.6 1488.5,1172.2 1492.0,1171.4 1494.0,1172.1 1496.0,1171.8 1498.5,1172.4 1499.0,1172.0 1501.0,1171.9 1501.5,1172.2 1504.0,1172.2 1504.5,1172.6 1509.0,1172.4 1511.5,1172.9 1517.0,1172.5 1517.5,1172.9 1520.0,1172.3 1522.0,1173.0 1523.0,1172.7 1530.0,1172.5 1531.0,1172.6 1533.5,1173.7 1536.0,1173.0 1539.0,1172.9 1543.5,1172.9 1545.5,1173.5 1551.5,1172.9 1554.0,1173.6 1556.5,1172.6 1560.0,1173.5 1563.5,1173.4 1564.0,1173.1 1566.5,1173.7 1569.0,1173.2 1572.0,1173.7 1574.5,1173.5 1575.5,1174.1 1577.5,1173.3 1579.5,1174.0 1582.0,1173.5 1584.0,1173.5 1584.5,1173.9 1586.0,1173.5 1586.5,1173.9 1587.0,1173.6 1588.5,1173.9 1590.5,1173.5 1595.5,1174.2 1598.0,1173.6 1601.0,1174.4 1603.5,1173.5 1605.5,1173.5 1607.0,1174.0 1610.0,1174.0 1612.0,1173.5 1613.5,1174.0 1614.0,1173.7 1614.5,1174.0 1624.0,1174.0 1626.0,1174.7 1627.5,1174.6 1628.5,1173.9 1630.5,1173.8 1633.0,1174.3 1635.0,1173.7 1636.5,1174.1 1639.0,1173.8 1639.5,1174.1 1652.0,1173.8 1654.5,1174.2 1656.0,1173.9 1659.0,1174.2 1660.5,1173.7 1663.0,1174.5 1665.5,1174.0" fill="none" stroke="#000000" stroke-width="4.30" stroke-linejoin="round" stroke-linecap="round"/>
<path d="M1063.0,1175.3 1065.5,1174.5 1067.0,1173.6 1075.5,1170.0 1077.0,1169.8 1078.0,1170.3 1080.5,1169.0 1082.0,1169.4 1085.0,1168.7 1087.5,1169.4 1089.5,1169.2 1091.5,1169.9 1093.5,1169.3 1097.0,1170.6 1099.5,1170.5 1102.0,1171.6 1103.5,1171.5 1104.5,1172.0 1107.0,1171.6 1108.5,1172.3 1111.5,1172.4 1113.0,1172.1 1115.5,1173.0 1119.0,1173.1 1125.5,1172.1 1126.0,1172.4 1127.0,1171.8 1129.5,1171.9 1130.5,1171.0 1134.0,1170.3 1136.0,1170.4 1142.5,1169.0 1145.0,1169.7 1150.0,1168.9 1152.5,1169.9 1162.5,1170.4 1163.5,1170.2 1164.0,1170.6 1166.5,1170.0 1169.0,1170.6 1174.5,1170.3 1175.5,1170.7 1178.0,1170.6 1180.0,1171.0 1182.0,1170.7 1183.5,1170.1 1187.0,1170.2 1187.5,1170.5 1189.0,1170.1 1189.5,1170.7 1192.0,1170.1 1194.5,1170.1 1201.5,1170.7 1204.0,1169.9 1205.5,1169.9 1206.5,1170.3 1209.0,1169.8 1211.0,1170.0 1214.0,1168.5 1216.0,1168.0 1217.0,1168.2 1219.5,1167.5 1221.0,1167.6 1224.0,1166.4 1227.0,1165.8 1228.0,1165.2 1231.0,1165.5 1233.5,1164.8 1237.5,1164.8 1240.0,1163.7 1241.0,1163.9 1243.5,1163.3 1246.5,1164.1 1251.0,1163.0 1260.5,1163.0 1261.0,1162.6 1265.5,1163.1 1269.0,1164.3 1271.5,1164.6 1274.5,1165.5 1275.5,1166.2 1278.0,1166.8 1279.0,1167.6 1281.5,1167.6 1284.0,1169.2 1286.5,1169.5 1288.0,1170.3 1290.0,1170.4 1291.5,1171.2 1293.0,1171.3 1295.5,1172.2 1297.0,1172.1 1299.0,1173.5 1304.0,1174.5 1306.5,1176.1 1309.0,1176.2 1314.5,1177.6 1318.5,1177.8 1319.0,1177.4 1321.0,1177.5 1321.5,1177.8 1323.5,1177.3 1324.5,1176.3 1327.5,1176.6 1329.0,1175.6 1331.5,1174.8 1332.5,1173.9 1335.5,1173.4 1338.0,1171.3 1344.5,1169.1 1347.0,1167.3 1348.0,1167.3 1353.0,1165.1 1353.5,1165.3 1356.0,1164.4 1358.0,1164.6 1360.0,1163.6 1362.0,1163.7 1364.5,1162.3 1365.5,1162.6 1370.0,1161.6 1373.5,1161.3 1376.0,1160.0 1380.0,1159.2 1387.0,1158.9 1389.5,1158.2 1390.5,1158.4 1392.5,1157.7 1395.5,1157.9 1402.0,1157.2 1402.5,1156.9 1405.5,1157.0 1407.0,1156.5 1409.5,1157.0 1412.0,1156.1 1413.5,1156.5 1418.0,1155.9 1421.5,1156.3 1428.0,1155.5 1431.5,1155.8 1433.0,1156.4 1437.0,1156.6 1437.5,1157.0 1439.5,1157.6 1441.0,1157.1 1442.0,1157.3 1444.0,1158.2 1450.0,1159.5 1450.5,1159.2 1459.5,1161.9 1463.0,1161.8 1466.0,1162.2 1471.5,1163.7 1475.0,1163.2 1479.0,1164.5 1481.5,1164.1 1482.0,1164.5 1484.0,1164.6 1484.5,1164.3 1487.0,1165.2 1491.0,1165.4 1492.5,1165.9 1497.0,1166.4 1499.5,1166.2 1501.0,1166.8 1505.5,1167.1 1507.0,1167.8 1509.5,1167.6 1511.0,1168.0 1513.5,1167.9 1515.0,1168.1 1516.5,1168.9 1522.5,1168.8 1525.0,1169.8 1528.5,1169.5 1530.5,1170.2 1534.5,1170.4 1540.0,1171.5 1542.5,1171.3 1545.0,1172.4 1548.0,1172.0 1550.5,1172.4 1553.0,1172.3 1555.0,1172.9 1568.0,1173.5 1569.0,1174.3 1570.5,1174.4 1571.5,1173.8 1575.5,1174.5 1578.0,1174.0 1584.0,1174.8 1587.5,1174.5 1590.0,1175.2 1595.0,1175.0 1597.0,1175.6 1599.5,1175.2 1604.0,1176.0 1607.0,1175.4 1608.0,1175.9 1610.0,1176.3 1611.0,1176.0 1611.5,1176.4 1616.5,1176.3 1619.0,1176.6 1620.0,1176.1 1623.0,1177.0 1627.5,1176.2 1630.5,1177.5 1633.0,1176.7 1634.5,1177.1 1636.5,1176.6 1639.0,1177.2 1640.0,1176.9 1642.0,1177.5 1644.5,1177.2 1646.0,1177.6 1646.5,1177.3 1648.0,1177.8 1652.0,1177.3 1654.5,1177.7 1655.5,1177.1 1660.0,1178.2 1664.0,1177.4 1665.5,1177.5" fill="none" stroke="#0a8a1a" stroke-width="4.30" stroke-linejoin="round" stroke-linecap="round"/>
<path d="M1063.0,1176.7 1064.5,1177.1 1066.5,1178.2 1071.0,1178.3 1072.5,1179.3 1075.0,1178.9 1080.0,1179.8 1081.0,1179.5 1083.5,1180.0 1086.0,1179.7 1086.5,1180.0 1089.0,1179.6 1092.0,1180.4 1094.5,1179.7 1097.0,1180.1 1099.5,1179.2 1104.0,1178.5 1109.0,1176.1 1111.5,1175.8 1114.0,1174.3 1121.5,1171.8 1122.5,1172.1 1125.0,1171.4 1126.5,1171.9 1128.5,1170.8 1132.5,1170.4 1134.5,1169.5 1145.5,1169.3 1146.0,1168.9 1148.0,1168.5 1151.0,1168.9 1158.0,1167.7 1159.0,1168.0 1161.0,1167.8 1162.0,1168.4 1167.0,1169.3 1172.0,1171.6 1177.0,1172.9 1182.5,1175.3 1183.0,1175.2 1188.0,1177.7 1189.5,1178.1 1190.5,1177.7 1192.0,1178.0 1194.5,1177.7 1196.0,1178.1 1198.5,1178.0 1202.0,1178.9 1205.5,1179.3 1208.0,1178.0 1210.5,1178.1 1212.0,1177.1 1215.5,1175.8 1224.0,1168.8 1226.5,1167.7 1229.0,1165.3 1232.0,1164.0 1241.5,1157.0 1243.5,1156.4 1246.0,1154.4 1249.0,1154.2 1252.5,1153.2 1257.0,1154.2 1259.5,1154.1 1263.0,1155.4 1265.5,1155.1 1270.0,1157.9 1271.0,1157.6 1272.5,1158.0 1276.0,1160.0 1279.0,1160.7 1281.0,1162.4 1283.5,1163.7 1287.5,1167.2 1295.5,1175.6 1297.5,1176.6 1304.5,1182.0 1306.5,1182.7 1308.0,1184.0 1311.5,1185.8 1314.0,1187.7 1317.5,1188.8 1320.0,1188.7 1324.0,1187.4 1327.0,1185.8 1337.0,1176.9 1342.0,1171.2 1347.5,1162.0 1351.0,1155.0 1354.5,1149.6 1357.5,1146.3 1360.0,1145.2 1365.0,1140.9 1366.5,1140.0 1368.0,1139.7 1369.5,1138.4 1372.0,1137.4 1374.5,1135.7 1377.0,1135.6 1383.5,1133.1 1388.5,1133.3 1390.5,1132.3 1393.5,1131.8 1395.5,1132.1 1396.5,1131.6 1398.0,1131.4 1399.5,1131.8 1400.0,1131.4 1401.5,1131.3 1402.5,1131.7 1406.5,1130.8 1409.5,1131.6 1411.5,1131.4 1414.0,1132.1 1420.5,1131.5 1425.5,1132.1 1427.5,1132.9 1429.5,1133.2 1433.0,1134.6 1435.5,1136.1 1436.5,1136.3 1438.0,1137.4 1440.5,1138.2 1443.0,1140.6 1448.0,1142.5 1450.5,1142.8 1453.0,1144.5 1454.5,1144.9 1456.5,1146.2 1458.5,1146.5 1460.5,1147.6 1463.0,1147.9 1466.5,1149.6 1468.5,1149.8 1471.0,1150.9 1476.5,1152.3 1481.5,1154.4 1484.5,1154.7 1490.0,1156.8 1491.5,1156.9 1494.0,1158.4 1495.0,1158.7 1496.5,1158.1 1499.0,1159.5 1502.5,1160.0 1509.0,1162.5 1515.0,1163.4 1520.5,1165.3 1522.5,1165.0 1525.0,1165.9 1526.5,1165.7 1533.0,1167.3 1534.0,1167.0 1534.5,1167.4 1537.0,1167.2 1539.0,1168.4 1546.5,1169.0 1551.5,1170.3 1556.5,1170.7 1559.0,1170.5 1560.0,1170.9 1562.5,1170.5 1569.0,1171.6 1573.0,1171.4 1574.0,1172.0 1575.5,1172.1 1578.0,1171.3 1581.0,1172.0 1582.0,1171.8 1583.0,1172.2 1585.5,1172.0 1588.0,1172.5 1596.5,1172.2 1597.5,1172.6 1600.5,1172.5 1604.5,1173.2 1610.5,1172.7 1613.5,1173.3 1616.0,1172.8 1619.0,1173.0 1621.0,1173.7 1625.5,1173.5 1629.5,1174.0 1631.5,1173.4 1634.5,1173.2 1636.5,1173.6 1639.0,1173.4 1641.0,1173.9 1642.5,1173.4 1644.5,1174.2 1647.0,1173.6 1650.5,1174.2 1651.5,1173.7 1654.0,1174.1 1654.5,1173.9 1657.0,1174.7 1659.0,1174.0 1664.0,1174.2 1665.5,1174.0" fill="none" stroke="#e050b8" stroke-width="4.30" stroke-linejoin="round" stroke-linecap="round"/>
<path d="M1063.0,1177.7 1064.5,1178.4 1067.0,1180.6 1073.0,1182.6 1075.0,1183.8 1077.0,1183.9 1080.5,1185.2 1086.0,1185.5 1087.0,1186.1 1088.5,1186.3 1089.5,1185.9 1092.5,1186.5 1095.0,1186.0 1097.5,1186.3 1100.0,1185.4 1101.5,1185.4 1104.5,1183.4 1108.5,1181.9 1109.5,1181.1 1112.0,1180.0 1116.0,1176.8 1119.0,1175.4 1121.5,1173.1 1124.0,1171.8 1130.5,1165.1 1133.0,1163.2 1135.5,1160.4 1139.0,1157.4 1142.5,1155.4 1143.5,1155.5 1146.5,1154.3 1147.5,1154.7 1150.0,1154.4 1153.0,1155.7 1154.0,1155.5 1155.5,1155.9 1157.5,1157.4 1159.5,1157.4 1161.0,1158.0 1164.0,1160.1 1166.5,1161.4 1167.5,1161.5 1169.0,1162.6 1170.0,1163.9 1173.5,1166.6 1177.5,1171.0 1179.5,1172.0 1182.5,1175.1 1190.0,1185.8 1192.0,1187.4 1194.5,1190.3 1199.0,1191.4 1201.5,1190.5 1203.0,1190.5 1213.0,1186.2 1217.0,1182.4 1221.0,1174.6 1236.5,1136.9 1239.5,1131.3 1243.0,1126.1 1248.0,1120.8 1252.0,1118.2 1255.5,1117.8 1260.0,1120.5 1263.0,1123.5 1271.5,1135.8 1277.5,1151.0 1286.0,1178.0 1290.5,1188.9 1300.0,1207.7 1304.5,1214.2 1308.5,1218.3 1316.0,1223.5 1319.0,1224.1 1320.0,1224.0 1322.0,1221.8 1326.0,1215.1 1329.5,1206.2 1333.0,1191.8 1338.0,1167.4 1343.0,1148.6 1349.0,1130.4 1367.0,1082.8 1371.0,1074.7 1380.5,1064.9 1386.0,1061.0 1389.0,1059.6 1393.5,1058.1 1398.5,1058.2 1401.0,1058.9 1402.5,1058.2 1407.0,1058.6 1409.5,1058.1 1412.0,1058.7 1413.5,1058.6 1415.5,1059.7 1418.5,1060.5 1421.0,1062.8 1426.5,1066.6 1431.5,1071.3 1435.0,1073.7 1440.5,1079.5 1443.5,1082.0 1446.0,1085.5 1447.5,1086.3 1450.0,1089.7 1455.5,1094.6 1458.0,1097.7 1460.0,1099.1 1467.5,1107.7 1473.0,1112.8 1477.5,1118.3 1480.0,1119.9 1484.0,1124.0 1491.5,1129.9 1499.5,1137.2 1500.5,1137.5 1506.5,1142.9 1512.5,1146.4 1513.5,1147.4 1515.0,1148.1 1516.0,1148.0 1518.5,1150.2 1524.5,1154.1 1530.0,1156.4 1531.5,1157.6 1536.0,1159.2 1537.0,1160.0 1539.5,1160.6 1541.5,1162.2 1542.5,1162.2 1545.5,1163.9 1546.5,1163.9 1549.0,1165.2 1554.0,1166.2 1557.5,1167.5 1562.5,1168.3 1567.0,1170.1 1567.5,1169.7 1568.0,1170.1 1569.5,1169.8 1572.0,1170.9 1574.5,1170.5 1576.5,1171.4 1578.0,1171.4 1582.5,1172.9 1586.0,1173.2 1588.0,1174.2 1589.0,1174.2 1590.5,1173.7 1594.0,1174.1 1596.0,1174.0 1596.5,1173.6 1598.5,1173.8 1601.0,1174.7 1603.0,1174.3 1605.0,1174.7 1607.5,1174.0 1610.5,1174.7 1612.0,1174.3 1614.5,1174.7 1619.5,1174.2 1621.5,1174.9 1624.0,1174.3 1625.5,1174.8 1629.5,1175.0 1633.5,1174.4 1635.0,1175.2 1635.5,1175.0 1636.5,1175.5 1638.0,1175.6 1640.0,1174.8 1642.0,1175.4 1650.5,1175.2 1652.5,1175.8 1655.0,1175.1 1659.5,1175.7 1661.5,1175.3 1665.5,1175.4" fill="none" stroke="#0000d8" stroke-width="4.30" stroke-linejoin="round" stroke-linecap="round"/>
<path d="M1063.0,1175.1 1064.0,1175.3 1066.5,1177.1 1068.0,1177.1 1073.5,1179.0 1077.0,1179.1 1082.5,1180.3 1084.0,1180.1 1085.0,1179.5 1087.0,1179.5 1087.5,1180.0 1089.0,1179.7 1092.0,1180.5 1093.5,1180.0 1096.0,1180.8 1097.5,1180.5 1100.0,1179.0 1103.0,1179.0 1105.0,1178.5 1107.5,1176.9 1109.5,1176.6 1113.0,1174.8 1115.5,1172.5 1118.0,1171.3 1121.5,1168.5 1123.0,1166.6 1130.5,1154.2 1132.0,1152.9 1138.0,1145.5 1144.5,1140.9 1147.0,1141.7 1151.0,1141.1 1154.0,1143.2 1156.5,1142.7 1159.0,1144.0 1162.0,1146.0 1165.5,1149.4 1171.0,1157.5 1178.0,1166.5 1181.0,1172.8 1186.0,1181.5 1189.5,1185.6 1191.5,1187.0 1197.0,1188.5 1199.0,1188.3 1200.5,1188.8 1202.5,1188.7 1205.0,1189.1 1209.0,1187.9 1209.5,1187.3 1212.5,1186.5 1214.5,1184.8 1216.5,1182.3 1217.5,1180.0 1221.0,1169.5 1224.5,1156.5 1229.5,1141.2 1237.5,1119.0 1240.5,1112.5 1246.5,1102.7 1250.0,1097.9 1251.5,1096.5 1256.0,1094.9 1257.0,1094.9 1258.5,1095.4 1260.5,1097.1 1263.5,1100.9 1268.0,1107.5 1273.0,1116.8 1277.0,1128.6 1289.0,1170.8 1302.0,1210.3 1305.5,1219.7 1314.5,1241.6 1316.5,1245.3 1318.0,1247.0 1318.5,1247.2 1320.0,1246.6 1322.0,1245.3 1323.5,1243.2 1328.5,1234.1 1333.0,1222.1 1334.5,1217.0 1341.0,1192.0 1344.5,1176.1 1355.0,1120.6 1360.5,1095.7 1369.5,1058.9 1373.0,1046.2 1375.5,1038.7 1381.5,1024.3 1386.5,1014.4 1391.0,1007.6 1393.5,1005.3 1398.5,1003.0 1401.0,1001.2 1403.5,1000.9 1406.0,999.8 1407.0,1000.1 1409.5,998.9 1411.0,998.7 1413.0,999.0 1414.0,999.6 1415.0,999.4 1415.5,999.9 1418.0,1000.8 1425.5,1006.7 1433.0,1013.9 1439.0,1022.9 1443.5,1030.8 1453.5,1045.9 1456.5,1049.4 1459.0,1053.6 1464.0,1059.8 1466.5,1064.1 1469.0,1066.7 1471.0,1070.1 1477.0,1077.9 1485.5,1091.3 1490.0,1097.6 1492.0,1099.6 1495.5,1105.3 1504.5,1115.6 1507.5,1119.7 1510.0,1121.0 1512.5,1124.2 1514.5,1125.6 1517.0,1128.6 1519.0,1129.9 1520.0,1131.1 1524.0,1134.0 1526.5,1136.6 1528.0,1137.0 1530.0,1138.8 1532.0,1139.7 1534.5,1142.3 1537.5,1143.6 1545.0,1148.7 1550.0,1150.7 1555.5,1154.1 1558.0,1154.4 1560.5,1155.6 1561.5,1156.5 1563.0,1157.1 1564.0,1156.8 1567.0,1158.5 1569.5,1158.6 1572.0,1160.1 1574.0,1160.5 1576.5,1161.7 1577.5,1161.6 1580.0,1162.6 1582.0,1162.5 1583.0,1163.0 1585.5,1163.2 1589.0,1164.5 1591.5,1164.2 1594.5,1165.2 1603.0,1166.5 1605.5,1166.2 1609.5,1167.2 1612.5,1166.7 1619.0,1168.3 1624.5,1168.3 1626.5,1168.7 1627.5,1169.4 1631.0,1168.6 1637.0,1169.6 1638.5,1169.3 1643.0,1169.5 1645.0,1170.2 1651.5,1169.9 1657.5,1170.6 1658.5,1169.9 1661.5,1170.3 1663.5,1169.9 1665.5,1170.5" fill="none" stroke="#7dff1e" stroke-width="4.30" stroke-linejoin="round" stroke-linecap="round"/>
<path d="M1063.0,1182.8 1069.0,1182.4 1071.5,1183.3 1073.0,1183.3 1073.5,1183.8 1075.0,1183.9 1076.5,1183.5 1079.5,1185.0 1080.5,1184.7 1081.5,1185.1 1087.0,1190.6 1090.0,1194.5 1093.0,1197.0 1094.0,1197.3 1096.5,1196.7 1099.5,1197.4 1102.5,1195.9 1105.5,1195.5 1107.5,1194.7 1110.5,1192.6 1116.0,1187.0 1118.5,1183.2 1121.5,1179.7 1124.5,1173.9 1127.0,1170.6 1130.0,1165.0 1134.0,1159.5 1138.5,1151.9 1142.0,1148.0 1144.0,1146.6 1147.0,1146.0 1150.0,1146.9 1151.0,1146.7 1153.5,1148.5 1154.5,1148.8 1159.5,1151.7 1167.5,1162.8 1178.0,1182.6 1183.5,1194.4 1186.5,1199.4 1192.5,1210.9 1197.0,1218.2 1200.5,1221.2 1203.5,1221.9 1209.0,1220.3 1211.5,1218.8 1212.5,1218.6 1213.5,1217.6 1214.5,1215.7 1216.5,1211.0 1218.5,1204.8 1227.5,1172.0 1237.5,1130.4 1241.0,1118.9 1247.5,1100.9 1253.0,1090.3 1255.0,1088.9 1256.5,1088.6 1258.0,1089.0 1263.5,1092.8 1265.5,1095.0 1267.5,1098.3 1270.0,1104.0 1274.0,1118.4 1286.5,1172.9 1294.5,1216.1 1303.5,1271.8 1309.0,1299.9 1311.0,1307.7 1312.5,1311.4 1316.0,1316.4 1317.5,1317.7 1319.0,1318.3 1320.5,1316.9 1323.5,1311.0 1328.0,1298.8 1330.0,1290.6 1333.5,1272.4 1352.5,1148.0 1362.0,1075.4 1367.0,1047.9 1377.0,1002.4 1380.0,990.5 1384.5,975.8 1386.5,969.7 1390.5,959.8 1393.5,954.9 1395.5,952.7 1398.0,951.0 1400.5,948.7 1404.0,946.5 1404.5,946.7 1408.5,945.6 1410.5,946.4 1413.5,946.7 1417.0,950.3 1419.5,951.8 1422.5,954.9 1423.5,955.3 1428.5,960.8 1436.0,971.7 1439.5,977.8 1442.0,981.2 1445.5,987.6 1457.0,1010.3 1472.0,1045.8 1489.0,1080.2 1492.0,1084.7 1499.5,1097.9 1502.5,1101.8 1508.0,1110.3 1511.5,1114.2 1514.0,1118.1 1520.5,1125.9 1525.0,1130.2 1527.5,1133.6 1530.0,1135.8 1531.5,1137.8 1541.5,1145.7 1542.5,1146.0 1545.0,1148.4 1547.0,1148.8 1549.5,1150.7 1554.5,1152.7 1556.5,1154.4 1562.5,1156.5 1565.5,1158.3 1567.0,1158.5 1570.5,1160.2 1573.0,1160.6 1575.5,1162.4 1577.0,1162.2 1579.5,1163.5 1580.5,1163.4 1584.0,1165.3 1589.0,1165.8 1591.0,1167.1 1592.5,1167.1 1594.5,1168.0 1596.0,1167.7 1598.0,1168.6 1600.5,1168.0 1603.0,1169.2 1605.5,1169.1 1610.0,1170.8 1614.5,1170.8 1617.5,1171.8 1619.5,1171.6 1623.5,1172.1 1625.5,1171.7 1627.5,1172.3 1630.0,1172.3 1633.0,1173.3 1634.5,1173.4 1639.5,1172.9 1643.5,1173.5 1648.0,1173.2 1652.5,1173.9 1657.5,1173.9 1659.0,1174.4 1665.5,1173.9" fill="none" stroke="#e00000" stroke-width="4.30" stroke-linejoin="round" stroke-linecap="round"/>
<path d="M1063.0,1348.0 1067.0,1348.0 1072.0,1348.9 1073.0,1348.7 1076.0,1349.5 1084.0,1350.7 1085.5,1351.3 1090.0,1352.2 1091.5,1353.1 1097.0,1354.2 1098.5,1355.0 1101.0,1355.3 1104.0,1356.4 1112.5,1356.3 1115.0,1355.9 1115.5,1356.2 1119.5,1354.9 1122.5,1354.8 1125.5,1353.4 1131.0,1352.3 1142.5,1344.1 1147.5,1341.4 1151.5,1340.3 1156.0,1340.5 1164.5,1342.9 1166.5,1344.2 1169.0,1344.7 1173.0,1346.7 1181.5,1354.2 1189.5,1363.2 1197.0,1368.8 1201.0,1369.9 1205.5,1369.7 1208.0,1369.2 1214.5,1369.2 1216.0,1368.6 1218.5,1368.2 1220.0,1367.1 1222.0,1364.8 1232.0,1351.6 1240.5,1338.2 1243.0,1334.9 1247.5,1332.3 1252.0,1331.3 1254.5,1331.2 1256.5,1330.6 1259.5,1330.6 1265.5,1333.1 1268.5,1335.1 1272.0,1338.5 1276.5,1342.1 1279.0,1343.5 1288.0,1350.4 1291.0,1352.2 1297.5,1357.7 1303.0,1363.4 1308.5,1371.4 1313.0,1379.5 1317.5,1385.1 1320.0,1387.0 1323.0,1387.8 1329.5,1386.4 1331.5,1385.5 1333.0,1384.3 1336.5,1378.2 1345.0,1354.4 1349.5,1343.6 1351.5,1340.6 1354.0,1338.7 1358.0,1334.6 1365.5,1330.8 1368.0,1330.9 1371.5,1332.0 1372.5,1331.9 1378.5,1334.8 1384.5,1338.4 1391.5,1341.3 1394.0,1343.0 1400.5,1345.3 1401.5,1345.2 1404.0,1346.4 1406.5,1346.3 1408.5,1347.1 1410.0,1347.1 1411.5,1347.8 1414.0,1347.7 1416.0,1348.4 1422.0,1349.0 1425.0,1349.7 1434.5,1350.2 1440.0,1350.9 1441.0,1350.7 1443.0,1351.2 1445.5,1351.0 1448.5,1351.4 1451.0,1351.1 1453.5,1351.4 1457.0,1351.0 1460.0,1351.6 1462.5,1351.2 1469.0,1351.8 1470.5,1351.0 1474.0,1351.0 1476.5,1351.6 1478.0,1351.1 1480.5,1351.3 1482.0,1350.9 1484.5,1351.6 1489.5,1351.1 1493.5,1351.5 1495.5,1351.2 1498.0,1351.6 1501.0,1351.2 1504.5,1351.5 1507.5,1351.1 1511.5,1351.2 1514.0,1350.7 1521.5,1351.4 1526.0,1350.9 1533.0,1351.4 1537.5,1351.1 1539.0,1351.5 1545.0,1351.0 1547.5,1351.6 1549.5,1351.2 1554.0,1351.8 1557.0,1351.1 1565.0,1351.5 1569.5,1350.8 1571.5,1351.4 1573.0,1351.0 1575.5,1351.3 1578.5,1351.1 1580.5,1351.4 1582.5,1351.1 1584.5,1351.5 1587.0,1350.8 1593.0,1351.4 1605.0,1351.1 1607.5,1351.7 1609.5,1351.3 1613.5,1351.5 1618.5,1351.0 1621.5,1351.2 1623.5,1350.7 1627.0,1351.4 1631.5,1351.4 1632.0,1351.1 1635.0,1350.9 1639.0,1351.6 1642.5,1351.0 1649.5,1351.0 1654.0,1351.6 1658.0,1351.1 1662.5,1351.5 1665.5,1351.2" fill="none" stroke="#000000" stroke-width="4.20" stroke-linejoin="round" stroke-linecap="round"/>
<path d="M1063.0,1345.2 1069.5,1343.5 1076.0,1342.4 1083.5,1341.7 1090.5,1341.7 1093.5,1342.1 1097.0,1343.0 1111.0,1348.3 1116.5,1349.8 1120.5,1350.2 1136.5,1350.1 1139.0,1349.4 1142.0,1347.7 1150.5,1340.9 1153.5,1338.9 1163.0,1334.4 1168.0,1332.4 1172.5,1331.1 1176.5,1330.6 1180.0,1330.8 1184.0,1331.8 1188.5,1333.6 1197.0,1338.1 1200.0,1340.1 1205.0,1344.8 1217.5,1358.7 1224.5,1367.3 1227.0,1369.3 1228.0,1369.7 1229.5,1369.8 1232.5,1369.1 1235.5,1367.7 1245.5,1361.0 1250.5,1356.3 1262.5,1343.1 1275.5,1332.2 1278.5,1330.5 1281.0,1329.6 1283.5,1329.4 1287.0,1329.8 1293.0,1331.6 1300.5,1334.9 1303.5,1337.0 1306.5,1340.0 1311.5,1346.4 1317.5,1355.5 1320.5,1361.5 1327.5,1377.2 1331.0,1383.2 1337.0,1390.9 1340.5,1394.7 1342.5,1396.4 1344.0,1397.3 1345.5,1397.9 1347.0,1398.1 1349.0,1397.8 1351.0,1396.9 1353.5,1395.1 1356.0,1392.8 1364.5,1384.4 1374.0,1372.4 1378.0,1368.4 1383.5,1364.5 1389.0,1361.3 1394.0,1358.9 1400.0,1356.7 1411.0,1353.3 1415.5,1352.3 1420.0,1351.8 1445.5,1351.3 1479.5,1351.2" fill="none" stroke="#000" stroke-width="4.2" stroke-dasharray="3.2 2.6"/>
</g>
<rect x="1063.0" y="923.0" width="604.0" height="486.0" stroke="#3c3c3c" stroke-width="2" fill="none"/>
<line x1="1051.50" y1="971.00" x2="1063.00" y2="971.00" stroke="#3c3c3c" stroke-width="2.00" stroke-linecap="butt"/>
<line x1="1051.50" y1="1038.00" x2="1063.00" y2="1038.00" stroke="#3c3c3c" stroke-width="2.00" stroke-linecap="butt"/>
<line x1="1051.50" y1="1106.00" x2="1063.00" y2="1106.00" stroke="#3c3c3c" stroke-width="2.00" stroke-linecap="butt"/>
<line x1="1051.50" y1="1173.00" x2="1063.00" y2="1173.00" stroke="#3c3c3c" stroke-width="2.00" stroke-linecap="butt"/>
<line x1="1051.50" y1="1240.00" x2="1063.00" y2="1240.00" stroke="#3c3c3c" stroke-width="2.00" stroke-linecap="butt"/>
<line x1="1051.50" y1="1307.00" x2="1063.00" y2="1307.00" stroke="#3c3c3c" stroke-width="2.00" stroke-linecap="butt"/>
<line x1="1051.50" y1="1375.00" x2="1063.00" y2="1375.00" stroke="#3c3c3c" stroke-width="2.00" stroke-linecap="butt"/>
<line x1="1063.00" y1="1409.00" x2="1063.00" y2="1420.00" stroke="#3c3c3c" stroke-width="2.00" stroke-linecap="butt"/>
<text x="1063.00" y="1461.90" font-size="30.50" text-anchor="middle" font-weight="normal" fill="#000" font-family="&quot;Liberation Sans&quot;, Arial, sans-serif">400</text>
<line x1="1138.00" y1="1409.00" x2="1138.00" y2="1420.00" stroke="#3c3c3c" stroke-width="2.00" stroke-linecap="butt"/>
<text x="1138.44" y="1461.90" font-size="30.50" text-anchor="middle" font-weight="normal" fill="#000" font-family="&quot;Liberation Sans&quot;, Arial, sans-serif">420</text>
<line x1="1214.00" y1="1409.00" x2="1214.00" y2="1420.00" stroke="#3c3c3c" stroke-width="2.00" stroke-linecap="butt"/>
<text x="1213.88" y="1461.90" font-size="30.50" text-anchor="middle" font-weight="normal" fill="#000" font-family="&quot;Liberation Sans&quot;, Arial, sans-serif">440</text>
<line x1="1289.00" y1="1409.00" x2="1289.00" y2="1420.00" stroke="#3c3c3c" stroke-width="2.00" stroke-linecap="butt"/>
<text x="1289.32" y="1461.90" font-size="30.50" text-anchor="middle" font-weight="normal" fill="#000" font-family="&quot;Liberation Sans&quot;, Arial, sans-serif">460</text>
<line x1="1365.00" y1="1409.00" x2="1365.00" y2="1420.00" stroke="#3c3c3c" stroke-width="2.00" stroke-linecap="butt"/>
<text x="1364.76" y="1461.90" font-size="30.50" text-anchor="middle" font-weight="normal" fill="#000" font-family="&quot;Liberation Sans&quot;, Arial, sans-serif">480</text>
<line x1="1440.00" y1="1409.00" x2="1440.00" y2="1420.00" stroke="#3c3c3c" stroke-width="2.00" stroke-linecap="butt"/>
<text x="1440.20" y="1461.90" font-size="30.50" text-anchor="middle" font-weight="normal" fill="#000" font-family="&quot;Liberation Sans&quot;, Arial, sans-serif">500</text>
<line x1="1516.00" y1="1409.00" x2="1516.00" y2="1420.00" stroke="#3c3c3c" stroke-width="2.00" stroke-linecap="butt"/>
<text x="1515.64" y="1461.90" font-size="30.50" text-anchor="middle" font-weight="normal" fill="#000" font-family="&quot;Liberation Sans&quot;, Arial, sans-serif">520</text>
<line x1="1591.00" y1="1409.00" x2="1591.00" y2="1420.00" stroke="#3c3c3c" stroke-width="2.00" stroke-linecap="butt"/>
<text x="1591.08" y="1461.90" font-size="30.50" text-anchor="middle" font-weight="normal" fill="#000" font-family="&quot;Liberation Sans&quot;, Arial, sans-serif">540</text>
<line x1="1667.00" y1="1409.00" x2="1667.00" y2="1420.00" stroke="#3c3c3c" stroke-width="2.00" stroke-linecap="butt"/>
<text x="1666.52" y="1461.90" font-size="30.50" text-anchor="middle" font-weight="normal" fill="#000" font-family="&quot;Liberation Sans&quot;, Arial, sans-serif">560</text>
<text x="1045.60" y="977.70" font-size="30.50" text-anchor="end" font-weight="normal" fill="#000" font-family="&quot;Liberation Sans&quot;, Arial, sans-serif">0.03</text>
<text x="1045.60" y="1045.00" font-size="30.50" text-anchor="end" font-weight="normal" fill="#000" font-family="&quot;Liberation Sans&quot;, Arial, sans-serif">0.02</text>
<text x="1045.60" y="1112.30" font-size="30.50" text-anchor="end" font-weight="normal" fill="#000" font-family="&quot;Liberation Sans&quot;, Arial, sans-serif">0.01</text>
<text x="1045.60" y="1179.60" font-size="30.50" text-anchor="end" font-weight="normal" fill="#000" font-family="&quot;Liberation Sans&quot;, Arial, sans-serif">0</text>
<text x="1045.60" y="1246.90" font-size="30.50" text-anchor="end" font-weight="normal" fill="#000" font-family="&quot;Liberation Sans&quot;, Arial, sans-serif">-0.01</text>
<text x="1045.60" y="1314.20" font-size="30.50" text-anchor="end" font-weight="normal" fill="#000" font-family="&quot;Liberation Sans&quot;, Arial, sans-serif">-0.02</text>
<text x="914.50" y="1152.20" font-size="31.50" text-anchor="start" font-weight="normal" fill="#000" font-family="&quot;Liberation Sans&quot;, Arial, sans-serif">ΔA</text>
<text x="1387.80" y="1529.40" font-size="30.00" text-anchor="middle" font-weight="normal" fill="#000" font-family="&quot;Liberation Sans&quot;, Arial, sans-serif">Wavelength (nm)</text>
<text x="1104.0" y="995.5" font-size="29.5" font-weight="bold" font-family="&quot;Liberation Sans&quot;, Arial, sans-serif" stroke="#000" stroke-width="0.5">[Pb<tspan font-size="20" dy="-15">2+</tspan><tspan dy="15">]</tspan></text>
<line x1="1379.90" y1="957.70" x2="1304.10" y2="957.70" stroke="#1a1a1a" stroke-width="1.60" stroke-linecap="butt"/>
<path d="M1292.20,957.70 L1309.20,951.70 L1304.10,957.70 L1309.20,963.70 Z" fill="#1a1a1a"/>
<line x1="1404.90" y1="1321.60" x2="1479.30" y2="1321.60" stroke="#1a1a1a" stroke-width="1.60" stroke-linecap="butt"/>
<path d="M1491.20,1321.60 L1474.20,1315.60 L1479.30,1321.60 L1474.20,1327.60 Z" fill="#1a1a1a"/>
<line x1="1537.70" y1="949.90" x2="1597.20" y2="949.90" stroke="#a8a8a8" stroke-width="4.60" stroke-linecap="butt"/>
<text x="1603.40" y="960.50" font-size="24.50" text-anchor="start" font-weight="bold" fill="#a8a8a8" font-family="&quot;Liberation Sans&quot;, Arial, sans-serif">0.05</text>
<line x1="1537.70" y1="976.10" x2="1597.20" y2="976.10" stroke="#000000" stroke-width="4.60" stroke-linecap="butt"/>
<text x="1603.40" y="986.70" font-size="24.50" text-anchor="start" font-weight="bold" fill="#000000" font-family="&quot;Liberation Sans&quot;, Arial, sans-serif">1</text>
<line x1="1537.70" y1="1002.30" x2="1597.20" y2="1002.30" stroke="#0a8a1a" stroke-width="4.60" stroke-linecap="butt"/>
<text x="1603.40" y="1012.90" font-size="24.50" text-anchor="start" font-weight="bold" fill="#0a8a1a" font-family="&quot;Liberation Sans&quot;, Arial, sans-serif">2</text>
<line x1="1537.70" y1="1028.50" x2="1597.20" y2="1028.50" stroke="#e050b8" stroke-width="4.60" stroke-linecap="butt"/>
<text x="1603.40" y="1039.10" font-size="24.50" text-anchor="start" font-weight="bold" fill="#e050b8" font-family="&quot;Liberation Sans&quot;, Arial, sans-serif">5</text>
<line x1="1537.70" y1="1054.70" x2="1597.20" y2="1054.70" stroke="#0000d8" stroke-width="4.60" stroke-linecap="butt"/>
<text x="1603.40" y="1065.30" font-size="24.50" text-anchor="start" font-weight="bold" fill="#0000d8" font-family="&quot;Liberation Sans&quot;, Arial, sans-serif">10</text>
<line x1="1537.70" y1="1080.90" x2="1597.20" y2="1080.90" stroke="#7dff1e" stroke-width="4.60" stroke-linecap="butt"/>
<text x="1603.40" y="1091.50" font-size="24.50" text-anchor="start" font-weight="bold" fill="#7dff1e" font-family="&quot;Liberation Sans&quot;, Arial, sans-serif">15</text>
<line x1="1537.70" y1="1107.10" x2="1597.20" y2="1107.10" stroke="#e00000" stroke-width="4.60" stroke-linecap="butt"/>
<text x="1603.40" y="1117.70" font-size="24.50" text-anchor="start" font-weight="bold" fill="#e00000" font-family="&quot;Liberation Sans&quot;, Arial, sans-serif">20</text>
<line x1="1396.4" y1="1381.3" x2="1456.4" y2="1381.3" stroke="#000" stroke-width="4.2" stroke-dasharray="4.6 2.2"/>
<text x="1463.4" y="1394.2" font-size="21" font-family="&quot;Liberation Sans&quot;, Arial, sans-serif">1<tspan font-size="12.5" dy="-9.5" dx="-0.5">st</tspan><tspan dy="9.5" dx="-3"> der</tspan></text>
<line x1="1533.70" y1="1381.30" x2="1592.10" y2="1381.30" stroke="#000" stroke-width="4.20" stroke-linecap="butt"/>
<text x="1598" y="1394.2" font-size="21" font-family="&quot;Liberation Sans&quot;, Arial, sans-serif">2<tspan font-size="14" dy="-9.5">nd</tspan><tspan dy="9.5"> der</tspan></text>
<text x="404.4" y="804.0" font-size="39.5" text-anchor="middle" font-family="&quot;Liberation Serif&quot;, &quot;Times New Roman&quot;, serif">(<tspan font-weight="bold">a</tspan>)</text>
<text x="1339.2" y="803.8" font-size="39.5" text-anchor="middle" font-family="&quot;Liberation Serif&quot;, &quot;Times New Roman&quot;, serif">(<tspan font-weight="bold">b</tspan>)</text>
<text x="405.2" y="1616.6" font-size="39.5" text-anchor="middle" font-family="&quot;Liberation Serif&quot;, &quot;Times New Roman&quot;, serif">(<tspan font-weight="bold">c</tspan>)</text>
<text x="1339.2" y="1616.2" font-size="39.5" text-anchor="middle" font-family="&quot;Liberation Serif&quot;, &quot;Times New Roman&quot;, serif">(<tspan font-weight="bold">d</tspan>)</text>
</g>
</svg></body></html>
